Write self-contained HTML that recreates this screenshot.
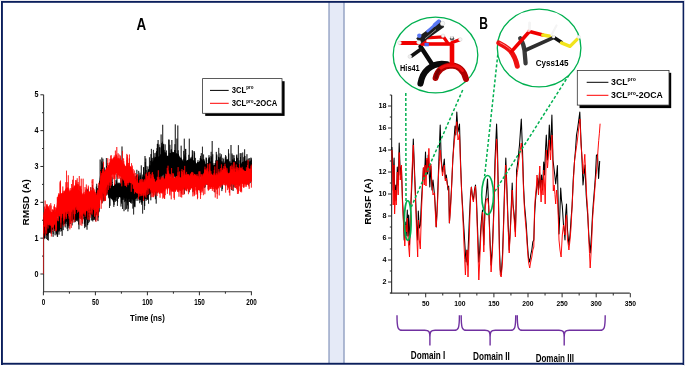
<!DOCTYPE html>
<html><head><meta charset="utf-8"><style>html,body{margin:0;padding:0;background:#fff;overflow:hidden}svg{display:block} svg{will-change:transform}</style></head>
<body><svg width="685" height="366" viewBox="0 0 685 366" font-family="'Liberation Sans', sans-serif"><rect x="0" y="0" width="685" height="366" fill="#fff"/>
<rect x="0" y="0" width="685" height="1" fill="#ebebf0"/>
<rect x="684" y="0" width="1" height="366" fill="#e6e8f0"/>
<rect x="328.2" y="2" width="16.6" height="361" fill="#e5eaf7"/>
<rect x="328.2" y="2" width="1.8" height="361" fill="#aab5d0"/>
<rect x="343" y="2" width="1.9" height="361" fill="#aab5d0"/>
<rect x="1" y="1" width="683" height="1.8" fill="#0b1f5c"/>
<rect x="1" y="1" width="1.9" height="364" fill="#0b1f5c"/>
<rect x="682.6" y="1" width="1.5" height="364" fill="#0b1f5c"/>
<rect x="1" y="362.8" width="683" height="1.9" fill="#0b1f5c"/>
<path d="M43.6,94.8 V291.9 M43.0,291.7 H251.8" stroke="#3a3a3a" stroke-width="1.1" fill="none"/>
<path d="M40.40,274.00 H43.6 M42.00,256.08 H43.6 M40.40,238.16 H43.6 M42.00,220.24 H43.6 M40.40,202.32 H43.6 M42.00,184.40 H43.6 M40.40,166.48 H43.6 M42.00,148.56 H43.6 M40.40,130.64 H43.6 M42.00,112.72 H43.6 M40.40,94.80 H43.6 M43.40,291.7 V295.30 M69.40,291.7 V293.70 M95.40,291.7 V295.30 M121.40,291.7 V293.70 M147.40,291.7 V295.30 M173.40,291.7 V293.70 M199.40,291.7 V295.30 M225.40,291.7 V293.70 M251.40,291.7 V295.30" stroke="#2a2a2a" stroke-width="1.0" fill="none"/>
<text x="38.4" y="276.50" font-size="8.2" font-weight="bold" text-anchor="end" fill="#000" textLength="4.0" lengthAdjust="spacingAndGlyphs">0</text>
<text x="38.4" y="240.66" font-size="8.2" font-weight="bold" text-anchor="end" fill="#000" textLength="4.0" lengthAdjust="spacingAndGlyphs">1</text>
<text x="38.4" y="204.82" font-size="8.2" font-weight="bold" text-anchor="end" fill="#000" textLength="4.0" lengthAdjust="spacingAndGlyphs">2</text>
<text x="38.4" y="168.98" font-size="8.2" font-weight="bold" text-anchor="end" fill="#000" textLength="4.0" lengthAdjust="spacingAndGlyphs">3</text>
<text x="38.4" y="133.14" font-size="8.2" font-weight="bold" text-anchor="end" fill="#000" textLength="4.0" lengthAdjust="spacingAndGlyphs">4</text>
<text x="38.4" y="97.30" font-size="8.2" font-weight="bold" text-anchor="end" fill="#000" textLength="4.0" lengthAdjust="spacingAndGlyphs">5</text>
<text x="43.40" y="305.0" font-size="8.2" font-weight="bold" text-anchor="middle" fill="#000" textLength="3.5" lengthAdjust="spacingAndGlyphs">0</text>
<text x="95.40" y="305.0" font-size="8.2" font-weight="bold" text-anchor="middle" fill="#000" textLength="7.0" lengthAdjust="spacingAndGlyphs">50</text>
<text x="147.40" y="305.0" font-size="8.2" font-weight="bold" text-anchor="middle" fill="#000" textLength="10.5" lengthAdjust="spacingAndGlyphs">100</text>
<text x="199.40" y="305.0" font-size="8.2" font-weight="bold" text-anchor="middle" fill="#000" textLength="10.5" lengthAdjust="spacingAndGlyphs">150</text>
<text x="251.40" y="305.0" font-size="8.2" font-weight="bold" text-anchor="middle" fill="#000" textLength="10.5" lengthAdjust="spacingAndGlyphs">200</text>
<text x="130.1" y="321.4" font-size="9.8" font-weight="bold" text-anchor="start" fill="#000" textLength="34.7" lengthAdjust="spacingAndGlyphs">Time (ns)</text>
<text transform="translate(28.8,225.4) rotate(-90)" x="0" y="0" font-size="9" font-weight="bold" fill="#000" textLength="46.2" lengthAdjust="spacingAndGlyphs">RMSD (A)</text>
<text x="136.4" y="30.1" font-size="16.7" font-weight="bold" text-anchor="start" fill="#000" textLength="9.7" lengthAdjust="spacingAndGlyphs">A</text>
<polygon points="44.0,219.4 44.5,219.7 45.0,220.4 45.5,219.2 46.0,220.1 46.5,222.3 47.0,222.3 47.5,222.2 48.0,222.3 48.5,222.0 49.0,222.2 49.5,222.0 50.0,220.3 50.5,220.9 51.0,219.6 51.5,218.8 52.0,217.4 52.5,217.0 53.0,217.8 53.5,216.0 54.0,218.2 54.5,217.8 55.0,218.0 55.5,218.2 56.0,219.3 56.5,220.0 57.0,220.8 57.5,220.1 58.0,220.1 58.5,219.6 59.0,218.4 59.5,217.8 60.0,215.6 60.5,215.9 61.0,213.0 61.5,212.7 62.0,211.4 62.5,212.2 63.0,211.0 63.5,210.7 64.0,210.6 64.5,209.3 65.0,208.5 65.5,208.8 66.0,207.6 66.5,208.4 67.0,206.8 67.5,207.3 68.0,208.5 68.5,207.3 69.0,207.6 69.5,207.3 70.0,208.0 70.5,206.7 71.0,206.0 71.5,207.6 72.0,206.4 72.5,205.8 73.0,204.7 73.5,205.9 74.0,205.8 74.5,205.8 75.0,205.8 75.5,204.1 76.0,205.6 76.5,204.5 77.0,205.2 77.5,204.4 78.0,204.1 78.5,203.5 79.0,204.0 79.5,202.9 80.0,201.5 80.5,202.0 81.0,199.9 81.5,200.6 82.0,199.3 82.5,200.4 83.0,200.5 83.5,199.5 84.0,201.3 84.5,200.2 85.0,201.4 85.5,202.5 86.0,201.3 86.5,202.9 87.0,202.8 87.5,200.8 88.0,201.7 88.5,199.8 89.0,199.1 89.5,199.3 90.0,196.2 90.5,197.5 91.0,195.9 91.5,196.7 92.0,196.1 92.5,196.0 93.0,195.4 93.5,195.6 94.0,196.8 94.5,197.5 95.0,197.8 95.5,197.7 96.0,197.3 96.5,194.6 97.0,194.2 97.5,194.5 98.0,193.1 98.5,192.8 99.0,186.1 99.5,181.0 100.0,175.3 100.5,170.5 101.0,170.1 101.5,172.5 102.0,172.9 102.5,173.1 103.0,172.2 103.5,173.0 104.0,173.4 104.5,174.0 105.0,171.9 105.5,171.4 106.0,172.8 106.5,169.9 107.0,169.8 107.5,172.8 108.0,176.5 108.5,178.9 109.0,182.3 109.5,184.1 110.0,183.0 110.5,184.3 111.0,185.9 111.5,186.4 112.0,185.9 112.5,186.2 113.0,186.0 113.5,185.9 114.0,185.7 114.5,184.1 115.0,184.5 115.5,185.2 116.0,184.7 116.5,182.8 117.0,182.3 117.5,183.6 118.0,184.0 118.5,184.1 119.0,182.9 119.5,183.1 120.0,185.3 120.5,184.0 121.0,186.1 121.5,183.1 122.0,182.4 122.5,182.6 123.0,182.1 123.5,181.8 124.0,181.7 124.5,181.5 125.0,181.6 125.5,179.9 126.0,181.1 126.5,180.3 127.0,180.4 127.5,181.6 128.0,180.7 128.5,180.6 129.0,179.9 129.5,181.9 130.0,181.4 130.5,181.2 131.0,181.1 131.5,180.7 132.0,181.7 132.5,179.7 133.0,181.6 133.5,180.3 134.0,179.6 134.5,179.4 135.0,179.5 135.5,180.1 136.0,179.0 136.5,179.1 137.0,179.5 137.5,178.6 138.0,179.3 138.5,178.8 139.0,179.4 139.5,179.3 140.0,180.4 140.5,180.5 141.0,181.2 141.5,180.2 142.0,180.7 142.5,179.8 143.0,178.4 143.5,177.0 144.0,177.1 144.5,176.6 145.0,174.1 145.5,173.4 146.0,174.5 146.5,172.9 147.0,173.1 147.5,172.6 148.0,169.8 148.5,169.1 149.0,168.7 149.5,166.1 150.0,165.8 150.5,164.9 151.0,166.1 151.5,164.3 152.0,162.6 152.5,161.0 153.0,161.7 153.5,160.8 154.0,159.5 154.5,157.6 155.0,157.9 155.5,156.6 156.0,158.0 156.5,156.9 157.0,156.8 157.5,157.3 158.0,156.8 158.5,157.0 159.0,155.8 159.5,156.6 160.0,156.7 160.5,154.6 161.0,154.4 161.5,153.8 162.0,152.3 162.5,151.2 163.0,152.6 163.5,152.5 164.0,151.7 164.5,153.7 165.0,153.5 165.5,155.0 166.0,154.8 166.5,156.0 167.0,156.1 167.5,155.9 168.0,155.9 168.5,157.3 169.0,155.3 169.5,155.2 170.0,155.3 170.5,154.0 171.0,152.7 171.5,152.4 172.0,151.1 172.5,152.3 173.0,152.3 173.5,152.8 174.0,152.2 174.5,152.8 175.0,153.4 175.5,154.3 176.0,154.1 176.5,153.0 177.0,154.8 177.5,154.6 178.0,153.9 178.5,154.0 179.0,155.9 179.5,156.2 180.0,157.5 180.5,157.9 181.0,156.8 181.5,157.9 182.0,159.3 182.5,159.5 183.0,161.0 183.5,161.9 184.0,162.6 184.5,162.5 185.0,162.9 185.5,162.8 186.0,162.3 186.5,160.4 187.0,159.9 187.5,159.7 188.0,160.6 188.5,159.6 189.0,159.1 189.5,159.9 190.0,158.4 190.5,159.6 191.0,158.8 191.5,159.5 192.0,158.3 192.5,160.5 193.0,160.1 193.5,160.0 194.0,161.0 194.5,160.6 195.0,161.4 195.5,161.6 196.0,162.9 196.5,163.7 197.0,163.1 197.5,162.0 198.0,162.2 198.5,162.4 199.0,162.3 199.5,160.6 200.0,161.5 200.5,161.1 201.0,161.1 201.5,159.3 202.0,160.6 202.5,159.7 203.0,160.9 203.5,161.2 204.0,160.4 204.5,161.3 205.0,161.6 205.5,164.0 206.0,164.4 206.5,164.1 207.0,164.4 207.5,162.7 208.0,164.0 208.5,162.2 209.0,161.6 209.5,162.0 210.0,163.5 210.5,163.3 211.0,163.9 211.5,164.5 212.0,163.8 212.5,165.2 213.0,164.3 213.5,165.6 214.0,165.5 214.5,164.7 215.0,164.7 215.5,163.3 216.0,162.9 216.5,160.9 217.0,160.9 217.5,160.7 218.0,160.1 218.5,158.5 219.0,157.9 219.5,160.3 220.0,159.9 220.5,159.4 221.0,160.6 221.5,161.2 222.0,162.9 222.5,162.5 223.0,162.7 223.5,163.1 224.0,163.3 224.5,162.6 225.0,161.2 225.5,162.1 226.0,159.6 226.5,159.5 227.0,158.9 227.5,159.2 228.0,160.3 228.5,161.0 229.0,160.5 229.5,161.3 230.0,162.8 230.5,163.2 231.0,162.9 231.5,163.6 232.0,162.7 232.5,161.9 233.0,163.2 233.5,162.7 234.0,161.3 234.5,162.9 235.0,161.4 235.5,160.8 236.0,162.6 236.5,162.8 237.0,162.5 237.5,162.8 238.0,164.2 238.5,164.7 239.0,164.6 239.5,165.4 240.0,163.8 240.5,163.4 241.0,164.5 241.5,163.6 242.0,162.1 242.5,162.1 243.0,161.8 243.5,162.3 244.0,160.4 244.5,160.8 245.0,160.0 245.5,161.2 246.0,161.8 246.5,160.4 247.0,160.3 247.5,160.9 248.0,160.6 248.5,160.6 249.0,162.1 249.5,160.8 250.0,162.0 250.5,160.4 251.0,161.4 251.0,176.0 250.5,176.9 250.0,175.7 249.5,176.2 249.0,177.5 248.5,176.6 248.0,177.4 247.5,176.5 247.0,176.3 246.5,175.5 246.0,177.2 245.5,177.5 245.0,177.1 244.5,175.7 244.0,176.5 243.5,176.9 243.0,178.4 242.5,178.2 242.0,179.4 241.5,179.6 241.0,179.2 240.5,178.9 240.0,181.0 239.5,180.9 239.0,179.5 238.5,179.3 238.0,179.9 237.5,178.3 237.0,179.1 236.5,178.8 236.0,177.9 235.5,176.5 235.0,176.4 234.5,177.2 234.0,177.5 233.5,178.4 233.0,178.3 232.5,178.9 232.0,178.9 231.5,177.9 231.0,178.7 230.5,177.7 230.0,178.1 229.5,176.4 229.0,177.0 228.5,177.2 228.0,176.3 227.5,176.6 227.0,175.8 226.5,177.2 226.0,177.8 225.5,176.4 225.0,177.0 224.5,177.8 224.0,179.8 223.5,180.0 223.0,179.6 222.5,180.3 222.0,177.6 221.5,178.5 221.0,176.3 220.5,176.9 220.0,174.9 219.5,174.4 219.0,174.8 218.5,174.7 218.0,175.9 217.5,175.8 217.0,177.6 216.5,178.5 216.0,177.7 215.5,180.2 215.0,179.2 214.5,180.1 214.0,181.0 213.5,181.6 213.0,180.3 212.5,180.7 212.0,179.7 211.5,179.5 211.0,179.5 210.5,179.5 210.0,178.0 209.5,179.2 209.0,178.6 208.5,179.9 208.0,178.3 207.5,179.8 207.0,178.6 206.5,180.8 206.0,179.6 205.5,178.7 205.0,179.4 204.5,177.4 204.0,177.0 203.5,176.2 203.0,178.0 202.5,175.5 202.0,176.6 201.5,175.8 201.0,176.1 200.5,176.8 200.0,176.9 199.5,177.0 199.0,178.3 198.5,178.4 198.0,178.7 197.5,181.1 197.0,179.9 196.5,179.1 196.0,179.8 195.5,178.6 195.0,179.4 194.5,178.0 194.0,177.7 193.5,177.3 193.0,176.9 192.5,176.5 192.0,176.4 191.5,176.2 191.0,176.9 190.5,176.6 190.0,178.0 189.5,177.0 189.0,177.4 188.5,178.2 188.0,178.3 187.5,178.7 187.0,178.4 186.5,178.5 186.0,180.0 185.5,180.2 185.0,181.7 184.5,180.3 184.0,181.1 183.5,180.7 183.0,179.3 182.5,180.7 182.0,180.5 181.5,178.0 181.0,178.3 180.5,178.6 180.0,177.1 179.5,178.8 179.0,177.4 178.5,177.3 178.0,177.2 177.5,176.9 177.0,176.9 176.5,177.3 176.0,176.9 175.5,175.9 175.0,175.0 174.5,176.2 174.0,174.8 173.5,174.0 173.0,175.0 172.5,173.0 172.0,173.8 171.5,175.0 171.0,174.7 170.5,175.4 170.0,177.7 169.5,178.5 169.0,177.8 168.5,179.6 168.0,178.4 167.5,178.8 167.0,179.8 166.5,179.1 166.0,177.4 165.5,176.5 165.0,175.4 164.5,174.3 164.0,174.7 163.5,174.5 163.0,175.1 162.5,175.9 162.0,175.3 161.5,176.8 161.0,178.0 160.5,179.3 160.0,178.7 159.5,179.4 159.0,181.7 158.5,181.4 158.0,180.4 157.5,181.9 157.0,181.4 156.5,181.1 156.0,182.8 155.5,183.5 155.0,184.3 154.5,184.8 154.0,186.0 153.5,186.2 153.0,186.7 152.5,190.2 152.0,191.1 151.5,191.1 151.0,192.8 150.5,194.1 150.0,194.4 149.5,194.4 149.0,195.4 148.5,194.8 148.0,196.1 147.5,194.6 147.0,195.8 146.5,196.6 146.0,196.6 145.5,196.4 145.0,195.8 144.5,196.3 144.0,198.8 143.5,198.9 143.0,198.3 142.5,200.6 142.0,199.6 141.5,200.5 141.0,200.1 140.5,200.6 140.0,199.7 139.5,200.3 139.0,199.4 138.5,198.1 138.0,197.9 137.5,196.9 137.0,197.4 136.5,198.9 136.0,198.6 135.5,199.4 135.0,197.8 134.5,198.9 134.0,198.3 133.5,199.5 133.0,199.0 132.5,199.6 132.0,198.2 131.5,199.4 131.0,199.0 130.5,199.6 130.0,198.1 129.5,198.7 129.0,198.9 128.5,198.8 128.0,198.8 127.5,198.6 127.0,198.9 126.5,197.7 126.0,199.1 125.5,197.8 125.0,199.1 124.5,197.0 124.0,197.9 123.5,196.6 123.0,197.7 122.5,198.8 122.0,199.1 121.5,199.4 121.0,197.9 120.5,197.5 120.0,197.0 119.5,196.9 119.0,197.6 118.5,197.2 118.0,197.2 117.5,197.6 117.0,197.5 116.5,196.8 116.0,197.9 115.5,197.3 115.0,199.0 114.5,198.5 114.0,199.6 113.5,198.9 113.0,200.2 112.5,200.2 112.0,199.2 111.5,199.5 111.0,198.4 110.5,198.4 110.0,196.8 109.5,196.7 109.0,196.8 108.5,194.9 108.0,193.9 107.5,193.8 107.0,192.3 106.5,193.5 106.0,195.1 105.5,194.0 105.0,194.8 104.5,195.0 104.0,196.5 103.5,196.6 103.0,195.8 102.5,196.8 102.0,194.3 101.5,195.6 101.0,195.1 100.5,194.7 100.0,196.9 99.5,202.2 99.0,206.6 98.5,209.7 98.0,211.8 97.5,211.6 97.0,211.8 96.5,213.6 96.0,213.7 95.5,214.8 95.0,214.4 94.5,212.7 94.0,213.0 93.5,212.1 93.0,212.4 92.5,212.5 92.0,213.1 91.5,211.7 91.0,213.7 90.5,214.3 90.0,215.0 89.5,213.9 89.0,215.4 88.5,216.3 88.0,216.8 87.5,217.4 87.0,217.9 86.5,218.7 86.0,217.7 85.5,218.7 85.0,216.6 84.5,215.9 84.0,216.1 83.5,216.1 83.0,214.7 82.5,215.2 82.0,215.1 81.5,214.8 81.0,216.1 80.5,216.2 80.0,216.8 79.5,218.7 79.0,217.6 78.5,218.9 78.0,219.8 77.5,219.4 77.0,219.6 76.5,220.0 76.0,221.2 75.5,219.0 75.0,220.6 74.5,219.7 74.0,220.0 73.5,219.1 73.0,220.5 72.5,220.6 72.0,219.4 71.5,220.8 71.0,220.3 70.5,221.4 70.0,221.0 69.5,221.4 69.0,221.5 68.5,221.4 68.0,221.2 67.5,222.7 67.0,222.6 66.5,221.0 66.0,221.9 65.5,221.2 65.0,221.6 64.5,224.1 64.0,224.5 63.5,223.4 63.0,223.2 62.5,223.7 62.0,226.1 61.5,225.5 61.0,227.9 60.5,229.3 60.0,227.9 59.5,230.0 59.0,229.8 58.5,231.3 58.0,232.7 57.5,231.0 57.0,233.1 56.5,232.6 56.0,232.0 55.5,230.6 55.0,229.5 54.5,228.8 54.0,228.7 53.5,228.0 53.0,227.7 52.5,229.9 52.0,230.0 51.5,230.9 51.0,231.6 50.5,231.4 50.0,231.2 49.5,233.1 49.0,232.2 48.5,234.1 48.0,234.4 47.5,232.5 47.0,233.0 46.5,232.6 46.0,231.6 45.5,232.7 45.0,230.5 44.5,231.7 44.0,231.7" fill="#000"/>
<polyline points="43.60,238.0 43.80,220.8 43.85,224.9 43.89,219.8 43.94,222.5 43.98,219.1 44.03,217.0 44.07,227.8 44.12,230.9 44.16,239.1 44.21,231.2 44.25,228.9 44.30,227.9 44.35,228.0 44.39,229.7 44.44,220.3 44.48,225.9 44.53,219.7 44.57,222.7 44.62,238.0 44.66,231.7 44.71,227.5 44.75,229.4 44.80,228.0 44.85,222.7 44.89,238.1 44.94,226.8 44.98,230.5 45.03,227.7 45.07,227.4 45.12,223.4 45.16,231.5 45.21,227.2 45.25,227.8 45.30,227.7 45.35,222.6 45.39,222.7 45.44,228.5 45.48,231.7 45.53,229.7 45.57,231.2 45.62,225.8 45.66,234.2 45.71,233.9 45.75,225.3 45.80,226.6 45.85,229.6 45.89,227.5 45.94,228.6 45.98,227.8 46.03,232.8 46.07,234.3 46.12,229.2 46.16,228.9 46.21,230.0 46.25,228.4 46.30,230.3 46.35,231.9 46.39,239.0 46.44,231.2 46.48,230.0 46.53,228.9 46.57,234.5 46.62,227.9 46.66,225.5 46.71,229.0 46.75,229.3 46.80,225.7 46.85,224.2 46.89,229.0 46.94,228.5 46.98,229.7 47.03,232.1 47.07,224.0 47.12,232.4 47.16,227.9 47.21,222.5 47.25,234.1 47.30,231.8 47.35,235.6 47.39,232.4 47.44,223.2 47.48,240.0 47.53,233.1 47.57,221.4 47.62,227.0 47.66,218.4 47.71,229.9 47.75,223.9 47.80,229.4 47.85,224.4 47.89,221.1 47.94,221.6 47.98,233.3 48.03,230.2 48.07,228.5 48.12,222.6 48.16,231.2 48.21,233.0 48.25,227.4 48.30,227.9 48.35,220.8 48.39,240.5 48.44,223.7 48.48,228.1 48.53,219.7 48.57,226.8 48.62,228.7 48.66,232.4 48.71,233.0 48.75,227.5 48.80,230.8 48.85,232.9 48.89,227.8 48.94,217.7 48.98,219.4 49.03,224.5 49.07,222.5 49.12,221.5 49.16,229.0 49.21,227.7 49.25,228.3 49.30,226.9 49.35,224.4 49.39,232.7 49.44,229.0 49.48,228.3 49.53,228.5 49.57,228.8 49.62,223.7 49.66,220.8 49.71,222.7 49.75,222.2 49.80,229.2 49.85,228.3 49.89,226.9 49.94,230.6 49.98,223.3 50.03,220.2 50.07,224.8 50.12,224.6 50.16,228.5 50.21,230.7 50.25,224.5 50.30,229.1 50.35,231.9 50.39,227.3 50.44,225.2 50.48,217.8 50.53,223.8 50.57,233.4 50.62,222.2 50.66,222.1 50.71,226.1 50.75,222.6 50.80,217.1 50.85,218.8 50.89,222.5 50.94,222.3 50.98,219.8 51.03,228.7 51.07,220.0 51.12,221.6 51.16,227.7 51.21,224.5 51.25,225.4 51.30,229.9 51.35,223.8 51.39,220.1 51.44,220.6 51.48,226.1 51.53,227.2 51.57,233.5 51.62,226.2 51.66,223.8 51.71,223.0 51.75,222.7 51.80,217.0 51.85,224.8 51.89,223.6 51.94,222.1 51.98,232.0 52.03,225.1 52.07,227.4 52.12,228.6 52.16,222.3 52.21,223.3 52.25,225.2 52.30,223.2 52.35,224.2 52.39,226.5 52.44,221.1 52.48,226.7 52.53,228.5 52.57,229.2 52.62,221.6 52.66,221.4 52.71,219.7 52.75,220.8 52.80,218.4 52.85,216.6 52.89,221.6 52.94,219.8 52.98,224.3 53.03,221.4 53.07,225.1 53.12,236.8 53.16,231.3 53.21,233.9 53.25,230.5 53.30,222.7 53.35,217.4 53.39,223.8 53.44,219.4 53.48,212.5 53.53,210.5 53.57,216.4 53.62,220.2 53.66,223.0 53.71,218.1 53.75,218.8 53.80,222.0 53.85,225.1 53.89,225.7 53.94,223.5 53.98,216.2 54.03,221.3 54.07,217.7 54.12,219.9 54.16,219.0 54.21,213.2 54.25,217.9 54.30,216.2 54.35,219.0 54.39,221.1 54.44,219.8 54.48,213.4 54.53,214.3 54.57,215.9 54.62,219.2 54.66,230.9 54.71,229.0 54.75,222.3 54.80,220.5 54.85,215.2 54.89,219.2 54.94,219.9 54.98,226.0 55.03,225.2 55.07,225.8 55.12,235.3 55.16,226.7 55.21,220.7 55.25,228.7 55.30,226.5 55.35,226.3 55.39,225.2 55.44,224.7 55.48,229.0 55.53,225.4 55.57,226.4 55.62,220.6 55.66,221.1 55.71,229.1 55.75,226.8 55.80,219.8 55.85,218.2 55.89,224.2 55.94,228.7 55.98,225.8 56.03,224.5 56.07,219.0 56.12,221.1 56.16,220.1 56.21,218.1 56.25,221.5 56.30,224.2 56.35,228.8 56.39,233.2 56.44,229.4 56.48,226.1 56.53,234.3 56.57,234.2 56.62,233.1 56.66,228.9 56.71,226.5 56.75,221.3 56.80,221.8 56.85,222.5 56.89,224.6 56.94,226.6 56.98,220.2 57.03,225.3 57.07,221.6 57.12,221.5 57.16,234.5 57.21,230.0 57.25,234.9 57.30,236.5 57.35,228.9 57.39,230.1 57.44,222.7 57.48,220.8 57.53,223.3 57.57,236.9 57.62,232.8 57.66,229.6 57.71,226.1 57.75,224.4 57.80,230.7 57.85,231.6 57.89,225.0 57.94,228.8 57.98,226.8 58.03,217.6 58.07,223.7 58.12,218.6 58.16,218.8 58.21,223.6 58.25,216.7 58.30,210.3 58.35,217.1 58.39,210.9 58.44,225.5 58.48,230.4 58.53,222.8 58.57,221.7 58.62,223.5 58.66,222.3 58.71,226.8 58.75,227.6 58.80,225.5 58.85,227.4 58.89,224.3 58.94,226.0 58.98,234.6 59.03,224.0 59.07,225.3 59.12,220.9 59.16,231.4 59.21,223.7 59.25,220.8 59.30,225.5 59.35,226.6 59.39,230.7 59.44,230.1 59.48,221.7 59.53,225.2 59.57,221.7 59.62,216.6 59.66,218.2 59.71,221.1 59.75,220.4 59.80,223.3 59.85,224.0 59.89,229.0 59.94,229.2 59.98,223.7 60.03,220.2 60.07,213.3 60.12,216.7 60.16,226.3 60.21,222.8 60.25,221.0 60.30,214.2 60.35,221.2 60.39,215.2 60.44,223.4 60.48,213.9 60.53,210.2 60.57,214.7 60.62,215.6 60.66,219.7 60.71,218.3 60.75,221.7 60.80,218.0 60.85,231.6 60.89,231.4 60.94,230.6 60.98,230.5 61.03,227.5 61.07,226.2 61.12,223.7 61.16,222.7 61.21,229.0 61.25,226.1 61.30,226.6 61.35,220.9 61.39,226.0 61.44,222.2 61.48,231.0 61.53,213.6 61.57,212.9 61.62,227.4 61.66,226.9 61.71,217.2 61.75,217.1 61.80,203.4 61.85,214.5 61.89,215.1 61.94,210.4 61.98,212.8 62.03,219.1 62.07,208.7 62.12,202.3 62.16,235.9 62.21,223.5 62.25,224.3 62.30,223.2 62.35,215.2 62.39,217.4 62.44,220.3 62.48,215.9 62.53,218.8 62.57,217.3 62.62,211.8 62.66,213.2 62.71,213.9 62.75,219.7 62.80,211.0 62.85,215.9 62.89,220.6 62.94,222.1 62.98,223.2 63.03,214.0 63.07,214.8 63.12,212.5 63.16,230.1 63.21,224.7 63.25,217.9 63.30,214.8 63.35,214.6 63.39,220.1 63.44,218.4 63.48,221.0 63.53,224.9 63.57,218.7 63.62,218.8 63.66,215.9 63.71,212.9 63.75,207.8 63.80,215.7 63.85,210.5 63.89,214.9 63.94,217.9 63.98,221.8 64.03,216.6 64.07,217.5 64.12,207.8 64.16,211.3 64.21,214.3 64.25,224.0 64.30,219.1 64.35,222.1 64.39,219.6 64.44,221.7 64.48,221.9 64.53,222.1 64.57,213.0 64.62,219.6 64.66,214.2 64.71,220.0 64.75,224.1 64.80,217.9 64.85,207.7 64.89,209.4 64.94,210.2 64.98,206.2 65.03,207.4 65.07,208.0 65.12,216.1 65.16,223.0 65.21,227.4 65.25,217.9 65.30,215.3 65.35,218.2 65.39,210.7 65.44,210.5 65.48,223.3 65.53,220.9 65.57,215.4 65.62,218.5 65.66,217.5 65.71,214.1 65.75,211.1 65.80,208.3 65.85,216.3 65.89,217.5 65.94,221.7 65.98,215.6 66.03,214.1 66.07,210.5 66.12,211.0 66.16,211.7 66.21,210.9 66.25,207.9 66.30,212.5 66.35,214.2 66.39,206.2 66.44,215.8 66.48,207.0 66.53,201.0 66.57,203.6 66.62,199.4 66.66,211.6 66.71,211.6 66.75,202.6 66.80,208.8 66.85,207.5 66.89,215.0 66.94,218.8 66.98,224.1 67.03,221.9 67.07,216.6 67.12,220.4 67.16,228.7 67.21,214.8 67.25,206.7 67.30,215.0 67.35,204.9 67.39,205.4 67.44,214.5 67.48,199.6 67.53,216.0 67.57,216.9 67.62,212.0 67.66,216.1 67.71,225.9 67.75,222.3 67.80,231.1 67.85,217.2 67.89,212.7 67.94,224.6 67.98,222.0 68.03,214.2 68.07,226.4 68.12,209.1 68.16,215.5 68.21,224.7 68.25,218.9 68.30,212.3 68.35,212.8 68.39,210.9 68.44,210.7 68.48,213.3 68.53,213.0 68.57,210.4 68.62,207.8 68.66,203.4 68.71,213.9 68.75,209.6 68.80,218.7 68.85,213.2 68.89,225.9 68.94,227.9 68.98,219.5 69.03,216.6 69.07,215.4 69.12,223.9 69.16,219.2 69.21,212.9 69.25,217.8 69.30,225.9 69.35,211.8 69.39,215.0 69.44,211.4 69.48,212.8 69.53,208.7 69.57,217.1 69.62,205.8 69.66,209.6 69.71,214.8 69.75,213.5 69.80,210.9 69.85,210.1 69.89,214.1 69.94,205.3 69.98,210.8 70.03,219.0 70.07,209.8 70.12,207.3 70.16,211.8 70.21,215.5 70.25,209.7 70.30,214.0 70.35,224.0 70.39,223.8 70.44,219.8 70.48,213.2 70.53,217.8 70.57,217.0 70.62,214.8 70.66,221.1 70.71,219.3 70.75,220.0 70.80,221.3 70.85,209.7 70.89,209.3 70.94,214.3 70.98,205.3 71.03,210.1 71.07,203.7 71.12,211.1 71.16,214.6 71.21,212.3 71.25,211.2 71.30,213.3 71.35,214.2 71.39,205.5 71.44,205.9 71.48,208.5 71.53,208.0 71.57,214.3 71.62,219.0 71.66,217.6 71.71,211.1 71.75,219.0 71.80,220.6 71.85,213.2 71.89,206.7 71.94,216.2 71.98,217.5 72.03,221.4 72.07,218.7 72.12,221.7 72.16,225.4 72.21,219.0 72.25,214.7 72.30,215.3 72.35,214.1 72.39,214.7 72.44,204.7 72.48,216.3 72.53,212.8 72.57,215.3 72.62,215.1 72.66,205.7 72.71,207.2 72.75,214.8 72.80,209.8 72.85,219.5 72.89,213.2 72.94,215.5 72.98,213.2 73.03,212.3 73.07,209.9 73.12,210.7 73.16,210.6 73.21,204.1 73.25,206.9 73.30,218.1 73.35,218.0 73.39,212.6 73.44,213.1 73.48,214.5 73.53,204.9 73.57,205.0 73.62,203.2 73.66,197.6 73.71,198.6 73.75,195.3 73.80,202.0 73.85,205.7 73.89,214.1 73.94,215.4 73.98,213.5 74.03,216.2 74.07,218.4 74.12,222.4 74.16,214.5 74.21,218.3 74.25,213.5 74.30,206.6 74.35,205.7 74.39,212.4 74.44,218.4 74.48,217.7 74.53,213.3 74.57,216.6 74.62,220.0 74.66,212.0 74.71,214.7 74.75,219.2 74.80,211.4 74.85,217.4 74.89,209.8 74.94,205.9 74.98,207.6 75.03,220.1 75.07,217.6 75.12,214.3 75.16,211.7 75.21,216.9 75.25,216.1 75.30,218.0 75.35,222.1 75.39,217.4 75.44,207.2 75.48,210.2 75.53,202.0 75.57,203.5 75.62,201.7 75.66,216.4 75.71,211.8 75.75,204.4 75.80,212.6 75.85,219.0 75.89,212.8 75.94,216.0 75.98,214.6 76.03,217.7 76.07,212.4 76.12,212.3 76.16,219.2 76.21,221.0 76.25,217.7 76.30,209.0 76.35,212.0 76.39,211.0 76.44,213.4 76.48,207.8 76.53,209.1 76.57,206.1 76.62,215.0 76.66,205.2 76.71,206.8 76.75,202.3 76.80,211.2 76.85,215.6 76.89,214.4 76.94,214.3 76.98,216.3 77.03,213.8 77.07,209.4 77.12,206.9 77.16,217.9 77.21,217.8 77.25,213.1 77.30,221.4 77.35,216.3 77.39,215.4 77.44,210.6 77.48,214.8 77.53,212.4 77.57,217.7 77.62,220.4 77.66,215.6 77.71,214.9 77.75,210.5 77.80,215.2 77.85,211.9 77.89,211.5 77.94,212.7 77.98,209.2 78.03,207.5 78.07,206.8 78.12,212.6 78.16,215.9 78.21,210.9 78.25,193.5 78.30,204.1 78.35,202.2 78.39,207.5 78.44,216.1 78.48,216.3 78.53,211.7 78.57,224.5 78.62,208.1 78.66,213.4 78.71,215.7 78.75,214.1 78.80,206.7 78.85,216.2 78.89,217.5 78.94,229.3 78.98,215.2 79.03,204.3 79.07,212.1 79.12,203.0 79.16,212.3 79.21,209.8 79.25,211.3 79.30,210.3 79.35,206.3 79.39,211.9 79.44,205.9 79.48,214.1 79.53,216.3 79.57,210.5 79.62,210.2 79.66,206.3 79.71,206.7 79.75,205.2 79.80,191.8 79.85,211.8 79.89,197.3 79.94,200.3 79.98,201.0 80.03,213.8 80.07,198.6 80.12,210.2 80.16,208.9 80.21,205.7 80.25,212.3 80.30,209.2 80.35,212.4 80.39,210.6 80.44,207.4 80.48,205.1 80.53,212.0 80.57,204.2 80.62,214.7 80.66,218.8 80.71,210.8 80.75,204.6 80.80,200.7 80.85,200.3 80.89,200.1 80.94,199.8 80.98,207.1 81.03,206.4 81.07,207.0 81.12,202.7 81.16,196.1 81.21,208.7 81.25,204.3 81.30,206.4 81.35,217.1 81.39,208.5 81.44,210.3 81.48,209.0 81.53,208.4 81.57,218.5 81.62,215.6 81.66,208.9 81.71,214.8 81.75,214.5 81.80,211.6 81.85,219.9 81.89,201.9 81.94,201.0 81.98,202.6 82.03,207.0 82.07,214.4 82.12,202.9 82.16,196.7 82.21,209.3 82.25,223.7 82.30,223.0 82.35,221.8 82.39,208.2 82.44,206.9 82.48,207.6 82.53,204.4 82.57,202.6 82.62,206.3 82.66,209.6 82.71,210.5 82.75,211.1 82.80,206.9 82.85,210.2 82.89,208.4 82.94,202.6 82.98,210.0 83.03,215.3 83.07,206.1 83.12,210.3 83.16,203.9 83.21,213.2 83.25,207.9 83.30,219.2 83.35,210.7 83.39,203.6 83.44,205.4 83.48,198.8 83.53,199.3 83.57,205.9 83.62,204.6 83.66,214.9 83.71,208.8 83.75,210.1 83.80,204.5 83.85,208.8 83.89,202.4 83.94,201.4 83.98,209.5 84.03,211.8 84.07,207.5 84.12,203.3 84.16,214.0 84.21,212.5 84.25,205.6 84.30,208.2 84.35,224.1 84.39,213.5 84.44,215.1 84.48,204.6 84.53,212.6 84.57,213.4 84.62,214.7 84.66,228.1 84.71,222.7 84.75,220.5 84.80,219.0 84.85,221.4 84.89,215.1 84.94,222.8 84.98,220.9 85.03,219.6 85.07,226.2 85.12,213.6 85.16,204.6 85.21,205.5 85.25,205.4 85.30,214.1 85.35,213.6 85.39,213.5 85.44,212.4 85.48,206.8 85.53,209.6 85.57,216.0 85.62,214.6 85.66,210.1 85.71,217.1 85.75,212.2 85.80,221.0 85.85,227.0 85.89,206.2 85.94,199.0 85.98,207.4 86.03,209.3 86.07,202.7 86.12,197.5 86.16,207.9 86.21,211.2 86.25,207.5 86.30,214.9 86.35,219.7 86.39,212.5 86.44,207.5 86.48,211.9 86.53,206.9 86.57,213.2 86.62,205.9 86.66,210.8 86.71,217.2 86.75,216.4 86.80,213.8 86.85,214.6 86.89,208.2 86.94,209.6 86.98,215.9 87.03,229.7 87.07,206.4 87.12,214.2 87.16,206.0 87.21,203.0 87.25,196.7 87.30,202.3 87.35,206.0 87.39,212.6 87.44,215.0 87.48,207.8 87.53,223.4 87.57,225.2 87.62,212.9 87.66,221.2 87.71,224.8 87.75,220.6 87.80,202.2 87.85,201.4 87.89,214.4 87.94,188.8 87.98,201.2 88.03,189.7 88.07,200.6 88.12,198.5 88.16,197.7 88.21,205.3 88.25,206.8 88.30,205.4 88.35,203.2 88.39,199.4 88.44,198.5 88.48,217.1 88.53,214.2 88.57,217.1 88.62,221.3 88.66,223.1 88.71,210.2 88.75,211.4 88.80,200.5 88.85,204.4 88.89,213.8 88.94,216.7 88.98,213.7 89.03,215.7 89.07,205.4 89.12,202.4 89.16,207.8 89.21,202.7 89.25,210.1 89.30,207.8 89.35,206.6 89.39,216.3 89.44,221.7 89.48,218.5 89.53,204.9 89.57,209.0 89.62,213.2 89.66,206.1 89.71,206.1 89.75,203.3 89.80,213.6 89.85,211.8 89.89,207.0 89.94,209.3 89.98,208.4 90.03,204.4 90.07,207.3 90.12,213.4 90.16,210.1 90.21,199.8 90.25,200.3 90.30,197.4 90.35,198.2 90.39,213.1 90.44,209.0 90.48,208.1 90.53,205.2 90.57,209.4 90.62,206.3 90.66,210.4 90.71,210.0 90.75,204.7 90.80,198.7 90.85,196.8 90.89,193.3 90.94,187.4 90.98,209.2 91.03,211.5 91.07,208.5 91.12,213.0 91.16,215.3 91.21,207.2 91.25,207.3 91.30,220.4 91.35,210.9 91.39,205.5 91.44,202.0 91.48,201.8 91.53,204.4 91.57,202.6 91.62,211.0 91.66,209.0 91.71,213.0 91.75,200.1 91.80,198.2 91.85,200.4 91.89,198.1 91.94,201.0 91.98,200.0 92.03,202.2 92.07,210.8 92.12,206.0 92.16,200.1 92.21,210.2 92.25,220.3 92.30,207.8 92.35,212.9 92.39,209.4 92.44,200.3 92.48,196.7 92.53,185.0 92.57,192.7 92.62,208.9 92.66,195.2 92.71,204.2 92.75,196.0 92.80,221.4 92.85,191.3 92.89,200.9 92.94,197.2 92.98,211.2 93.03,208.8 93.07,201.1 93.12,201.9 93.16,204.4 93.21,217.1 93.25,210.7 93.30,214.6 93.35,210.3 93.39,216.4 93.44,210.2 93.48,220.0 93.53,210.6 93.57,212.9 93.62,210.8 93.66,200.4 93.71,202.8 93.75,208.2 93.80,202.6 93.85,208.0 93.89,204.0 93.94,206.7 93.98,200.1 94.03,211.9 94.07,200.0 94.12,197.0 94.16,208.3 94.21,207.4 94.25,209.2 94.30,205.5 94.35,219.3 94.39,208.7 94.44,213.2 94.48,216.9 94.53,217.2 94.57,218.3 94.62,218.3 94.66,209.7 94.71,205.4 94.75,219.9 94.80,211.5 94.85,210.1 94.89,213.2 94.94,214.6 94.98,210.6 95.03,200.4 95.07,203.3 95.12,206.8 95.16,212.6 95.21,205.6 95.25,200.7 95.30,200.9 95.35,194.9 95.39,202.2 95.44,209.2 95.48,221.2 95.53,213.7 95.57,203.2 95.62,208.9 95.66,216.1 95.71,212.7 95.75,219.9 95.80,208.6 95.85,207.7 95.89,211.0 95.94,209.2 95.98,198.4 96.03,203.1 96.07,210.1 96.12,201.9 96.16,197.9 96.21,202.6 96.25,214.9 96.30,204.9 96.35,186.6 96.39,194.5 96.44,198.7 96.48,197.0 96.53,205.5 96.57,203.2 96.62,199.0 96.66,208.2 96.71,183.8 96.75,201.4 96.80,197.9 96.85,195.7 96.89,190.8 96.94,198.2 96.98,198.4 97.03,201.9 97.07,208.1 97.12,195.8 97.16,192.9 97.21,197.9 97.25,193.3 97.30,198.7 97.35,195.1 97.39,198.9 97.44,206.6 97.48,194.9 97.53,194.3 97.57,188.1 97.62,196.6 97.66,195.8 97.71,199.6 97.75,215.2 97.80,202.5 97.85,211.7 97.89,215.2 97.94,204.9 97.98,217.3 98.03,221.1 98.07,215.3 98.12,217.5 98.16,207.3 98.21,202.1 98.25,209.2 98.30,197.3 98.35,185.5 98.39,187.0 98.44,189.7 98.48,199.4 98.53,201.4 98.57,196.3 98.62,195.2 98.66,189.8 98.71,197.8 98.75,206.9 98.80,194.9 98.85,209.6 98.89,212.3 98.94,201.5 98.98,196.0 99.03,200.6 99.07,211.4 99.12,206.1 99.16,200.0 99.21,191.4 99.25,192.7 99.30,199.2 99.35,190.3 99.39,198.2 99.44,188.4 99.48,193.6 99.53,195.8 99.57,192.0 99.62,191.6 99.66,180.8 99.71,189.6 99.75,185.7 99.80,181.9 99.85,183.8 99.89,191.4 99.94,197.2 99.98,190.8 100.03,181.4 100.07,181.1 100.12,174.5 100.16,159.5 100.21,175.1 100.25,185.4 100.30,187.3 100.35,191.4 100.39,193.5 100.44,177.9 100.48,187.0 100.53,197.4 100.57,193.7 100.62,186.5 100.66,184.7 100.71,179.6 100.75,181.8 100.80,170.8 100.85,177.6 100.89,185.4 100.94,189.0 100.98,177.1 101.03,179.4 101.07,180.4 101.12,196.7 101.16,183.7 101.21,190.1 101.25,180.3 101.30,175.5 101.35,170.0 101.39,179.3 101.44,168.3 101.48,188.5 101.53,175.6 101.57,186.8 101.62,181.7 101.66,162.1 101.71,161.5 101.75,177.4 101.80,157.5 101.85,164.8 101.89,183.0 101.94,184.3 101.98,179.6 102.03,177.8 102.07,187.0 102.12,203.1 102.16,200.6 102.21,177.8 102.25,177.6 102.30,167.0 102.35,175.5 102.39,193.1 102.44,193.3 102.48,188.5 102.53,183.4 102.57,163.5 102.62,164.3 102.66,172.7 102.71,188.4 102.75,178.8 102.80,177.6 102.85,183.4 102.89,158.7 102.94,166.9 102.98,167.3 103.03,187.4 103.07,181.6 103.12,171.2 103.16,176.9 103.21,188.7 103.25,178.2 103.30,190.3 103.35,201.3 103.39,179.1 103.44,184.7 103.48,187.3 103.53,185.3 103.57,194.8 103.62,196.9 103.66,175.9 103.71,178.1 103.75,174.4 103.80,172.6 103.85,180.0 103.89,172.2 103.94,173.7 103.98,181.4 104.03,194.6 104.07,184.9 104.12,192.5 104.16,199.6 104.21,185.9 104.25,183.8 104.30,178.8 104.35,183.0 104.39,191.8 104.44,200.6 104.48,196.4 104.53,180.0 104.57,179.4 104.62,167.5 104.66,195.3 104.71,193.5 104.75,190.5 104.80,190.5 104.85,193.4 104.89,184.8 104.94,192.9 104.98,183.8 105.03,190.2 105.07,187.1 105.12,187.1 105.16,185.1 105.21,188.6 105.25,179.1 105.30,181.0 105.35,173.7 105.39,170.3 105.44,170.0 105.48,181.1 105.53,172.3 105.57,176.1 105.62,180.1 105.66,183.5 105.71,186.7 105.75,174.0 105.80,189.2 105.85,174.6 105.89,178.5 105.94,171.7 105.98,195.9 106.03,172.0 106.07,182.9 106.12,185.6 106.16,177.1 106.21,179.2 106.25,184.1 106.30,183.1 106.35,187.6 106.40,158.0 106.44,168.9 106.48,168.1 106.53,166.0 106.57,168.1 106.62,185.0 106.66,176.3 106.71,171.9 106.75,174.8 106.80,184.0 106.85,183.5 106.89,195.0 106.94,194.4 106.98,184.4 107.03,181.7 107.07,186.9 107.12,172.7 107.16,191.3 107.21,189.8 107.25,190.7 107.30,187.5 107.35,182.6 107.39,188.1 107.44,178.8 107.48,173.5 107.53,171.9 107.57,175.1 107.62,178.6 107.66,176.9 107.71,181.0 107.75,188.4 107.80,190.5 107.85,189.4 107.89,193.0 107.94,180.5 107.98,178.5 108.03,177.5 108.07,188.6 108.12,190.0 108.16,189.5 108.21,188.3 108.25,185.8 108.30,189.3 108.35,191.1 108.39,195.4 108.44,187.4 108.48,185.8 108.53,196.9 108.57,197.7 108.62,182.4 108.66,187.6 108.71,188.8 108.75,180.3 108.80,186.7 108.85,190.5 108.89,193.6 108.94,188.2 108.98,193.0 109.03,186.0 109.07,191.1 109.12,193.2 109.16,193.8 109.21,198.6 109.25,189.7 109.30,188.9 109.35,184.7 109.39,187.2 109.44,186.3 109.48,208.0 109.53,183.5 109.57,190.8 109.62,184.9 109.66,192.8 109.71,192.9 109.75,191.0 109.80,190.8 109.85,182.1 109.89,188.4 109.94,194.1 109.98,202.9 110.03,205.8 110.07,194.0 110.12,197.6 110.16,185.2 110.21,183.3 110.25,180.3 110.30,175.4 110.35,180.9 110.39,185.1 110.44,185.5 110.48,185.6 110.53,190.4 110.57,196.0 110.62,193.4 110.66,197.2 110.71,196.3 110.75,191.4 110.80,176.7 110.85,191.8 110.89,190.7 110.94,189.9 110.98,183.1 111.03,188.5 111.07,186.5 111.12,191.4 111.16,191.5 111.21,186.4 111.25,191.9 111.30,179.6 111.35,186.7 111.39,190.6 111.44,190.8 111.48,185.3 111.53,191.0 111.57,192.6 111.62,195.9 111.66,187.6 111.71,188.5 111.75,192.3 111.80,192.7 111.85,193.9 111.89,190.8 111.94,191.3 111.98,190.7 112.03,193.8 112.07,198.0 112.12,191.3 112.16,186.2 112.21,177.6 112.25,177.2 112.30,183.2 112.35,182.2 112.39,187.2 112.44,184.3 112.48,184.0 112.53,187.1 112.57,195.3 112.62,185.4 112.66,196.0 112.71,189.9 112.75,192.0 112.80,190.9 112.85,193.1 112.89,196.1 112.94,198.7 112.98,191.9 113.03,193.8 113.07,193.5 113.12,193.9 113.16,195.2 113.21,196.0 113.25,201.2 113.30,199.9 113.35,195.1 113.39,193.0 113.44,198.1 113.48,202.1 113.53,194.2 113.57,188.9 113.62,191.2 113.66,193.3 113.71,189.5 113.75,201.4 113.80,206.9 113.85,204.7 113.89,195.2 113.94,200.9 113.98,202.2 114.03,198.8 114.07,204.9 114.12,195.5 114.16,192.6 114.21,195.1 114.25,190.9 114.30,195.9 114.35,191.5 114.39,192.3 114.44,194.8 114.48,188.2 114.53,187.9 114.57,192.1 114.62,197.2 114.66,200.0 114.71,196.6 114.75,187.4 114.80,183.6 114.85,191.5 114.89,186.7 114.94,194.3 114.98,197.9 115.03,187.4 115.07,184.0 115.12,192.2 115.16,198.8 115.21,200.1 115.25,193.8 115.30,194.1 115.35,194.2 115.39,191.3 115.44,192.6 115.48,201.7 115.53,197.5 115.57,198.0 115.62,194.2 115.66,191.2 115.71,189.5 115.75,192.9 115.80,193.5 115.85,185.6 115.89,184.5 115.94,185.0 115.98,179.7 116.03,195.5 116.07,197.3 116.12,189.1 116.16,195.0 116.21,196.0 116.25,190.7 116.30,192.0 116.35,200.9 116.39,188.1 116.44,180.7 116.48,186.9 116.53,183.5 116.57,185.8 116.62,185.6 116.66,181.9 116.71,188.3 116.75,190.6 116.80,194.4 116.85,191.1 116.89,186.9 116.94,186.9 116.98,173.9 117.03,184.4 117.07,190.7 117.12,191.9 117.16,188.4 117.21,184.8 117.25,183.7 117.30,187.7 117.35,190.9 117.39,192.9 117.44,205.9 117.48,198.2 117.53,199.1 117.57,202.2 117.62,196.4 117.66,184.1 117.71,189.2 117.75,191.6 117.80,195.5 117.85,189.8 117.89,190.3 117.94,197.3 117.98,188.7 118.03,191.5 118.07,183.6 118.12,189.0 118.16,187.0 118.21,187.5 118.25,188.0 118.30,190.1 118.35,198.9 118.39,191.3 118.44,187.9 118.48,192.2 118.53,193.8 118.57,188.0 118.62,197.5 118.66,194.8 118.71,193.1 118.75,189.8 118.80,191.1 118.85,182.9 118.89,183.3 118.94,191.4 118.98,195.1 119.03,182.6 119.07,189.5 119.12,189.0 119.16,190.7 119.21,188.4 119.25,193.6 119.30,185.9 119.35,192.3 119.39,187.2 119.44,187.8 119.48,194.3 119.53,193.5 119.57,190.6 119.62,188.9 119.66,193.0 119.71,186.8 119.75,192.3 119.80,191.5 119.85,192.3 119.89,187.0 119.94,189.4 119.98,189.2 120.03,194.3 120.07,191.9 120.12,191.8 120.16,186.0 120.21,190.9 120.25,192.6 120.30,186.0 120.35,188.8 120.39,184.4 120.44,194.3 120.48,188.1 120.53,183.6 120.57,186.3 120.62,190.1 120.66,189.7 120.71,182.0 120.75,180.7 120.80,177.8 120.85,193.3 120.89,197.7 120.94,201.3 120.98,206.5 121.03,202.0 121.07,197.6 121.12,190.8 121.16,191.1 121.21,189.6 121.25,196.3 121.30,195.1 121.35,202.3 121.39,189.0 121.44,189.1 121.48,197.9 121.53,189.6 121.57,193.6 121.62,203.7 121.66,193.0 121.71,192.6 121.75,195.8 121.80,189.5 121.85,187.1 121.89,191.3 121.94,191.3 122.00,146.5 122.03,189.9 122.07,193.0 122.12,180.3 122.16,199.8 122.21,192.1 122.25,191.0 122.30,181.1 122.35,177.4 122.39,182.4 122.44,195.4 122.48,204.8 122.53,209.0 122.57,197.0 122.62,199.7 122.66,186.0 122.71,186.5 122.75,177.0 122.80,192.1 122.85,194.4 122.89,198.4 122.94,193.5 122.98,189.4 123.03,184.0 123.07,194.4 123.12,186.2 123.16,189.6 123.21,195.8 123.25,193.0 123.30,191.5 123.35,191.1 123.39,194.5 123.44,199.7 123.48,189.8 123.53,182.0 123.57,179.5 123.62,183.2 123.66,188.3 123.71,183.2 123.75,174.2 123.80,187.3 123.85,174.0 123.89,180.7 123.94,185.3 123.98,192.9 124.03,211.2 124.07,195.3 124.12,191.6 124.16,197.4 124.21,193.0 124.25,196.7 124.30,193.5 124.35,187.6 124.39,191.6 124.44,188.4 124.48,194.8 124.53,182.3 124.57,191.1 124.62,192.8 124.66,198.3 124.71,189.7 124.75,202.1 124.80,191.0 124.85,189.5 124.89,186.6 124.94,192.2 124.98,188.3 125.03,181.0 125.07,188.4 125.12,190.1 125.16,200.6 125.21,194.4 125.25,185.9 125.30,181.8 125.35,180.7 125.39,184.8 125.44,195.6 125.48,196.6 125.53,190.3 125.57,198.1 125.62,209.8 125.66,188.9 125.71,189.0 125.75,201.1 125.80,197.9 125.85,195.1 125.89,167.5 125.94,182.7 125.98,189.2 126.03,182.7 126.07,185.6 126.12,186.0 126.16,186.4 126.21,185.2 126.25,182.2 126.30,195.6 126.35,187.6 126.39,187.8 126.44,182.4 126.48,194.9 126.53,208.8 126.57,199.4 126.62,192.6 126.66,190.0 126.71,183.1 126.75,180.6 126.80,185.7 126.85,192.3 126.89,184.3 126.94,187.3 126.98,183.9 127.03,198.0 127.07,202.6 127.12,197.9 127.16,192.5 127.21,186.7 127.25,187.6 127.30,183.9 127.35,199.6 127.39,187.3 127.44,178.9 127.48,194.9 127.53,205.3 127.57,201.2 127.62,192.8 127.66,194.9 127.71,190.8 127.75,187.9 127.80,177.9 127.85,188.2 127.89,189.3 127.94,211.5 127.98,189.6 128.03,174.3 128.07,184.5 128.12,194.4 128.16,200.7 128.21,200.7 128.25,206.5 128.30,208.8 128.35,184.8 128.39,199.5 128.44,171.1 128.48,192.8 128.53,185.5 128.57,183.1 128.62,188.8 128.66,192.0 128.71,194.8 128.75,180.7 128.80,190.0 128.85,196.0 128.89,188.0 128.94,178.1 128.98,190.3 129.03,179.4 129.07,183.4 129.12,188.5 129.16,194.6 129.21,191.8 129.25,201.7 129.30,193.6 129.35,190.5 129.39,199.2 129.44,202.0 129.48,193.6 129.53,198.5 129.57,197.1 129.62,198.0 129.66,184.1 129.71,184.9 129.75,188.2 129.80,185.9 129.85,189.9 129.89,191.8 129.94,192.7 129.98,195.5 130.03,184.6 130.07,190.1 130.12,194.5 130.16,186.5 130.21,180.7 130.25,173.7 130.30,187.1 130.35,188.3 130.39,191.1 130.44,194.6 130.48,190.3 130.53,201.9 130.57,198.0 130.62,202.6 130.66,197.1 130.71,202.8 130.75,190.5 130.80,187.4 130.85,199.5 130.89,188.6 130.94,176.6 130.98,178.8 131.03,181.8 131.07,187.2 131.12,189.8 131.16,199.1 131.21,201.3 131.25,194.6 131.30,198.5 131.35,203.6 131.39,180.7 131.44,179.0 131.48,178.3 131.53,179.5 131.57,182.6 131.62,185.3 131.66,182.9 131.71,174.6 131.75,187.4 131.80,182.0 131.85,180.7 131.89,180.7 131.94,183.7 131.98,199.0 132.03,183.9 132.07,179.6 132.12,183.9 132.16,191.0 132.21,192.9 132.25,192.3 132.30,193.6 132.35,186.1 132.39,180.9 132.44,181.1 132.48,181.9 132.53,188.2 132.57,199.6 132.62,188.5 132.66,183.5 132.71,181.7 132.75,190.9 132.80,196.9 132.85,208.6 132.89,208.5 132.94,198.9 132.98,203.3 133.03,197.5 133.07,195.1 133.12,185.4 133.16,182.0 133.21,179.5 133.25,193.1 133.30,196.8 133.35,200.8 133.39,193.8 133.44,189.2 133.48,192.6 133.53,190.2 133.57,185.9 133.62,214.5 133.66,201.4 133.71,190.7 133.75,184.5 133.80,174.4 133.85,186.9 133.89,179.8 133.94,186.2 133.98,180.4 134.03,200.0 134.07,181.8 134.12,181.7 134.16,180.1 134.21,185.2 134.25,180.8 134.30,187.8 134.35,183.1 134.39,181.0 134.44,186.7 134.48,206.5 134.53,197.6 134.57,204.1 134.62,196.2 134.66,206.2 134.71,191.4 134.75,192.9 134.80,182.8 134.85,183.5 134.89,203.1 134.94,207.2 134.98,200.4 135.03,189.9 135.07,176.5 135.12,183.2 135.16,188.4 135.21,188.9 135.25,198.6 135.30,191.9 135.35,199.0 135.39,188.6 135.44,185.6 135.48,187.7 135.53,190.7 135.57,197.3 135.62,190.6 135.66,188.2 135.71,178.2 135.75,183.2 135.80,176.3 135.85,176.8 135.89,190.3 135.94,189.4 135.98,197.5 136.03,198.1 136.07,200.8 136.12,199.1 136.16,194.7 136.21,184.4 136.25,196.0 136.30,192.1 136.35,186.6 136.39,175.2 136.44,182.5 136.48,182.5 136.53,189.1 136.57,196.9 136.62,181.3 136.66,190.1 136.71,190.3 136.75,181.6 136.80,176.7 136.85,169.8 136.89,172.9 136.94,179.7 136.98,192.0 137.03,190.6 137.07,189.0 137.12,183.7 137.16,180.2 137.21,180.3 137.25,186.3 137.30,179.0 137.35,183.7 137.39,191.9 137.44,190.0 137.48,185.4 137.53,187.7 137.57,191.7 137.62,196.6 137.66,191.2 137.71,188.9 137.75,187.0 137.80,189.1 137.85,200.8 137.89,182.5 137.94,185.0 137.98,187.9 138.03,190.7 138.07,183.5 138.12,181.9 138.16,181.1 138.21,179.4 138.25,198.8 138.30,180.2 138.35,181.4 138.39,177.1 138.44,180.3 138.48,180.3 138.53,179.0 138.57,179.5 138.62,179.6 138.66,170.9 138.71,173.1 138.75,183.5 138.80,187.8 138.85,176.1 138.89,175.6 138.94,184.8 138.98,190.5 139.03,183.7 139.07,185.9 139.12,188.4 139.16,192.5 139.21,189.9 139.25,191.1 139.30,184.9 139.35,192.5 139.39,193.5 139.44,197.4 139.48,181.9 139.53,191.4 139.57,194.3 139.62,189.5 139.66,199.6 139.71,203.2 139.75,199.8 139.80,180.6 139.85,193.1 139.89,194.6 139.94,189.2 139.98,175.6 140.03,172.7 140.07,188.7 140.12,186.7 140.16,178.9 140.21,174.7 140.25,174.7 140.30,183.8 140.35,190.1 140.39,194.4 140.44,181.0 140.48,183.8 140.53,179.0 140.57,178.1 140.62,176.3 140.66,194.3 140.71,190.5 140.75,186.3 140.80,183.1 140.85,191.2 140.89,194.5 140.94,198.4 140.98,187.5 141.03,197.8 141.07,202.1 141.12,188.5 141.16,196.0 141.21,190.0 141.25,185.9 141.30,165.4 141.35,184.2 141.39,191.0 141.44,197.0 141.48,202.1 141.53,180.7 141.57,194.7 141.62,185.7 141.66,204.7 141.71,186.9 141.75,186.1 141.80,182.5 141.85,196.4 141.89,191.7 141.94,187.9 141.98,187.3 142.03,192.9 142.07,200.1 142.12,196.4 142.16,202.8 142.21,202.8 142.25,190.1 142.30,190.2 142.35,182.8 142.39,185.1 142.44,176.7 142.48,191.8 142.53,186.4 142.57,186.8 142.62,213.6 142.66,191.6 142.71,183.6 142.75,181.3 142.80,174.6 142.85,185.7 142.89,196.8 142.94,201.0 142.98,196.6 143.03,183.8 143.07,188.8 143.12,188.7 143.16,195.3 143.21,185.4 143.25,185.4 143.30,183.6 143.35,176.7 143.39,188.3 143.44,190.4 143.48,197.6 143.53,198.0 143.57,194.8 143.62,167.1 143.66,181.0 143.71,186.9 143.75,167.4 143.80,177.4 143.85,180.7 143.89,172.4 143.94,175.4 143.98,180.2 144.03,180.7 144.07,177.2 144.12,176.1 144.16,183.7 144.21,189.8 144.25,198.5 144.30,195.1 144.35,198.9 144.39,209.9 144.44,193.6 144.48,191.1 144.53,189.8 144.57,189.9 144.62,187.8 144.66,206.0 144.71,206.1 144.75,191.0 144.80,188.0 144.85,180.2 144.89,182.8 144.94,173.6 145.00,156.0 145.03,198.2 145.07,198.5 145.12,195.3 145.16,198.2 145.21,193.7 145.25,189.9 145.30,190.8 145.35,186.3 145.39,162.1 145.44,184.9 145.48,184.4 145.53,185.1 145.57,178.8 145.62,198.9 145.66,188.7 145.71,186.0 145.75,173.9 145.80,158.5 145.85,170.7 145.89,168.6 145.94,165.9 145.98,173.0 146.03,195.7 146.07,200.9 146.12,194.7 146.16,177.6 146.21,176.5 146.25,176.2 146.30,172.9 146.35,170.2 146.39,187.4 146.44,199.4 146.48,196.8 146.53,191.4 146.57,185.2 146.62,180.5 146.66,197.0 146.71,188.4 146.75,187.3 146.80,177.9 146.85,175.1 146.89,173.0 146.94,177.9 146.98,173.6 147.03,179.9 147.07,180.4 147.12,193.5 147.16,192.1 147.21,198.9 147.25,173.5 147.30,175.2 147.35,175.4 147.39,184.8 147.44,186.0 147.48,188.3 147.53,199.7 147.57,184.3 147.62,182.7 147.66,185.6 147.71,184.2 147.75,184.8 147.80,185.5 147.85,174.8 147.89,166.4 147.94,176.8 147.98,172.8 148.03,189.3 148.07,199.6 148.12,199.4 148.16,187.2 148.21,184.2 148.25,186.0 148.30,171.6 148.35,179.4 148.39,183.9 148.44,185.9 148.48,183.3 148.53,199.5 148.57,203.7 148.62,184.8 148.66,178.6 148.71,177.3 148.75,171.0 148.80,185.3 148.85,188.2 148.89,180.4 148.94,176.7 148.98,175.5 149.03,178.2 149.07,173.4 149.12,175.8 149.16,177.7 149.21,176.5 149.25,182.7 149.30,189.2 149.35,191.2 149.39,182.5 149.44,157.3 149.48,176.0 149.53,164.8 149.57,168.6 149.62,168.7 149.66,170.1 149.71,187.8 149.75,170.6 149.80,170.4 149.85,188.3 149.89,177.2 149.94,176.3 149.98,191.0 150.03,190.4 150.07,190.9 150.12,184.0 150.16,192.2 150.21,186.4 150.25,190.2 150.30,188.2 150.35,176.6 150.39,179.1 150.44,160.9 150.48,170.4 150.53,176.7 150.57,168.7 150.62,179.1 150.66,188.7 150.71,183.9 150.75,193.6 150.80,200.3 150.85,180.8 150.89,171.6 150.94,154.1 150.98,154.6 151.03,162.9 151.07,175.3 151.12,188.2 151.16,183.0 151.21,180.3 151.25,167.2 151.30,182.1 151.35,170.1 151.39,148.9 151.44,153.0 151.48,156.4 151.53,187.6 151.57,181.3 151.62,170.5 151.66,158.3 151.71,169.6 151.75,180.6 151.80,180.7 151.85,190.4 151.89,165.6 151.94,160.3 151.98,176.7 152.03,175.0 152.07,173.5 152.12,183.2 152.16,184.2 152.21,179.6 152.25,193.3 152.30,180.3 152.35,181.7 152.39,185.5 152.44,183.1 152.48,182.7 152.53,187.5 152.57,189.7 152.62,164.8 152.66,166.0 152.71,172.9 152.75,157.9 152.80,169.5 152.85,170.7 152.89,177.9 152.94,174.4 152.98,177.3 153.03,163.4 153.07,172.7 153.12,185.6 153.16,186.8 153.21,184.8 153.25,181.0 153.30,180.6 153.35,162.4 153.39,151.5 153.44,149.9 153.48,175.6 153.53,195.1 153.57,171.6 153.62,182.9 153.66,184.1 153.71,177.6 153.75,176.0 153.80,172.8 153.85,184.2 153.89,177.2 153.94,169.9 153.98,166.8 154.03,168.6 154.07,156.7 154.12,160.4 154.16,162.2 154.21,172.2 154.25,173.4 154.30,178.5 154.35,158.7 154.39,171.7 154.44,171.1 154.48,180.9 154.53,169.0 154.57,172.1 154.62,175.5 154.66,185.0 154.71,177.4 154.75,180.1 154.80,179.2 154.85,171.7 154.89,153.2 154.94,160.9 154.98,167.9 155.03,169.4 155.07,178.7 155.12,174.8 155.16,174.6 155.21,180.4 155.25,183.0 155.30,183.1 155.35,191.5 155.39,180.2 155.44,199.2 155.48,181.1 155.53,186.7 155.57,181.8 155.62,193.1 155.66,181.3 155.71,173.6 155.75,170.0 155.80,174.2 155.85,157.3 155.89,170.7 155.94,167.2 155.98,157.1 156.03,164.2 156.07,152.6 156.12,172.3 156.16,169.7 156.21,203.6 156.25,167.6 156.30,169.0 156.35,168.1 156.39,172.7 156.44,177.4 156.48,179.8 156.53,151.0 156.57,175.8 156.62,190.5 156.66,189.6 156.71,187.0 156.75,160.8 156.80,173.3 156.85,169.1 156.89,161.0 156.94,161.5 156.98,169.9 157.03,148.1 157.07,156.9 157.12,157.0 157.16,165.9 157.21,153.5 157.25,162.9 157.30,162.3 157.35,144.0 157.39,161.8 157.44,168.6 157.48,177.5 157.53,174.0 157.57,143.8 157.62,170.9 157.66,167.7 157.71,159.7 157.75,170.0 157.80,164.8 157.85,171.7 157.89,159.0 157.94,182.5 157.98,177.2 158.03,175.4 158.07,161.6 158.10,140.0 158.16,173.3 158.21,173.3 158.25,166.5 158.30,175.9 158.35,181.7 158.39,181.7 158.44,174.2 158.48,163.3 158.53,161.4 158.57,175.5 158.62,182.9 158.66,178.4 158.71,176.8 158.75,184.7 158.80,187.7 158.85,183.8 158.89,161.1 158.94,155.3 158.98,144.5 159.03,172.7 159.07,165.1 159.12,161.0 159.16,166.2 159.21,179.7 159.25,174.3 159.30,171.2 159.35,156.5 159.39,176.6 159.44,175.8 159.48,179.5 159.53,172.4 159.57,158.5 159.62,147.2 159.66,177.0 159.71,184.2 159.75,176.0 159.80,165.7 159.85,160.7 159.89,166.1 159.94,180.2 159.98,147.5 160.03,156.4 160.07,161.6 160.12,158.6 160.16,160.8 160.21,163.7 160.25,159.9 160.30,171.6 160.35,184.7 160.39,190.5 160.44,182.5 160.48,179.0 160.53,180.3 160.57,183.6 160.62,179.3 160.66,166.6 160.71,185.1 160.75,162.2 160.80,161.6 160.85,155.3 160.89,158.9 160.94,161.6 160.98,161.3 161.03,154.0 161.07,162.1 161.12,134.5 161.16,172.1 161.21,167.7 161.25,169.2 161.30,179.6 161.35,176.0 161.39,168.4 161.44,170.5 161.48,154.3 161.53,145.9 161.57,152.8 161.62,151.7 161.66,143.1 161.71,167.1 161.75,168.4 161.80,175.0 161.85,158.2 161.89,154.9 161.94,149.7 161.98,160.5 162.03,178.1 162.07,167.9 162.12,155.8 162.16,154.7 162.21,162.6 162.25,165.2 162.30,163.4 162.35,160.2 162.39,141.7 162.44,150.1 162.48,158.6 162.53,161.9 162.57,160.6 162.62,162.9 162.66,161.6 162.70,124.8 162.75,167.6 162.80,165.2 162.85,156.5 162.89,168.5 162.94,170.1 162.98,154.7 163.03,154.7 163.07,165.0 163.12,153.0 163.16,155.4 163.21,179.8 163.25,184.3 163.30,171.0 163.35,146.6 163.39,154.7 163.44,154.4 163.48,148.1 163.53,144.4 163.57,159.4 163.62,157.1 163.66,164.9 163.71,143.8 163.75,160.3 163.80,157.6 163.85,160.5 163.89,154.7 163.94,164.5 163.98,159.2 164.03,160.4 164.07,153.6 164.12,157.8 164.16,156.0 164.21,149.9 164.25,156.9 164.30,171.3 164.35,180.9 164.39,169.4 164.44,176.9 164.48,179.2 164.53,166.1 164.57,161.9 164.62,164.8 164.66,164.3 164.71,153.7 164.75,153.7 164.80,151.8 164.85,161.0 164.89,160.6 164.94,181.0 164.98,155.4 165.03,155.9 165.07,152.9 165.12,152.7 165.16,144.4 165.21,160.2 165.25,165.9 165.30,155.8 165.35,173.5 165.39,160.9 165.44,159.8 165.48,155.8 165.53,157.4 165.57,152.5 165.62,166.4 165.66,160.2 165.71,161.3 165.75,160.5 165.80,160.4 165.85,159.4 165.89,160.8 165.94,174.0 165.98,161.8 166.03,153.2 166.07,156.7 166.12,157.1 166.16,164.2 166.21,163.4 166.25,172.9 166.30,178.2 166.35,164.7 166.39,159.5 166.44,152.8 166.48,150.5 166.53,163.2 166.57,157.1 166.62,170.1 166.66,173.2 166.71,176.9 166.75,170.5 166.80,173.7 166.85,169.8 166.89,163.9 166.94,171.5 166.98,159.6 167.03,167.5 167.07,177.6 167.12,180.6 167.16,165.1 167.21,184.4 167.25,182.1 167.30,176.1 167.35,178.2 167.39,174.7 167.44,166.2 167.48,171.9 167.53,174.0 167.57,180.1 167.62,173.5 167.66,161.9 167.71,170.1 167.75,173.8 167.80,174.9 167.85,187.3 167.89,174.3 167.94,168.5 167.98,155.5 168.03,158.3 168.07,170.0 168.12,175.0 168.16,180.5 168.21,171.0 168.25,159.8 168.30,172.0 168.35,178.7 168.39,162.5 168.44,161.2 168.48,164.1 168.53,170.6 168.57,165.4 168.62,159.6 168.66,163.6 168.71,157.3 168.75,159.7 168.80,139.5 168.85,170.4 168.89,160.3 168.94,168.2 168.98,167.3 169.03,139.8 169.07,161.6 169.12,158.3 169.16,162.1 169.21,166.0 169.25,165.4 169.30,152.8 169.35,162.8 169.39,169.8 169.44,170.0 169.48,161.5 169.53,160.0 169.57,153.3 169.62,161.2 169.66,163.2 169.71,164.3 169.75,179.3 169.80,168.0 169.85,150.9 169.89,144.8 169.94,145.3 169.98,146.7 170.03,162.1 170.07,163.6 170.12,155.4 170.16,153.5 170.21,159.1 170.25,160.2 170.30,160.3 170.35,157.3 170.39,157.3 170.44,164.2 170.48,159.0 170.53,153.5 170.57,156.7 170.62,153.1 170.66,157.2 170.71,154.9 170.75,161.9 170.80,175.1 170.85,171.8 170.89,165.4 170.94,170.7 170.98,166.3 171.03,158.3 171.07,177.1 171.12,176.4 171.16,165.3 171.21,158.6 171.25,149.7 171.30,153.8 171.35,149.2 171.39,151.9 171.44,170.0 171.48,152.8 171.53,168.7 171.57,164.0 171.62,155.8 171.66,153.6 171.71,157.7 171.75,161.2 171.80,160.3 171.85,140.0 171.89,143.6 171.94,170.0 171.98,167.9 172.03,161.0 172.07,160.9 172.12,160.3 172.16,168.0 172.21,157.6 172.25,178.0 172.30,171.6 172.35,186.6 172.39,175.0 172.44,169.8 172.48,155.9 172.53,158.9 172.57,156.7 172.62,155.8 172.66,161.9 172.71,164.3 172.75,156.0 172.80,163.9 172.85,172.6 172.89,174.1 172.94,164.6 172.98,185.6 173.03,167.2 173.07,160.2 173.12,153.7 173.16,167.4 173.21,178.1 173.25,169.9 173.30,158.2 173.35,155.7 173.39,152.1 173.44,155.1 173.48,161.3 173.53,170.7 173.57,167.8 173.62,188.3 173.66,182.0 173.71,168.7 173.75,170.7 173.80,171.3 173.85,167.7 173.89,171.7 173.94,167.3 173.98,158.7 174.03,160.4 174.07,161.8 174.12,171.2 174.16,171.3 174.21,158.1 174.25,156.2 174.30,153.4 174.35,166.2 174.39,154.3 174.44,159.0 174.48,158.9 174.53,150.1 174.57,164.3 174.62,165.3 174.66,155.3 174.71,159.7 174.75,157.0 174.80,176.8 174.85,171.8 174.89,164.6 174.94,154.3 174.98,144.2 175.03,162.4 175.07,159.2 175.12,150.0 175.16,166.9 175.21,178.1 175.25,156.3 175.30,124.4 175.35,176.3 175.39,174.1 175.44,166.8 175.48,164.3 175.53,163.3 175.57,169.2 175.62,172.7 175.66,162.7 175.71,177.0 175.75,158.9 175.80,160.2 175.85,158.9 175.89,161.5 175.94,155.6 175.98,159.8 176.03,179.6 176.07,170.0 176.12,168.6 176.16,169.1 176.21,153.3 176.25,161.2 176.30,170.9 176.35,168.2 176.39,165.9 176.44,163.0 176.48,170.5 176.53,167.2 176.57,157.7 176.62,166.0 176.66,176.5 176.71,157.9 176.75,161.2 176.80,162.5 176.85,149.4 176.89,138.6 176.94,155.5 176.98,156.5 177.03,170.1 177.07,176.7 177.12,158.0 177.16,153.6 177.21,158.3 177.25,175.1 177.30,169.5 177.35,164.5 177.39,171.7 177.44,163.1 177.48,170.7 177.53,178.2 177.57,168.9 177.62,161.2 177.66,170.7 177.71,178.8 177.75,167.6 177.80,125.5 177.85,159.2 177.89,170.5 177.94,172.3 177.98,183.9 178.03,178.7 178.07,175.4 178.12,176.9 178.16,167.3 178.21,150.3 178.25,161.5 178.30,164.6 178.35,164.1 178.39,169.5 178.44,153.8 178.48,161.8 178.53,173.0 178.57,172.0 178.62,165.5 178.66,176.7 178.71,163.2 178.75,155.3 178.80,175.0 178.85,167.2 178.89,168.7 178.94,172.6 178.98,182.6 179.03,176.3 179.07,176.0 179.12,168.9 179.16,169.9 179.21,160.8 179.25,162.7 179.30,159.5 179.35,163.6 179.39,178.9 179.44,180.7 179.48,180.6 179.53,182.3 179.57,173.5 179.62,169.9 179.66,172.2 179.71,171.6 179.75,173.2 179.80,168.4 179.85,174.3 179.89,167.0 179.94,165.4 179.98,164.2 180.03,177.1 180.07,186.1 180.12,183.2 180.16,168.6 180.21,176.6 180.25,181.5 180.30,174.8 180.35,180.9 180.39,173.5 180.44,182.0 180.48,176.9 180.53,175.1 180.57,171.9 180.62,167.7 180.66,185.2 180.71,177.5 180.75,171.9 180.80,172.2 180.85,178.8 180.89,176.3 180.94,183.4 180.98,167.6 181.03,164.7 181.07,162.1 181.12,166.7 181.16,145.7 181.21,162.2 181.25,169.0 181.30,174.9 181.35,193.3 181.39,181.1 181.44,173.2 181.48,183.7 181.53,166.3 181.57,163.3 181.62,169.9 181.66,177.7 181.71,172.9 181.75,175.4 181.80,171.8 181.85,179.1 181.89,178.0 181.94,181.0 181.98,170.1 182.03,161.7 182.07,163.4 182.12,164.2 182.16,166.4 182.21,170.8 182.25,169.4 182.30,174.8 182.35,170.5 182.39,165.0 182.44,163.9 182.48,166.7 182.53,171.4 182.57,182.9 182.62,166.2 182.66,184.0 182.71,174.9 182.75,172.1 182.80,168.5 182.85,175.1 182.89,170.7 182.94,176.6 182.98,169.1 183.03,179.8 183.07,187.3 183.12,181.9 183.16,187.0 183.21,163.5 183.25,173.3 183.30,161.6 183.35,170.3 183.39,163.6 183.44,168.2 183.48,173.8 183.53,171.9 183.57,170.0 183.62,161.4 183.66,150.9 183.71,160.2 183.75,164.1 183.80,158.8 183.85,173.7 183.89,181.5 183.94,179.7 183.98,176.9 184.03,164.1 184.07,172.9 184.12,162.4 184.16,169.3 184.21,170.3 184.25,178.2 184.30,138.7 184.35,176.3 184.39,179.3 184.44,193.9 184.48,164.7 184.53,166.7 184.57,165.2 184.62,163.5 184.66,178.4 184.71,175.8 184.75,164.1 184.80,173.7 184.85,156.5 184.89,164.6 184.94,154.5 184.98,172.5 185.03,175.9 185.07,178.5 185.12,183.2 185.16,163.3 185.21,158.5 185.25,168.9 185.30,171.4 185.35,178.9 185.39,163.2 185.44,156.2 185.48,149.1 185.53,163.8 185.57,163.8 185.62,156.8 185.66,170.9 185.71,160.1 185.75,148.9 185.80,153.9 185.85,153.6 185.89,166.4 185.94,177.0 185.98,184.8 186.03,180.9 186.07,178.6 186.12,169.0 186.16,174.7 186.21,190.6 186.25,189.1 186.30,180.3 186.35,182.3 186.39,165.7 186.44,160.9 186.48,167.6 186.53,171.1 186.57,175.7 186.62,172.6 186.66,174.7 186.71,165.7 186.75,170.7 186.80,182.0 186.85,177.0 186.89,166.3 186.94,168.8 186.98,168.7 187.03,167.0 187.07,161.6 187.12,166.6 187.16,170.3 187.21,170.9 187.25,166.7 187.30,165.8 187.35,165.3 187.39,179.2 187.44,179.1 187.48,175.7 187.53,171.6 187.57,163.0 187.62,160.6 187.66,164.7 187.71,164.6 187.75,169.1 187.80,180.6 187.85,167.8 187.89,165.0 187.94,179.4 187.98,185.4 188.03,181.8 188.07,180.4 188.12,186.3 188.16,166.5 188.21,171.9 188.25,176.0 188.30,169.6 188.35,179.8 188.39,166.8 188.44,163.9 188.48,175.2 188.53,189.9 188.57,164.2 188.62,168.3 188.66,164.2 188.71,157.6 188.75,154.8 188.80,163.3 188.85,173.9 188.89,182.5 188.94,170.5 188.98,177.2 189.03,172.7 189.07,170.2 189.12,170.4 189.16,192.3 189.21,170.7 189.25,167.2 189.30,138.7 189.35,170.5 189.39,163.3 189.44,168.7 189.48,172.3 189.53,175.1 189.57,169.8 189.62,173.4 189.66,169.0 189.71,171.2 189.75,170.8 189.80,170.7 189.85,181.1 189.89,168.6 189.94,159.5 189.98,171.9 190.03,176.9 190.07,172.3 190.12,173.6 190.16,175.2 190.21,161.1 190.25,164.4 190.30,157.6 190.35,164.9 190.39,173.4 190.44,167.0 190.48,175.1 190.53,165.6 190.57,171.4 190.62,176.1 190.66,166.8 190.71,166.6 190.75,166.1 190.80,163.3 190.85,172.5 190.89,166.2 190.94,159.8 190.98,162.9 191.03,166.4 191.07,169.1 191.12,175.1 191.16,166.3 191.21,166.5 191.25,158.3 191.30,170.7 191.35,170.4 191.39,159.4 191.44,175.4 191.48,170.2 191.53,178.7 191.57,173.5 191.62,166.7 191.66,160.6 191.71,165.5 191.75,163.3 191.80,173.2 191.85,174.2 191.89,170.2 191.94,159.1 191.98,158.1 192.03,156.7 192.07,157.9 192.12,159.7 192.16,157.0 192.21,165.8 192.25,171.1 192.30,150.2 192.35,162.0 192.39,165.1 192.44,154.8 192.48,166.4 192.53,167.2 192.57,171.3 192.62,173.1 192.66,175.1 192.71,172.9 192.75,175.5 192.80,179.0 192.85,151.1 192.89,192.2 192.94,169.6 192.98,164.0 193.03,167.4 193.07,179.6 193.12,181.2 193.16,174.1 193.21,168.4 193.25,180.2 193.30,185.6 193.35,184.8 193.39,171.7 193.44,173.2 193.48,176.1 193.53,180.6 193.57,172.4 193.62,164.2 193.66,166.0 193.71,170.8 193.75,173.1 193.80,173.9 193.85,179.1 193.89,183.7 193.94,178.3 193.98,181.9 194.03,181.7 194.07,183.8 194.12,178.6 194.16,176.1 194.21,178.1 194.25,166.9 194.30,169.0 194.35,151.2 194.39,169.2 194.44,168.2 194.48,163.0 194.53,163.2 194.57,152.7 194.62,159.3 194.66,164.0 194.71,177.3 194.75,176.5 194.80,167.5 194.85,172.6 194.89,172.5 194.94,165.0 194.98,173.4 195.03,168.0 195.07,165.4 195.12,166.8 195.16,170.3 195.21,170.5 195.25,174.5 195.30,164.3 195.35,162.9 195.39,157.9 195.44,163.3 195.48,166.4 195.53,171.9 195.57,176.9 195.62,179.0 195.66,164.3 195.71,169.7 195.75,166.8 195.80,180.6 195.85,169.4 195.89,171.7 195.94,168.0 195.98,172.8 196.03,166.7 196.07,177.9 196.12,174.5 196.16,176.3 196.21,181.8 196.25,176.4 196.30,165.6 196.35,167.8 196.39,170.3 196.44,183.6 196.48,166.9 196.53,173.3 196.57,167.6 196.62,171.4 196.66,172.6 196.71,163.6 196.75,168.1 196.80,173.4 196.85,174.9 196.89,180.1 196.94,181.7 196.98,189.6 197.03,171.2 197.07,172.3 197.12,170.7 197.16,171.3 197.21,168.8 197.25,181.2 197.30,175.4 197.35,168.6 197.39,164.2 197.44,162.3 197.48,169.0 197.53,184.1 197.57,175.6 197.62,166.4 197.66,168.8 197.71,170.4 197.75,171.8 197.80,167.2 197.85,176.3 197.89,167.7 197.94,162.4 197.98,160.2 198.03,165.9 198.07,182.5 198.12,168.9 198.16,175.5 198.21,177.9 198.25,166.2 198.30,164.2 198.35,164.8 198.39,170.0 198.44,165.5 198.48,162.4 198.53,166.8 198.57,162.6 198.62,179.4 198.66,180.4 198.71,178.6 198.75,170.4 198.80,174.3 198.85,177.7 198.89,183.0 198.94,169.9 198.98,176.6 199.03,175.4 199.07,178.4 199.12,190.1 199.16,190.1 199.21,180.6 199.25,176.7 199.30,178.0 199.35,173.5 199.39,172.2 199.44,173.0 199.48,173.2 199.53,175.7 199.57,170.8 199.62,171.7 199.66,167.0 199.71,179.7 199.75,167.5 199.80,180.1 199.85,180.5 199.89,176.8 199.94,170.0 199.98,165.4 200.03,165.4 200.07,170.2 200.12,169.9 200.16,160.6 200.21,164.1 200.25,158.1 200.30,168.9 200.35,165.3 200.39,164.1 200.44,168.3 200.48,163.1 200.53,155.9 200.57,160.2 200.62,161.4 200.66,171.5 200.71,171.1 200.75,168.8 200.80,163.6 200.85,158.3 200.89,160.6 200.94,162.4 200.98,172.5 201.03,170.6 201.07,170.0 201.12,160.7 201.16,173.2 201.21,170.0 201.25,162.3 201.30,153.1 201.35,153.4 201.39,162.2 201.44,177.7 201.48,185.9 201.53,173.0 201.57,167.3 201.62,169.6 201.66,166.8 201.71,169.7 201.75,159.2 201.80,172.8 201.85,174.2 201.89,168.7 201.94,169.3 201.98,176.4 202.03,175.3 202.07,175.7 202.12,169.3 202.16,168.9 202.21,164.6 202.25,176.0 202.30,177.6 202.35,178.0 202.39,173.2 202.44,146.7 202.48,167.2 202.53,174.1 202.57,166.3 202.62,169.1 202.66,175.7 202.71,173.1 202.75,179.2 202.80,170.0 202.85,188.3 202.89,188.3 202.94,184.6 202.98,176.9 203.03,177.2 203.07,178.4 203.12,172.1 203.16,171.7 203.21,180.3 203.25,184.7 203.30,179.5 203.35,171.7 203.39,169.1 203.44,158.9 203.48,165.0 203.53,158.5 203.57,154.5 203.62,161.4 203.66,171.6 203.71,175.6 203.75,175.2 203.80,181.5 203.85,166.9 203.89,169.1 203.94,169.3 203.98,167.4 204.03,173.9 204.07,164.5 204.12,164.1 204.16,159.5 204.21,164.0 204.25,175.5 204.30,171.1 204.35,169.5 204.39,168.5 204.44,166.1 204.48,170.9 204.53,173.9 204.57,175.3 204.62,176.4 204.66,168.4 204.71,188.0 204.75,172.0 204.80,164.0 204.85,170.5 204.89,176.1 204.94,167.0 204.98,167.3 205.03,175.4 205.07,169.9 205.12,187.1 205.16,171.4 205.21,170.5 205.25,171.7 205.30,166.9 205.35,172.6 205.39,169.0 205.44,169.3 205.48,177.4 205.53,180.4 205.57,164.9 205.62,173.7 205.66,177.6 205.71,174.2 205.75,184.0 205.80,178.4 205.85,167.9 205.89,165.1 205.94,175.9 205.98,174.1 206.03,169.8 206.07,162.4 206.12,157.5 206.16,166.2 206.21,169.7 206.25,183.3 206.30,180.5 206.35,177.4 206.39,165.6 206.44,158.1 206.48,168.5 206.53,172.0 206.57,171.2 206.62,179.3 206.66,173.8 206.71,169.3 206.75,169.3 206.80,172.1 206.85,175.5 206.89,178.0 206.94,171.9 206.98,185.0 207.03,177.8 207.07,168.0 207.12,170.8 207.16,176.3 207.21,180.8 207.25,175.6 207.30,178.0 207.35,175.9 207.39,178.5 207.44,171.7 207.48,170.6 207.53,177.6 207.57,174.3 207.62,172.2 207.66,175.0 207.71,168.1 207.75,168.0 207.80,170.1 207.85,166.9 207.89,169.3 207.94,170.6 207.98,167.4 208.03,163.1 208.07,176.9 208.12,175.1 208.16,170.8 208.21,182.0 208.25,182.6 208.30,159.8 208.35,165.9 208.39,169.0 208.44,179.6 208.48,172.8 208.53,168.5 208.57,168.6 208.62,169.2 208.66,171.5 208.71,164.9 208.75,168.9 208.80,158.5 208.85,171.7 208.89,158.1 208.94,157.4 208.98,155.2 209.03,162.9 209.07,164.5 209.12,164.2 209.16,158.0 209.21,160.1 209.25,164.2 209.30,157.2 209.35,158.3 209.39,161.2 209.44,166.1 209.48,165.0 209.53,163.8 209.57,166.7 209.62,159.0 209.66,168.1 209.71,170.4 209.75,179.7 209.80,178.0 209.85,178.5 209.89,173.7 209.94,174.8 209.98,161.1 210.03,178.4 210.07,171.3 210.12,174.6 210.16,162.3 210.21,164.3 210.25,172.2 210.30,168.4 210.35,168.9 210.39,173.5 210.44,171.9 210.48,171.4 210.53,172.1 210.57,175.3 210.62,171.2 210.66,175.9 210.71,162.3 210.75,176.7 210.80,166.1 210.85,166.2 210.89,165.6 210.94,169.9 210.98,166.7 211.03,155.9 211.07,164.6 211.12,162.6 211.16,151.8 211.21,159.1 211.25,158.3 211.30,169.9 211.35,169.8 211.39,161.3 211.44,160.4 211.48,157.4 211.53,163.6 211.57,167.4 211.62,169.8 211.66,178.9 211.71,178.1 211.75,163.6 211.80,160.9 211.85,164.8 211.89,180.7 211.94,166.2 211.98,166.4 212.03,166.6 212.07,170.3 212.12,170.9 212.16,170.6 212.20,141.0 212.25,171.4 212.30,175.4 212.35,173.7 212.39,176.6 212.44,170.0 212.48,174.2 212.53,171.6 212.57,173.5 212.62,172.9 212.66,169.9 212.71,164.8 212.75,154.3 212.80,164.8 212.85,172.2 212.89,173.4 212.94,163.1 212.98,163.3 213.03,170.9 213.07,170.2 213.12,165.6 213.16,168.6 213.21,177.0 213.25,180.8 213.30,178.7 213.35,183.0 213.39,183.4 213.44,177.4 213.48,177.4 213.53,182.7 213.57,172.8 213.62,166.9 213.66,168.1 213.71,174.2 213.75,180.7 213.80,183.7 213.85,174.0 213.89,179.7 213.94,186.4 213.98,174.3 214.03,184.8 214.07,175.9 214.12,169.1 214.16,172.0 214.21,176.3 214.25,171.4 214.30,177.8 214.35,165.2 214.39,173.7 214.44,183.8 214.48,180.0 214.53,175.2 214.57,165.4 214.62,170.2 214.66,167.2 214.71,170.7 214.75,192.3 214.80,177.3 214.85,174.1 214.89,182.4 214.94,171.9 214.98,169.0 215.03,163.0 215.07,168.1 215.12,172.1 215.16,179.6 215.21,185.4 215.25,173.3 215.30,165.6 215.35,176.3 215.39,169.5 215.44,169.6 215.48,176.7 215.53,169.0 215.57,174.4 215.62,164.8 215.66,162.9 215.71,160.8 215.75,160.4 215.80,175.0 215.85,169.3 215.89,163.4 215.94,164.3 215.98,164.4 216.03,170.9 216.07,176.6 216.12,178.0 216.16,171.9 216.21,157.6 216.25,156.5 216.30,151.9 216.35,164.5 216.39,167.6 216.44,169.0 216.48,169.7 216.53,166.2 216.57,174.6 216.62,162.7 216.66,155.5 216.71,159.9 216.75,154.4 216.80,165.8 216.85,168.1 216.89,161.7 216.94,161.0 216.98,171.4 217.03,168.7 217.07,168.3 217.12,181.1 217.16,181.5 217.21,171.4 217.25,163.0 217.30,172.5 217.35,175.6 217.39,170.0 217.44,177.3 217.48,168.6 217.53,176.5 217.57,173.2 217.62,172.9 217.66,159.9 217.71,169.8 217.75,177.8 217.80,163.5 217.85,162.5 217.89,174.6 217.94,168.1 217.98,168.8 218.03,172.1 218.07,171.4 218.12,165.0 218.16,164.0 218.21,175.2 218.25,161.5 218.30,170.8 218.35,170.1 218.39,170.0 218.44,170.9 218.48,173.1 218.53,168.7 218.57,156.9 218.62,161.0 218.66,150.7 218.71,147.9 218.75,149.4 218.80,155.2 218.85,161.3 218.89,161.2 218.94,158.0 218.98,162.4 219.03,157.1 219.07,159.3 219.12,164.1 219.16,163.3 219.21,179.6 219.25,183.5 219.30,182.1 219.35,172.4 219.39,174.9 219.44,178.9 219.48,176.9 219.53,166.7 219.57,159.6 219.62,170.9 219.66,161.8 219.71,168.9 219.75,172.7 219.80,177.7 219.85,178.9 219.89,166.2 219.94,157.4 219.98,153.3 220.03,156.2 220.07,165.0 220.12,173.7 220.16,177.2 220.21,172.7 220.25,171.7 220.30,175.5 220.35,175.4 220.39,178.1 220.44,174.8 220.48,173.2 220.53,166.0 220.57,161.1 220.62,156.6 220.66,165.7 220.71,179.8 220.75,181.2 220.80,180.0 220.85,161.2 220.89,168.8 220.94,163.3 220.98,166.1 221.03,168.1 221.07,174.3 221.12,162.4 221.16,167.8 221.21,168.0 221.25,168.5 221.30,160.3 221.35,154.9 221.39,154.3 221.44,157.5 221.48,163.6 221.53,173.7 221.57,177.0 221.62,178.3 221.66,180.5 221.71,171.9 221.75,175.4 221.80,178.5 221.85,179.1 221.89,191.1 221.94,177.6 221.98,167.9 222.03,171.1 222.07,166.9 222.12,174.2 222.16,170.7 222.21,173.4 222.25,177.3 222.30,179.3 222.35,171.3 222.39,189.1 222.44,170.2 222.48,179.3 222.53,175.3 222.57,167.1 222.62,168.0 222.66,174.0 222.71,165.9 222.75,161.4 222.80,165.8 222.85,169.3 222.89,157.8 222.94,164.8 222.98,171.4 223.03,176.6 223.07,168.5 223.12,183.3 223.16,178.0 223.21,181.5 223.25,174.9 223.30,181.1 223.35,177.6 223.39,181.9 223.44,179.1 223.48,169.2 223.53,167.6 223.57,168.1 223.62,164.8 223.66,159.1 223.71,164.3 223.75,168.4 223.80,172.6 223.85,180.7 223.89,179.5 223.94,173.5 223.98,172.9 224.03,165.6 224.07,174.0 224.12,180.9 224.16,171.7 224.21,171.8 224.25,170.0 224.30,163.6 224.35,163.6 224.39,171.2 224.44,171.0 224.48,177.7 224.53,176.9 224.57,169.0 224.62,177.1 224.66,171.2 224.71,172.1 224.75,174.9 224.80,169.7 224.85,180.8 224.89,172.2 224.94,173.7 224.98,172.5 225.03,174.2 225.07,176.9 225.12,171.6 225.16,163.2 225.21,166.9 225.25,157.5 225.30,162.6 225.35,161.0 225.39,167.2 225.44,164.1 225.48,167.9 225.53,160.0 225.57,155.0 225.62,162.7 225.66,168.3 225.71,165.4 225.75,171.8 225.80,175.5 225.85,185.6 225.89,171.9 225.94,173.7 225.98,177.3 226.03,169.4 226.07,163.1 226.12,156.4 226.16,164.1 226.21,173.0 226.25,172.2 226.30,175.8 226.35,170.4 226.39,162.8 226.44,171.2 226.48,160.2 226.53,167.9 226.57,166.2 226.62,168.7 226.66,180.0 226.71,164.0 226.75,175.7 226.80,179.9 226.85,174.6 226.89,176.5 226.94,169.2 226.98,167.7 227.03,160.6 227.07,163.7 227.12,168.9 227.16,170.5 227.21,163.4 227.25,168.1 227.30,165.5 227.35,172.6 227.39,178.7 227.44,177.3 227.48,174.9 227.53,172.5 227.57,174.8 227.62,162.9 227.66,165.1 227.71,166.7 227.75,163.0 227.80,166.6 227.85,166.1 227.89,163.6 227.94,160.5 227.98,164.4 228.03,163.5 228.07,158.9 228.12,167.5 228.16,170.8 228.21,182.2 228.25,179.0 228.30,176.5 228.35,177.0 228.39,177.8 228.44,169.3 228.48,149.2 228.53,154.5 228.57,168.0 228.62,174.1 228.66,163.0 228.71,173.0 228.75,163.3 228.80,153.5 228.85,169.4 228.89,166.6 228.94,176.4 228.98,165.6 229.03,163.9 229.07,167.1 229.12,171.0 229.16,166.4 229.21,168.6 229.25,172.7 229.30,166.6 229.35,168.9 229.39,169.7 229.44,174.9 229.48,163.9 229.53,167.1 229.57,176.0 229.62,170.6 229.66,170.6 229.71,171.9 229.75,179.8 229.80,182.4 229.85,176.5 229.89,175.7 229.94,165.3 229.98,166.3 230.03,169.2 230.07,167.8 230.12,161.4 230.16,171.5 230.21,186.5 230.25,172.6 230.30,177.9 230.35,165.8 230.39,171.3 230.44,165.1 230.48,172.8 230.53,175.9 230.57,174.1 230.62,168.9 230.66,166.7 230.71,177.4 230.75,172.2 230.80,178.4 230.85,182.0 230.89,177.7 230.94,162.7 231.00,145.0 231.03,171.9 231.07,169.4 231.12,169.7 231.16,174.2 231.21,182.2 231.25,173.8 231.30,170.0 231.35,175.5 231.39,175.7 231.44,178.9 231.48,182.5 231.53,172.8 231.57,180.1 231.62,190.1 231.66,187.1 231.71,178.6 231.75,175.8 231.80,174.2 231.85,168.7 231.89,162.7 231.94,162.6 231.98,175.5 232.03,153.5 232.07,172.5 232.12,168.7 232.16,169.5 232.21,167.3 232.25,166.4 232.30,171.8 232.35,169.9 232.39,159.9 232.44,164.8 232.48,168.4 232.53,163.8 232.57,163.4 232.62,159.4 232.66,163.1 232.71,170.7 232.75,175.7 232.80,161.9 232.85,165.5 232.89,171.7 232.94,154.9 232.98,166.6 233.03,176.6 233.07,177.1 233.12,191.0 233.16,169.5 233.21,181.0 233.25,181.1 233.30,166.3 233.35,164.3 233.39,166.0 233.44,171.1 233.48,168.9 233.53,168.8 233.57,169.2 233.62,180.0 233.66,181.2 233.71,163.4 233.75,160.3 233.80,172.4 233.85,159.7 233.89,171.4 233.94,162.3 233.98,166.7 234.03,155.3 234.07,164.6 234.12,187.3 234.16,177.5 234.21,172.6 234.25,158.2 234.30,160.9 234.35,167.8 234.39,163.0 234.44,168.6 234.48,173.8 234.53,172.1 234.57,181.7 234.62,180.8 234.66,179.7 234.71,178.0 234.75,169.5 234.80,175.0 234.85,165.3 234.89,183.2 234.94,183.0 234.98,181.2 235.03,184.3 235.07,168.5 235.12,161.2 235.16,167.9 235.21,166.2 235.25,168.0 235.30,180.5 235.35,175.3 235.39,168.4 235.44,166.7 235.48,165.8 235.53,175.5 235.57,171.3 235.62,171.8 235.66,164.1 235.71,162.5 235.75,170.8 235.80,176.9 235.85,175.4 235.89,177.5 235.94,177.7 235.98,173.1 236.03,169.5 236.07,170.1 236.12,184.8 236.16,183.8 236.21,174.6 236.25,182.9 236.30,175.7 236.35,177.0 236.39,171.2 236.44,170.9 236.48,164.8 236.53,161.7 236.57,155.3 236.62,160.6 236.66,161.3 236.71,156.9 236.75,165.3 236.80,160.7 236.85,154.5 236.89,162.9 236.94,158.6 236.98,174.9 237.03,177.5 237.07,172.9 237.12,170.0 237.16,172.4 237.21,163.9 237.25,176.0 237.30,168.2 237.35,175.1 237.39,175.4 237.44,179.4 237.48,168.0 237.53,163.4 237.57,167.6 237.62,180.6 237.66,176.2 237.71,168.3 237.75,164.7 237.80,158.0 237.85,166.4 237.89,165.3 237.94,175.7 237.98,170.9 238.03,168.7 238.07,168.9 238.12,163.8 238.16,164.7 238.21,166.2 238.25,171.7 238.30,175.1 238.35,172.8 238.40,145.2 238.44,179.5 238.48,175.5 238.53,178.4 238.57,175.4 238.62,176.6 238.66,175.7 238.71,169.1 238.75,167.3 238.80,164.0 238.85,176.5 238.89,169.7 238.94,160.6 238.98,175.7 239.03,175.4 239.07,166.6 239.12,173.0 239.16,168.1 239.21,172.9 239.25,178.7 239.30,178.7 239.35,177.6 239.39,180.7 239.44,173.2 239.48,183.8 239.53,181.4 239.57,185.3 239.62,170.6 239.66,170.5 239.71,180.1 239.75,183.7 239.80,183.4 239.85,181.9 239.89,181.8 239.94,179.4 239.98,173.6 240.03,172.8 240.07,173.0 240.12,167.4 240.16,163.3 240.21,153.2 240.25,163.3 240.30,163.6 240.35,160.0 240.39,165.5 240.44,171.9 240.48,163.5 240.53,157.0 240.57,167.8 240.62,163.3 240.66,166.4 240.71,167.4 240.75,163.0 240.80,172.8 240.85,176.6 240.89,170.8 240.94,168.2 240.98,172.0 241.03,174.3 241.07,177.0 241.12,161.3 241.16,153.2 241.21,165.9 241.25,167.9 241.30,177.9 241.35,177.4 241.39,180.9 241.44,178.1 241.48,182.8 241.53,173.2 241.57,172.5 241.62,172.1 241.66,167.3 241.71,167.0 241.75,176.9 241.80,169.8 241.85,177.7 241.89,172.7 241.94,179.0 241.98,176.2 242.03,174.6 242.07,181.0 242.12,172.7 242.16,173.2 242.21,177.9 242.25,170.4 242.30,170.0 242.35,170.8 242.39,165.5 242.44,167.1 242.48,171.9 242.53,169.6 242.57,168.8 242.62,162.0 242.66,155.8 242.71,152.5 242.75,166.4 242.80,169.6 242.85,164.5 242.89,173.8 242.94,170.3 242.98,165.7 243.03,170.7 243.07,165.3 243.12,174.1 243.16,172.4 243.21,170.4 243.25,181.7 243.30,178.7 243.35,167.6 243.39,182.0 243.44,176.0 243.48,172.3 243.53,171.9 243.57,168.6 243.62,164.0 243.66,162.7 243.71,169.9 243.75,161.7 243.80,157.2 243.85,167.5 243.89,172.7 243.94,176.7 243.98,170.5 244.03,175.0 244.07,164.3 244.12,167.0 244.16,161.6 244.21,168.0 244.25,161.2 244.30,177.4 244.35,176.4 244.39,168.5 244.44,155.7 244.48,160.1 244.53,157.6 244.57,168.7 244.62,149.3 244.66,177.7 244.71,175.9 244.75,171.8 244.80,173.1 244.85,164.1 244.89,159.9 244.94,156.0 244.98,159.0 245.03,163.8 245.07,176.6 245.12,171.5 245.16,180.6 245.21,173.8 245.25,177.6 245.30,180.0 245.35,178.7 245.39,181.0 245.44,177.8 245.48,176.2 245.53,175.9 245.57,171.0 245.62,169.8 245.66,169.7 245.71,165.2 245.75,161.3 245.80,166.8 245.85,168.9 245.89,177.6 245.94,170.5 245.98,164.6 246.03,165.8 246.07,171.7 246.12,167.3 246.16,166.0 246.21,161.0 246.25,162.7 246.30,163.3 246.35,165.2 246.39,162.4 246.44,167.5 246.48,167.9 246.53,175.4 246.57,169.0 246.62,169.2 246.66,164.3 246.71,170.7 246.75,171.4 246.80,169.9 246.85,170.5 246.89,168.6 246.94,154.2 246.98,172.9 247.03,161.8 247.07,159.6 247.12,166.9 247.16,167.7 247.21,173.1 247.25,171.0 247.30,169.6 247.35,169.3 247.39,167.8 247.44,172.3 247.48,171.0 247.53,178.1 247.57,176.2 247.62,181.9 247.66,176.0 247.71,183.4 247.75,174.2 247.80,175.0 247.85,172.0 247.89,170.4 247.94,171.7 247.98,173.1 248.03,172.0 248.07,180.1 248.12,180.4 248.16,185.0 248.21,179.8 248.25,163.3 248.30,165.2 248.35,158.5 248.39,161.9 248.44,164.1 248.48,166.3 248.53,166.9 248.57,170.6 248.62,165.0 248.66,164.5 248.71,172.7 248.75,168.1 248.80,168.9 248.85,181.2 248.89,183.8 248.94,179.1 248.98,167.2 249.03,168.6 249.07,168.4 249.12,169.6 249.16,166.1 249.21,162.1 249.25,166.8 249.30,173.2 249.35,173.1 249.39,165.0 249.44,177.8 249.48,166.5 249.53,165.2 249.57,170.9 249.62,171.2 249.66,158.1 249.71,162.2 249.75,163.8 249.80,169.8 249.85,172.2 249.89,163.9 249.94,168.7 249.98,164.0 250.03,168.9 250.07,173.1 250.12,175.8 250.16,169.3 250.21,183.1 250.25,172.6 250.30,170.8 250.35,167.8 250.39,168.7 250.44,173.7 250.48,171.6 250.53,167.8 250.57,172.4 250.62,176.8 250.66,166.9 250.71,170.2 250.75,168.2 250.80,175.7 250.85,161.4 250.89,167.1 250.94,157.6 250.98,160.3 251.03,160.0 251.07,174.4 251.12,179.3 251.16,181.6 251.21,168.9 251.25,163.3 251.30,165.9 251.35,158.4 251.39,167.3 251.44,160.1 251.48,161.7" fill="none" stroke="#000" stroke-width="0.6" stroke-linejoin="round"/>
<polygon points="44.0,212.2 44.5,211.4 45.0,209.3 45.5,210.0 46.0,208.4 46.5,206.5 47.0,204.5 47.5,205.1 48.0,207.1 48.5,207.8 49.0,207.5 49.5,209.4 50.0,210.8 50.5,211.2 51.0,212.0 51.5,212.8 52.0,214.8 52.5,214.6 53.0,216.0 53.5,215.3 54.0,213.7 54.5,213.1 55.0,211.2 55.5,212.0 56.0,209.3 56.5,205.7 57.0,202.2 57.5,199.5 58.0,194.3 58.5,194.7 59.0,193.9 59.5,193.8 60.0,195.2 60.5,193.2 61.0,194.8 61.5,193.3 62.0,192.9 62.5,192.1 63.0,193.5 63.5,192.5 64.0,190.0 64.5,191.6 65.0,189.7 65.5,189.6 66.0,188.3 66.5,188.3 67.0,187.8 67.5,188.2 68.0,188.1 68.5,190.4 69.0,189.7 69.5,191.8 70.0,190.2 70.5,189.9 71.0,191.3 71.5,189.5 72.0,189.7 72.5,188.5 73.0,189.2 73.5,188.9 74.0,186.4 74.5,185.3 75.0,185.3 75.5,186.5 76.0,184.7 76.5,185.4 77.0,185.9 77.5,186.3 78.0,188.9 78.5,189.9 79.0,190.4 79.5,191.3 80.0,191.5 80.5,191.6 81.0,193.9 81.5,193.0 82.0,194.3 82.5,194.5 83.0,194.1 83.5,193.0 84.0,194.5 84.5,194.3 85.0,193.4 85.5,193.6 86.0,193.4 86.5,191.0 87.0,192.1 87.5,192.1 88.0,190.6 88.5,192.1 89.0,191.7 89.5,191.3 90.0,191.2 90.5,191.0 91.0,190.3 91.5,190.8 92.0,189.8 92.5,188.7 93.0,190.2 93.5,191.2 94.0,190.0 94.5,192.1 95.0,191.0 95.5,193.7 96.0,193.7 96.5,195.0 97.0,194.2 97.5,196.4 98.0,194.5 98.5,196.3 99.0,190.9 99.5,187.2 100.0,182.8 100.5,176.6 101.0,176.0 101.5,174.4 102.0,173.5 102.5,173.5 103.0,173.0 103.5,173.0 104.0,171.9 104.5,171.3 105.0,170.5 105.5,169.3 106.0,169.0 106.5,169.9 107.0,168.6 107.5,167.0 108.0,166.5 108.5,165.0 109.0,164.9 109.5,162.6 110.0,161.8 110.5,161.1 111.0,159.3 111.5,160.5 112.0,160.3 112.5,159.0 113.0,158.8 113.5,158.0 114.0,157.3 114.5,157.5 115.0,156.8 115.5,159.0 116.0,158.7 116.5,159.1 117.0,158.3 117.5,158.3 118.0,158.8 118.5,157.5 119.0,159.1 119.5,159.2 120.0,158.8 120.5,159.5 121.0,161.1 121.5,160.3 122.0,160.9 122.5,163.2 123.0,162.4 123.5,164.0 124.0,163.5 124.5,163.9 125.0,165.8 125.5,165.5 126.0,166.4 126.5,165.2 127.0,167.3 127.5,166.1 128.0,164.5 128.5,164.9 129.0,166.6 129.5,165.1 130.0,165.9 130.5,166.2 131.0,168.4 131.5,170.2 132.0,170.6 132.5,170.6 133.0,172.3 133.5,173.0 134.0,175.0 134.5,177.4 135.0,178.6 135.5,180.4 136.0,180.8 136.5,182.1 137.0,182.4 137.5,183.4 138.0,181.7 138.5,183.6 139.0,182.4 139.5,183.4 140.0,182.2 140.5,181.2 141.0,181.1 141.5,181.4 142.0,183.0 142.5,181.5 143.0,182.0 143.5,181.2 144.0,182.9 144.5,182.5 145.0,180.9 145.5,181.3 146.0,178.9 146.5,180.2 147.0,178.9 147.5,178.2 148.0,177.8 148.5,178.0 149.0,176.5 149.5,177.2 150.0,177.9 150.5,178.4 151.0,178.4 151.5,178.8 152.0,180.3 152.5,178.7 153.0,180.2 153.5,180.8 154.0,180.1 154.5,181.6 155.0,181.4 155.5,181.9 156.0,180.5 156.5,181.1 157.0,180.2 157.5,180.3 158.0,179.5 158.5,179.1 159.0,180.0 159.5,179.0 160.0,179.8 160.5,179.5 161.0,180.5 161.5,179.6 162.0,180.8 162.5,179.9 163.0,178.7 163.5,180.5 164.0,179.7 164.5,178.8 165.0,177.4 165.5,176.6 166.0,175.4 166.5,175.4 167.0,174.6 167.5,174.2 168.0,174.3 168.5,174.5 169.0,175.8 169.5,175.8 170.0,175.9 170.5,178.0 171.0,176.7 171.5,176.9 172.0,177.8 172.5,178.9 173.0,177.7 173.5,178.0 174.0,177.5 174.5,177.7 175.0,177.1 175.5,177.6 176.0,178.0 176.5,178.7 177.0,176.7 177.5,178.4 178.0,178.5 178.5,178.4 179.0,178.0 179.5,176.8 180.0,177.0 180.5,178.1 181.0,177.7 181.5,178.8 182.0,176.7 182.5,176.8 183.0,177.3 183.5,177.0 184.0,175.9 184.5,176.9 185.0,175.1 185.5,174.4 186.0,174.1 186.5,175.3 187.0,174.8 187.5,174.4 188.0,174.8 188.5,175.0 189.0,175.2 189.5,174.8 190.0,176.5 190.5,175.7 191.0,175.4 191.5,176.7 192.0,176.7 192.5,174.6 193.0,175.3 193.5,175.4 194.0,174.6 194.5,173.8 195.0,174.0 195.5,174.8 196.0,175.6 196.5,175.4 197.0,176.5 197.5,178.0 198.0,177.1 198.5,178.1 199.0,179.3 199.5,178.5 200.0,179.5 200.5,179.6 201.0,178.5 201.5,176.3 202.0,177.5 202.5,176.8 203.0,175.0 203.5,173.3 204.0,173.0 204.5,171.7 205.0,171.3 205.5,172.6 206.0,170.8 206.5,170.1 207.0,172.3 207.5,170.7 208.0,171.1 208.5,173.5 209.0,173.8 209.5,174.1 210.0,174.6 210.5,175.1 211.0,172.9 211.5,174.3 212.0,173.5 212.5,175.0 213.0,174.8 213.5,175.4 214.0,175.0 214.5,174.4 215.0,175.2 215.5,175.3 216.0,175.1 216.5,175.1 217.0,175.3 217.5,176.1 218.0,175.2 218.5,175.8 219.0,174.7 219.5,174.2 220.0,173.1 220.5,172.4 221.0,171.7 221.5,171.9 222.0,170.7 222.5,169.7 223.0,169.1 223.5,169.0 224.0,169.0 224.5,169.6 225.0,170.9 225.5,172.0 226.0,171.3 226.5,171.6 227.0,174.1 227.5,172.1 228.0,172.3 228.5,173.8 229.0,173.0 229.5,173.1 230.0,172.9 230.5,172.2 231.0,173.0 231.5,170.9 232.0,172.9 232.5,172.0 233.0,172.5 233.5,171.0 234.0,170.2 234.5,172.1 235.0,171.7 235.5,171.7 236.0,171.7 236.5,171.8 237.0,170.9 237.5,171.0 238.0,172.2 238.5,172.3 239.0,171.4 239.5,170.4 240.0,169.3 240.5,170.9 241.0,170.6 241.5,169.6 242.0,170.6 242.5,170.1 243.0,169.5 243.5,169.2 244.0,170.9 244.5,170.3 245.0,171.0 245.5,170.9 246.0,171.0 246.5,170.1 247.0,169.6 247.5,171.0 248.0,170.5 248.5,168.6 249.0,168.3 249.5,168.6 250.0,169.2 250.5,168.5 251.0,168.8 251.0,181.3 250.5,182.0 250.0,181.7 249.5,181.8 249.0,182.4 248.5,182.1 248.0,182.4 247.5,183.3 247.0,184.3 246.5,184.9 246.0,185.0 245.5,184.0 245.0,185.0 244.5,183.1 244.0,184.0 243.5,184.2 243.0,182.7 242.5,183.9 242.0,182.9 241.5,183.2 241.0,183.3 240.5,184.2 240.0,184.3 239.5,184.6 239.0,184.9 238.5,183.9 238.0,185.3 237.5,184.8 237.0,184.5 236.5,184.3 236.0,184.0 235.5,185.4 235.0,185.7 234.5,184.7 234.0,184.1 233.5,184.8 233.0,184.0 232.5,184.6 232.0,184.5 231.5,183.8 231.0,184.4 230.5,184.7 230.0,186.6 229.5,185.8 229.0,187.7 228.5,186.0 228.0,186.9 227.5,187.2 227.0,184.7 226.5,184.4 226.0,185.6 225.5,184.8 225.0,183.1 224.5,182.7 224.0,182.6 223.5,182.1 223.0,182.1 222.5,182.3 222.0,184.2 221.5,184.2 221.0,183.7 220.5,185.4 220.0,186.4 219.5,186.0 219.0,186.9 218.5,188.1 218.0,188.2 217.5,188.6 217.0,189.6 216.5,190.0 216.0,189.1 215.5,188.8 215.0,188.0 214.5,188.8 214.0,187.0 213.5,186.6 213.0,187.6 212.5,187.7 212.0,187.5 211.5,186.8 211.0,186.3 210.5,185.4 210.0,187.3 209.5,185.3 209.0,186.7 208.5,184.7 208.0,184.6 207.5,184.3 207.0,185.0 206.5,184.0 206.0,183.7 205.5,185.0 205.0,184.9 204.5,184.9 204.0,186.5 203.5,185.4 203.0,187.4 202.5,188.9 202.0,188.1 201.5,190.6 201.0,190.7 200.5,190.0 200.0,191.3 199.5,190.2 199.0,190.2 198.5,190.2 198.0,190.1 197.5,188.9 197.0,190.0 196.5,188.7 196.0,187.0 195.5,187.0 195.0,186.7 194.5,186.1 194.0,187.9 193.5,186.2 193.0,187.8 192.5,188.1 192.0,188.1 191.5,188.2 191.0,188.5 190.5,187.5 190.0,188.9 189.5,187.1 189.0,187.9 188.5,187.7 188.0,186.7 187.5,187.9 187.0,186.2 186.5,188.3 186.0,188.2 185.5,186.5 185.0,189.1 184.5,187.6 184.0,189.3 183.5,188.8 183.0,188.9 182.5,189.4 182.0,189.5 181.5,191.1 181.0,191.1 180.5,190.6 180.0,190.3 179.5,189.5 179.0,190.9 178.5,190.4 178.0,188.8 177.5,190.2 177.0,191.0 176.5,189.2 176.0,189.9 175.5,191.6 175.0,190.3 174.5,190.3 174.0,191.8 173.5,191.7 173.0,192.0 172.5,191.9 172.0,190.8 171.5,191.3 171.0,190.5 170.5,188.3 170.0,188.5 169.5,187.1 169.0,188.6 168.5,188.4 168.0,186.3 167.5,188.6 167.0,188.3 166.5,189.1 166.0,188.1 165.5,189.3 165.0,190.2 164.5,191.4 164.0,190.9 163.5,191.0 163.0,192.8 162.5,191.2 162.0,192.6 161.5,192.5 161.0,192.7 160.5,192.8 160.0,190.4 159.5,191.1 159.0,192.0 158.5,192.2 158.0,190.5 157.5,190.4 157.0,190.6 156.5,192.3 156.0,191.1 155.5,193.3 155.0,191.7 154.5,193.6 154.0,191.4 153.5,191.6 153.0,191.9 152.5,191.8 152.0,190.4 151.5,190.2 151.0,190.0 150.5,189.9 150.0,189.5 149.5,188.0 149.0,189.2 148.5,188.7 148.0,188.0 147.5,187.8 147.0,190.4 146.5,189.5 146.0,190.9 145.5,191.4 145.0,192.5 144.5,193.1 144.0,192.9 143.5,193.4 143.0,193.3 142.5,193.1 142.0,193.8 141.5,192.3 141.0,194.4 140.5,194.3 140.0,193.4 139.5,193.3 139.0,194.3 138.5,193.4 138.0,193.3 137.5,194.0 137.0,193.0 136.5,193.4 136.0,193.1 135.5,192.3 135.0,191.8 134.5,190.2 134.0,189.4 133.5,188.5 133.0,185.3 132.5,184.2 132.0,183.7 131.5,183.0 131.0,182.9 130.5,183.0 130.0,183.2 129.5,181.5 129.0,183.0 128.5,183.6 128.0,182.4 127.5,182.8 127.0,184.5 126.5,184.7 126.0,182.6 125.5,184.1 125.0,182.8 124.5,181.8 124.0,179.6 123.5,179.7 123.0,179.3 122.5,179.7 122.0,178.3 121.5,176.7 121.0,177.2 120.5,176.3 120.0,176.6 119.5,176.0 119.0,175.4 118.5,174.9 118.0,175.3 117.5,175.2 117.0,174.1 116.5,173.2 116.0,174.7 115.5,174.7 115.0,172.8 114.5,173.5 114.0,174.4 113.5,175.3 113.0,173.5 112.5,174.5 112.0,175.0 111.5,175.0 111.0,175.4 110.5,175.9 110.0,176.9 109.5,178.0 109.0,180.7 108.5,182.8 108.0,184.1 107.5,185.3 107.0,185.5 106.5,186.5 106.0,187.7 105.5,188.8 105.0,187.9 104.5,190.6 104.0,191.4 103.5,190.4 103.0,193.0 102.5,192.3 102.0,192.7 101.5,195.4 101.0,196.3 100.5,197.4 100.0,199.8 99.5,203.3 99.0,208.8 98.5,211.4 98.0,211.8 97.5,210.5 97.0,211.2 96.5,210.3 96.0,209.9 95.5,208.6 95.0,209.8 94.5,208.4 94.0,207.5 93.5,207.8 93.0,207.3 92.5,206.1 92.0,207.4 91.5,208.1 91.0,207.3 90.5,207.3 90.0,208.5 89.5,209.5 89.0,208.3 88.5,208.4 88.0,208.7 87.5,211.3 87.0,210.9 86.5,210.3 86.0,211.9 85.5,211.1 85.0,211.4 84.5,214.0 84.0,212.2 83.5,214.6 83.0,214.3 82.5,214.1 82.0,214.5 81.5,214.4 81.0,214.8 80.5,214.2 80.0,211.7 79.5,212.5 79.0,211.3 78.5,209.9 78.0,209.4 77.5,207.3 77.0,208.6 76.5,206.5 76.0,206.3 75.5,206.7 75.0,207.8 74.5,207.0 74.0,207.6 73.5,208.4 73.0,209.0 72.5,210.1 72.0,212.0 71.5,211.4 71.0,211.0 70.5,211.4 70.0,211.3 69.5,212.2 69.0,211.3 68.5,211.7 68.0,210.9 67.5,210.2 67.0,212.2 66.5,210.2 66.0,210.5 65.5,212.2 65.0,212.7 64.5,212.7 64.0,211.9 63.5,213.9 63.0,214.2 62.5,213.9 62.0,213.6 61.5,213.5 61.0,214.3 60.5,213.4 60.0,213.0 59.5,214.1 59.0,214.5 58.5,213.4 58.0,213.3 57.5,215.3 57.0,217.9 56.5,220.6 56.0,223.2 55.5,222.5 55.0,223.9 54.5,225.0 54.0,225.7 53.5,227.3 53.0,227.2 52.5,226.4 52.0,227.4 51.5,225.2 51.0,224.8 50.5,225.4 50.0,223.4 49.5,224.6 49.0,223.6 48.5,222.1 48.0,223.2 47.5,223.3 47.0,221.3 46.5,222.7 46.0,223.6 45.5,226.1 45.0,226.3 44.5,226.7 44.0,227.6" fill="#ff0000"/>
<polyline points="43.40,274.0 43.50,225.0 43.80,233.5 43.85,220.9 43.89,215.9 43.94,215.0 43.98,220.1 44.03,226.1 44.07,225.7 44.12,223.4 44.16,212.5 44.21,215.6 44.25,219.4 44.30,212.2 44.35,221.4 44.39,219.6 44.44,212.0 44.48,212.0 44.53,206.6 44.57,214.5 44.62,214.5 44.66,214.0 44.71,218.0 44.75,214.9 44.80,221.4 44.85,221.2 44.89,217.2 44.94,222.7 44.98,221.8 45.03,212.7 45.07,217.4 45.12,208.7 45.16,200.6 45.21,205.5 45.25,219.6 45.30,232.5 45.35,235.7 45.39,228.1 45.44,227.6 45.48,208.7 45.53,212.8 45.57,209.4 45.62,213.9 45.66,217.5 45.71,230.5 45.75,217.5 45.80,213.4 45.85,214.1 45.89,215.0 45.94,221.8 45.98,211.9 46.03,224.5 46.07,217.7 46.12,210.9 46.16,210.3 46.21,209.4 46.25,213.4 46.30,206.6 46.35,217.5 46.39,221.7 46.44,220.6 46.48,213.7 46.53,207.2 46.57,208.0 46.62,204.6 46.66,233.6 46.71,220.3 46.75,226.8 46.80,223.6 46.85,224.8 46.89,217.1 46.94,208.8 46.98,204.1 47.03,206.4 47.07,220.9 47.12,223.9 47.16,220.4 47.21,208.1 47.25,208.6 47.30,216.4 47.35,211.9 47.39,218.0 47.44,208.4 47.48,212.3 47.53,216.8 47.57,217.7 47.62,213.0 47.66,213.5 47.71,208.0 47.75,208.5 47.80,214.1 47.85,210.6 47.89,222.8 47.94,221.4 47.98,224.7 48.03,228.5 48.07,214.5 48.12,219.9 48.16,224.6 48.21,215.3 48.25,218.1 48.30,214.5 48.35,220.7 48.39,224.9 48.44,211.0 48.48,208.8 48.53,207.6 48.57,208.6 48.62,214.3 48.66,211.7 48.71,208.4 48.75,207.1 48.80,206.0 48.85,216.9 48.89,211.8 48.94,224.5 48.98,223.8 49.03,223.7 49.07,225.1 49.12,221.8 49.16,215.1 49.21,214.7 49.25,213.0 49.30,219.9 49.35,214.5 49.39,217.5 49.44,213.7 49.48,216.2 49.53,222.9 49.57,218.3 49.62,208.1 49.66,204.8 49.71,209.0 49.75,213.8 49.80,214.0 49.85,216.7 49.89,225.5 49.94,219.9 49.98,218.1 50.03,220.8 50.07,213.7 50.12,212.3 50.16,220.3 50.21,221.3 50.25,216.8 50.30,224.0 50.35,217.5 50.39,217.0 50.44,217.0 50.48,221.7 50.53,221.0 50.57,215.4 50.62,218.5 50.66,212.0 50.71,210.6 50.75,203.2 50.80,222.6 50.85,214.3 50.89,218.3 50.94,219.5 50.98,225.9 51.03,220.5 51.07,205.9 51.12,205.6 51.16,215.0 51.21,224.6 51.25,223.2 51.30,218.5 51.35,217.5 51.39,236.5 51.44,212.1 51.48,213.2 51.53,221.9 51.57,227.4 51.62,213.2 51.66,215.7 51.71,221.5 51.75,222.8 51.80,223.0 51.85,218.7 51.89,221.0 51.94,222.6 51.98,217.6 52.03,215.7 52.07,212.3 52.12,215.5 52.16,220.7 52.21,212.2 52.25,219.6 52.30,213.5 52.35,220.8 52.39,224.6 52.44,209.6 52.48,215.1 52.53,218.0 52.57,223.7 52.62,225.3 52.66,227.8 52.71,212.9 52.75,209.5 52.80,218.5 52.85,224.4 52.89,221.3 52.94,221.7 52.98,221.0 53.03,216.1 53.07,222.4 53.12,224.2 53.16,217.2 53.21,222.7 53.25,225.8 53.30,231.3 53.35,230.7 53.39,219.7 53.44,219.3 53.48,212.4 53.53,222.3 53.57,219.2 53.62,218.1 53.66,224.3 53.71,218.2 53.75,214.5 53.80,211.4 53.85,219.9 53.89,206.4 53.94,221.3 53.98,216.4 54.03,218.4 54.07,214.7 54.12,209.7 54.16,212.1 54.21,213.7 54.25,219.0 54.30,217.0 54.35,216.9 54.39,214.8 54.44,212.1 54.48,204.3 54.53,210.5 54.57,207.3 54.62,207.3 54.66,211.4 54.71,212.2 54.75,218.1 54.80,220.4 54.85,220.2 54.89,222.1 54.94,217.0 54.98,214.7 55.03,221.5 55.07,219.1 55.12,212.3 55.16,221.1 55.21,215.1 55.25,217.5 55.30,209.8 55.35,216.2 55.39,211.8 55.44,207.4 55.48,213.4 55.53,212.3 55.57,216.0 55.62,217.0 55.66,218.2 55.71,228.2 55.75,231.3 55.80,225.3 55.85,217.8 55.89,213.6 55.94,212.0 55.98,231.0 56.03,220.3 56.07,221.8 56.12,226.8 56.16,218.5 56.21,213.7 56.25,215.6 56.30,217.9 56.35,212.7 56.39,229.8 56.44,218.1 56.48,216.5 56.53,213.3 56.57,211.4 56.62,212.3 56.66,209.3 56.71,214.1 56.75,214.9 56.80,217.1 56.85,208.5 56.89,210.2 56.94,208.6 56.98,216.2 57.03,213.3 57.07,217.4 57.12,213.4 57.16,221.1 57.21,217.0 57.25,206.9 57.30,197.3 57.35,199.9 57.39,203.9 57.44,203.9 57.48,200.1 57.53,199.0 57.57,213.4 57.62,211.7 57.66,207.6 57.71,197.4 57.75,196.8 57.80,207.8 57.85,210.9 57.89,210.1 57.94,209.2 57.98,205.9 58.03,212.0 58.07,209.6 58.12,205.9 58.16,204.7 58.21,202.0 58.25,202.8 58.30,207.8 58.35,206.7 58.39,201.4 58.44,221.2 58.48,207.6 58.53,210.4 58.57,208.0 58.62,207.4 58.66,212.3 58.71,200.3 58.75,197.8 58.80,204.9 58.85,193.1 58.89,195.9 58.94,199.2 58.98,216.1 59.03,205.4 59.07,216.0 59.12,195.7 59.16,200.8 59.21,201.5 59.25,210.2 59.30,200.4 59.35,213.9 59.39,211.7 59.44,209.4 59.48,215.8 59.53,206.5 59.57,210.5 59.62,202.8 59.66,211.5 59.71,205.8 59.75,210.3 59.80,209.2 59.85,202.5 59.89,195.7 59.94,196.2 59.98,194.7 60.03,194.6 60.07,181.6 60.12,204.4 60.16,212.1 60.21,215.8 60.25,215.1 60.30,212.8 60.35,183.3 60.39,205.0 60.44,212.4 60.50,180.6 60.53,195.4 60.57,207.3 60.62,210.1 60.66,213.2 60.71,217.6 60.75,218.8 60.80,222.7 60.85,214.7 60.89,227.9 60.94,210.7 60.98,206.9 61.03,204.0 61.07,214.2 61.12,210.5 61.16,207.2 61.21,200.3 61.25,203.5 61.30,217.8 61.35,218.1 61.39,203.1 61.44,210.1 61.48,210.6 61.53,199.0 61.57,212.3 61.62,206.9 61.66,216.3 61.71,193.4 61.75,197.2 61.80,196.3 61.85,197.7 61.89,207.4 61.94,205.5 61.98,197.8 62.03,207.7 62.07,195.0 62.12,203.6 62.16,198.3 62.21,193.8 62.25,205.8 62.30,196.7 62.35,193.7 62.39,203.0 62.44,207.9 62.48,207.8 62.53,201.0 62.57,207.7 62.62,206.3 62.66,212.7 62.71,195.3 62.75,199.8 62.80,186.5 62.85,199.8 62.89,212.4 62.94,205.7 62.98,209.1 63.03,207.1 63.07,207.3 63.12,203.3 63.16,190.9 63.21,204.3 63.25,208.7 63.30,217.7 63.35,211.2 63.39,207.5 63.44,198.1 63.48,201.5 63.53,200.6 63.57,206.8 63.62,221.1 63.66,217.5 63.71,204.3 63.75,194.6 63.80,197.7 63.85,205.9 63.89,206.7 63.94,226.2 63.98,220.9 64.03,211.2 64.07,213.1 64.12,202.1 64.16,196.2 64.21,203.3 64.25,207.6 64.30,210.5 64.35,208.1 64.39,206.9 64.44,213.5 64.48,201.0 64.53,197.6 64.57,206.6 64.62,201.0 64.66,218.8 64.71,211.5 64.75,219.5 64.80,208.8 64.85,196.2 64.89,216.5 64.94,210.8 64.98,210.8 65.03,200.1 65.07,193.7 65.12,193.2 65.16,194.1 65.21,196.2 65.25,193.6 65.30,203.1 65.35,207.4 65.39,212.2 65.44,205.4 65.48,209.3 65.53,193.1 65.57,192.8 65.62,198.4 65.66,190.2 65.71,210.8 65.75,204.6 65.80,197.0 65.85,192.4 65.89,182.2 65.94,208.6 65.98,205.7 66.03,199.5 66.07,201.9 66.12,209.6 66.16,197.6 66.21,188.5 66.25,199.7 66.30,204.7 66.35,217.2 66.39,209.8 66.44,218.8 66.50,170.7 66.53,192.6 66.57,204.8 66.62,204.4 66.66,199.9 66.71,202.7 66.75,211.8 66.80,195.1 66.85,212.2 66.89,209.5 66.94,210.4 66.98,211.2 67.03,206.2 67.07,195.7 67.12,209.2 67.16,194.4 67.21,187.5 67.25,193.4 67.30,202.7 67.35,202.6 67.39,204.5 67.44,208.7 67.48,213.9 67.53,201.7 67.57,194.1 67.62,197.6 67.66,194.3 67.71,195.9 67.75,193.3 67.80,182.2 67.85,187.0 67.89,198.2 67.94,196.9 67.98,192.1 68.03,189.8 68.07,191.1 68.12,190.9 68.16,187.6 68.21,194.4 68.25,188.0 68.30,175.3 68.35,189.3 68.39,192.3 68.44,203.6 68.48,201.1 68.53,197.8 68.57,194.3 68.62,194.6 68.66,197.3 68.71,196.3 68.75,208.4 68.80,211.7 68.85,215.8 68.89,204.1 68.94,189.5 68.98,198.6 69.03,209.9 69.07,218.7 69.12,211.5 69.16,208.4 69.21,200.3 69.25,209.3 69.30,194.0 69.35,197.7 69.39,201.6 69.44,192.3 69.48,195.9 69.53,207.9 69.57,200.1 69.62,207.5 69.66,198.6 69.71,208.9 69.75,217.0 69.80,214.9 69.85,229.4 69.89,219.5 69.94,202.7 69.98,202.5 70.03,208.1 70.07,207.0 70.12,205.9 70.16,203.3 70.21,193.7 70.25,188.1 70.30,197.1 70.35,223.0 70.39,215.2 70.44,205.4 70.48,202.7 70.53,216.0 70.57,205.7 70.62,212.6 70.66,205.2 70.71,208.2 70.75,213.6 70.80,209.2 70.85,206.7 70.89,208.2 70.94,211.3 70.98,205.1 71.03,211.8 71.07,196.0 71.12,200.4 71.16,200.1 71.21,205.9 71.25,227.9 71.30,192.1 71.35,198.3 71.39,204.7 71.44,191.2 71.48,196.0 71.53,193.0 71.57,184.0 71.62,189.9 71.66,195.4 71.71,209.8 71.75,202.2 71.80,192.2 71.85,201.4 71.89,198.5 71.94,192.2 71.98,197.4 72.03,189.1 72.07,188.5 72.12,199.5 72.16,194.0 72.21,193.2 72.25,191.8 72.30,200.3 72.35,201.9 72.39,203.5 72.44,188.2 72.48,203.6 72.53,190.7 72.57,179.8 72.62,208.7 72.66,204.4 72.71,222.9 72.75,204.7 72.80,192.2 72.85,189.4 72.89,201.6 72.94,200.5 72.98,209.4 73.03,192.6 73.07,186.7 73.12,193.9 73.16,194.8 73.21,196.8 73.25,195.2 73.30,195.8 73.35,198.4 73.39,175.9 73.44,178.6 73.48,191.9 73.53,195.7 73.57,195.8 73.62,210.3 73.66,193.0 73.71,195.8 73.75,201.6 73.80,202.8 73.85,194.3 73.89,189.4 73.94,193.4 73.98,214.2 74.03,206.1 74.07,188.2 74.12,201.8 74.16,195.3 74.21,192.0 74.25,206.3 74.30,204.1 74.35,203.0 74.39,216.4 74.44,200.4 74.48,208.5 74.53,200.4 74.57,220.0 74.62,221.7 74.66,206.4 74.71,203.1 74.75,206.6 74.80,197.0 74.85,194.0 74.89,193.8 74.94,208.2 74.98,203.7 75.03,201.2 75.07,195.9 75.12,203.3 75.16,200.7 75.21,214.1 75.25,197.0 75.30,206.5 75.35,202.8 75.39,202.2 75.44,206.2 75.48,197.7 75.53,200.6 75.57,196.9 75.62,189.5 75.66,193.1 75.71,180.1 75.75,187.9 75.80,192.3 75.85,192.3 75.89,182.8 75.94,188.2 75.98,192.2 76.03,199.1 76.07,184.7 76.12,190.2 76.16,192.2 76.21,180.9 76.25,180.3 76.30,190.0 76.35,196.9 76.39,192.1 76.44,189.3 76.48,209.8 76.53,196.1 76.57,195.7 76.62,190.4 76.66,189.2 76.71,184.8 76.75,189.9 76.80,195.6 76.85,187.2 76.89,192.6 76.94,193.7 76.98,184.3 77.03,207.5 77.07,209.7 77.12,204.1 77.16,193.2 77.21,178.3 77.25,192.6 77.30,194.0 77.35,205.4 77.39,204.8 77.44,208.7 77.48,209.8 77.53,208.1 77.57,212.7 77.62,205.7 77.66,202.1 77.71,192.3 77.75,200.3 77.80,208.3 77.85,183.8 77.89,189.2 77.94,205.1 77.98,197.2 78.03,194.1 78.07,188.6 78.12,185.8 78.16,182.0 78.21,189.8 78.25,194.7 78.30,206.7 78.35,197.8 78.39,199.8 78.44,205.2 78.48,197.5 78.53,211.7 78.57,193.6 78.62,192.0 78.66,199.3 78.71,184.6 78.75,208.5 78.80,202.6 78.85,197.5 78.89,200.3 78.94,203.6 78.98,204.5 79.03,210.9 79.07,194.6 79.12,208.7 79.16,204.1 79.21,201.8 79.25,209.3 79.30,176.0 79.35,197.3 79.39,193.4 79.44,195.6 79.48,203.9 79.53,186.2 79.57,198.4 79.62,198.4 79.66,198.7 79.71,192.3 79.75,197.9 79.80,209.3 79.85,205.7 79.89,209.3 79.94,218.6 79.98,202.4 80.03,217.4 80.07,211.4 80.12,225.2 80.16,216.6 80.21,214.8 80.25,205.4 80.30,194.7 80.35,188.4 80.39,188.9 80.44,186.6 80.48,200.9 80.53,204.8 80.57,197.6 80.62,199.8 80.66,196.0 80.71,197.9 80.75,214.2 80.80,209.8 80.85,187.7 80.89,185.8 80.94,199.8 80.98,209.0 81.03,209.4 81.07,214.5 81.12,189.1 81.16,207.1 81.21,208.6 81.25,178.7 81.30,216.2 81.35,209.4 81.39,210.4 81.44,202.7 81.48,202.2 81.53,192.3 81.57,194.6 81.62,198.7 81.66,206.1 81.71,200.2 81.75,208.4 81.80,199.6 81.85,225.7 81.89,209.3 81.94,202.1 81.98,196.7 82.03,207.9 82.07,205.7 82.12,213.0 82.16,222.3 82.21,198.7 82.25,203.3 82.30,205.3 82.35,202.8 82.39,202.4 82.44,201.0 82.48,197.3 82.53,196.0 82.57,207.9 82.62,195.2 82.66,220.6 82.71,210.7 82.75,208.6 82.80,211.3 82.85,202.1 82.89,211.4 82.94,210.3 82.98,207.8 83.03,193.1 83.07,193.1 83.12,197.9 83.16,178.7 83.21,204.5 83.25,194.4 83.30,200.7 83.35,202.7 83.39,197.5 83.44,196.8 83.48,194.3 83.53,196.5 83.57,209.0 83.62,207.9 83.66,209.7 83.71,201.4 83.75,211.0 83.80,194.5 83.85,198.5 83.89,202.7 83.94,196.3 83.98,196.7 84.03,207.1 84.07,198.3 84.12,191.9 84.16,192.2 84.21,199.5 84.25,211.9 84.30,205.2 84.35,196.2 84.39,203.3 84.44,200.4 84.48,203.0 84.53,208.3 84.57,206.2 84.62,211.8 84.66,207.4 84.71,199.0 84.75,210.6 84.80,211.0 84.85,207.5 84.89,214.7 84.94,202.3 84.98,196.3 85.03,190.9 85.07,187.1 85.12,199.6 85.16,216.8 85.21,216.2 85.25,204.7 85.30,198.1 85.35,211.4 85.39,214.3 85.44,203.2 85.48,212.3 85.53,202.0 85.57,199.0 85.62,190.3 85.66,199.3 85.71,204.4 85.75,211.3 85.80,208.2 85.85,196.8 85.89,210.2 85.94,195.2 85.98,196.8 86.03,210.1 86.07,196.6 86.12,189.3 86.16,193.4 86.21,208.8 86.25,201.2 86.30,195.6 86.35,184.5 86.39,194.5 86.44,193.2 86.48,188.4 86.53,207.4 86.57,196.4 86.62,202.2 86.66,202.0 86.71,200.6 86.75,197.3 86.80,202.8 86.85,205.4 86.89,207.7 86.94,202.8 86.98,208.7 87.03,191.1 87.07,195.0 87.12,199.9 87.16,191.8 87.21,200.1 87.25,211.1 87.30,203.8 87.35,204.3 87.39,204.5 87.44,199.0 87.48,193.8 87.53,195.0 87.57,195.9 87.62,191.9 87.66,203.8 87.71,203.6 87.75,219.5 87.80,218.1 87.85,202.8 87.89,191.5 87.94,200.1 87.98,197.4 88.03,197.1 88.07,201.4 88.12,192.6 88.16,192.1 88.21,196.3 88.25,189.6 88.30,185.6 88.35,195.6 88.39,187.4 88.44,187.5 88.48,188.0 88.53,198.4 88.57,209.9 88.62,208.3 88.66,208.2 88.71,200.9 88.75,200.2 88.80,204.9 88.85,212.6 88.89,211.3 88.94,212.3 88.98,194.2 89.03,202.2 89.07,206.7 89.12,205.5 89.16,220.2 89.21,217.0 89.25,213.8 89.30,214.1 89.35,215.7 89.39,202.9 89.44,192.3 89.48,203.3 89.53,207.7 89.57,197.0 89.62,196.6 89.66,206.5 89.71,205.0 89.75,203.3 89.80,200.1 89.85,210.2 89.89,205.7 89.94,203.1 89.98,201.6 90.03,199.7 90.07,194.6 90.12,212.8 90.16,210.9 90.21,216.6 90.25,217.7 90.30,209.4 90.35,209.4 90.39,200.9 90.44,193.6 90.48,187.3 90.53,189.3 90.57,189.9 90.62,195.8 90.66,199.8 90.71,192.9 90.75,196.5 90.80,199.8 90.85,200.2 90.89,190.1 90.94,190.7 90.98,197.8 91.03,197.9 91.07,205.8 91.12,201.3 91.16,209.6 91.21,203.4 91.25,202.5 91.30,202.1 91.35,191.4 91.39,200.8 91.44,202.4 91.48,200.3 91.53,192.6 91.57,196.5 91.62,206.6 91.66,211.8 91.71,209.5 91.75,205.5 91.80,213.4 91.85,202.6 91.89,195.5 91.94,196.9 91.98,200.2 92.03,214.6 92.07,202.6 92.12,179.6 92.16,182.6 92.21,181.7 92.25,200.2 92.30,199.2 92.35,191.4 92.39,199.8 92.44,207.8 92.48,208.4 92.53,202.2 92.57,194.9 92.62,205.6 92.66,208.9 92.71,196.4 92.75,195.3 92.80,197.7 92.85,201.7 92.89,198.7 92.94,193.5 92.98,179.0 93.03,201.9 93.07,192.1 93.12,208.2 93.16,197.8 93.21,205.0 93.25,199.9 93.30,205.2 93.35,210.1 93.39,200.5 93.44,202.1 93.48,192.0 93.53,195.0 93.57,187.9 93.62,194.2 93.66,198.0 93.71,197.2 93.75,197.5 93.80,205.4 93.85,207.2 93.89,205.0 93.94,197.8 93.98,192.5 94.03,204.7 94.07,199.2 94.12,205.7 94.16,209.4 94.21,203.0 94.25,206.6 94.30,198.3 94.35,204.2 94.39,197.4 94.44,207.5 94.48,216.8 94.53,209.0 94.57,207.4 94.62,204.2 94.66,216.0 94.71,200.8 94.75,189.4 94.80,196.3 94.85,200.4 94.89,200.7 94.94,207.7 94.98,195.7 95.03,203.5 95.07,202.9 95.12,202.4 95.16,197.5 95.21,196.2 95.25,192.2 95.30,213.6 95.35,209.9 95.39,210.8 95.44,197.8 95.48,200.6 95.53,205.3 95.57,204.1 95.62,201.7 95.66,197.2 95.71,199.9 95.75,200.3 95.80,198.7 95.85,207.6 95.89,217.3 95.94,219.3 95.98,221.8 96.03,209.8 96.07,200.7 96.12,206.7 96.16,212.2 96.21,204.2 96.25,196.1 96.30,199.4 96.35,195.2 96.39,198.9 96.44,197.2 96.48,202.8 96.53,201.2 96.57,199.1 96.62,202.4 96.66,203.7 96.71,211.8 96.75,210.8 96.80,202.4 96.85,200.5 96.89,195.8 96.94,192.9 96.98,196.9 97.03,203.4 97.07,196.6 97.12,200.9 97.16,211.0 97.21,204.2 97.25,204.8 97.30,215.7 97.35,210.4 97.39,220.2 97.44,201.5 97.48,206.8 97.53,206.4 97.57,201.3 97.62,201.9 97.66,190.9 97.71,197.5 97.75,189.9 97.80,198.0 97.85,194.0 97.89,197.7 97.94,200.3 97.98,209.0 98.03,206.6 98.07,209.0 98.12,205.4 98.16,215.8 98.21,212.2 98.25,212.0 98.30,210.6 98.35,206.2 98.39,206.9 98.44,199.3 98.48,203.1 98.53,206.7 98.57,192.9 98.62,193.0 98.66,188.5 98.71,182.8 98.75,193.3 98.80,197.8 98.85,203.4 98.89,190.0 98.94,194.4 98.98,202.1 99.03,203.2 99.07,199.8 99.12,208.2 99.16,207.5 99.21,198.4 99.25,201.1 99.30,208.0 99.35,187.7 99.39,192.8 99.44,199.7 99.48,203.9 99.53,198.6 99.57,184.6 99.62,185.9 99.66,194.7 99.71,193.1 99.75,187.6 99.80,191.7 99.85,199.7 99.89,196.2 99.94,185.5 99.98,193.3 100.03,200.4 100.07,190.8 100.12,189.1 100.16,193.7 100.21,196.1 100.25,187.9 100.30,189.6 100.35,181.8 100.39,191.5 100.44,179.8 100.48,182.3 100.53,178.5 100.57,174.3 100.62,171.1 100.66,189.7 100.71,193.3 100.75,192.0 100.80,183.8 100.85,185.3 100.89,184.0 100.94,188.5 100.98,190.2 101.03,189.6 101.07,198.4 101.12,187.5 101.16,208.8 101.21,193.0 101.25,200.2 101.30,186.7 101.35,188.9 101.39,187.2 101.44,191.3 101.48,193.7 101.53,192.8 101.57,196.9 101.62,195.1 101.66,172.9 101.71,174.2 101.75,185.0 101.80,176.9 101.85,188.5 101.89,203.7 101.94,186.2 101.98,191.6 102.03,180.6 102.07,191.1 102.12,201.8 102.16,195.3 102.21,190.8 102.25,187.1 102.30,180.4 102.35,185.4 102.39,179.0 102.44,177.9 102.48,172.9 102.53,182.5 102.57,170.9 102.62,174.4 102.66,187.0 102.71,174.6 102.75,171.2 102.80,169.0 102.85,180.7 102.89,191.1 102.94,189.8 102.98,200.6 103.03,184.5 103.07,186.7 103.12,184.9 103.16,191.5 103.21,176.6 103.25,180.9 103.30,186.2 103.35,193.5 103.39,192.4 103.44,182.1 103.48,182.9 103.53,161.8 103.57,173.2 103.62,193.8 103.66,192.3 103.71,186.2 103.75,169.9 103.80,180.1 103.85,176.0 103.89,180.6 103.94,179.2 103.98,175.3 104.03,190.4 104.07,197.2 104.12,190.8 104.16,192.2 104.21,190.5 104.25,182.6 104.30,191.7 104.35,197.3 104.39,192.2 104.44,201.2 104.48,193.4 104.53,182.3 104.57,184.1 104.62,183.8 104.66,178.3 104.71,175.7 104.75,190.5 104.80,183.6 104.85,183.4 104.89,181.3 104.94,180.8 104.98,173.0 105.03,180.7 105.07,185.8 105.12,173.9 105.16,174.9 105.21,183.8 105.25,200.2 105.30,189.2 105.35,184.5 105.39,189.2 105.44,200.8 105.48,191.1 105.53,200.6 105.57,197.0 105.62,187.4 105.66,188.0 105.71,179.3 105.75,178.8 105.80,185.6 105.85,176.5 105.89,180.3 105.94,180.9 105.98,178.5 106.03,181.8 106.07,183.6 106.12,179.9 106.16,186.3 106.21,176.1 106.25,187.1 106.30,185.7 106.35,177.0 106.39,172.1 106.44,169.7 106.48,177.7 106.53,168.3 106.57,176.4 106.62,170.8 106.66,174.5 106.71,178.0 106.75,195.0 106.80,184.2 106.85,167.4 106.89,171.0 106.94,181.3 106.98,171.9 107.03,181.1 107.07,192.7 107.12,190.8 107.16,180.8 107.21,181.3 107.25,172.1 107.30,172.7 107.35,176.5 107.39,173.6 107.44,178.5 107.48,173.3 107.53,174.5 107.57,172.1 107.62,163.1 107.66,166.2 107.71,162.9 107.75,158.2 107.80,173.3 107.85,177.1 107.89,167.2 107.94,169.6 107.98,181.6 108.03,173.8 108.07,168.1 108.12,171.6 108.16,173.1 108.21,177.9 108.25,171.9 108.30,172.3 108.35,175.3 108.39,181.8 108.44,189.9 108.48,176.7 108.53,185.2 108.57,171.4 108.62,170.7 108.66,182.4 108.71,181.1 108.75,176.1 108.80,169.7 108.85,174.2 108.89,173.6 108.94,168.6 108.98,171.3 109.03,167.7 109.07,165.1 109.12,171.4 109.16,165.1 109.21,162.8 109.25,171.0 109.30,172.7 109.35,178.9 109.39,180.4 109.44,177.3 109.48,173.3 109.53,181.5 109.57,169.9 109.62,171.6 109.66,168.7 109.71,182.0 109.75,167.8 109.80,169.7 109.85,173.6 109.89,185.7 109.94,180.3 109.98,178.2 110.03,172.5 110.07,168.0 110.12,158.9 110.16,164.5 110.21,186.6 110.25,188.2 110.30,173.6 110.35,177.2 110.39,182.9 110.44,169.5 110.48,176.7 110.53,179.1 110.57,179.5 110.62,172.6 110.66,180.4 110.71,181.7 110.75,171.3 110.80,155.8 110.85,163.4 110.89,166.9 110.94,164.0 110.98,171.9 111.03,162.1 111.07,163.3 111.12,157.1 111.16,155.1 111.21,167.4 111.25,163.4 111.30,185.5 111.35,161.5 111.39,164.4 111.44,165.4 111.48,158.7 111.53,166.9 111.57,168.1 111.62,166.8 111.66,166.7 111.71,166.2 111.75,168.9 111.80,179.3 111.85,177.1 111.89,169.7 111.94,169.9 111.98,167.8 112.03,170.5 112.07,167.3 112.12,166.3 112.16,164.1 112.21,166.9 112.25,163.4 112.30,160.8 112.35,165.0 112.39,165.5 112.44,168.7 112.48,164.1 112.53,159.8 112.57,166.5 112.62,177.4 112.66,175.3 112.71,169.5 112.75,162.2 112.80,163.3 112.85,164.3 112.89,167.2 112.94,161.4 112.98,168.3 113.03,170.6 113.07,158.0 113.12,168.8 113.16,171.6 113.21,168.8 113.25,165.7 113.30,159.5 113.35,170.6 113.39,169.5 113.44,171.9 113.48,179.2 113.53,167.9 113.57,159.3 113.62,159.1 113.66,159.4 113.71,167.2 113.75,163.6 113.80,165.3 113.85,165.6 113.89,161.0 113.94,172.6 113.98,170.3 114.03,167.9 114.07,166.2 114.12,157.1 114.16,159.7 114.21,156.6 114.25,155.5 114.30,168.6 114.35,169.0 114.39,179.4 114.44,185.2 114.48,174.5 114.53,177.3 114.57,175.7 114.62,178.4 114.66,167.0 114.71,174.8 114.75,165.7 114.80,165.6 114.85,174.4 114.89,173.2 114.94,164.5 114.98,168.1 115.03,172.1 115.07,179.0 115.12,176.6 115.16,170.4 115.21,159.6 115.25,163.9 115.30,166.8 115.35,162.0 115.40,150.6 115.44,161.5 115.48,159.2 115.53,159.9 115.57,160.2 115.62,163.8 115.66,165.5 115.71,168.4 115.75,157.4 115.80,160.8 115.85,156.7 115.89,157.9 115.94,154.5 115.98,167.9 116.03,162.9 116.07,167.4 116.12,165.3 116.16,164.4 116.21,162.7 116.25,168.6 116.30,163.6 116.35,161.6 116.39,171.2 116.44,170.8 116.48,166.2 116.53,161.8 116.57,163.2 116.62,154.8 116.66,158.5 116.71,158.5 116.75,147.1 116.80,147.0 116.85,153.1 116.89,163.2 116.94,158.6 116.98,167.2 117.03,164.2 117.07,156.4 117.12,172.6 117.16,176.7 117.21,168.7 117.25,165.3 117.30,162.8 117.35,163.5 117.39,176.8 117.44,160.7 117.48,159.1 117.53,164.9 117.57,171.3 117.62,178.8 117.66,174.0 117.71,177.3 117.75,177.0 117.80,173.5 117.85,170.6 117.89,167.7 117.94,171.9 117.98,162.3 118.03,162.2 118.07,161.3 118.12,153.3 118.16,164.2 118.21,165.9 118.25,175.3 118.30,174.5 118.35,172.3 118.39,161.0 118.44,159.1 118.48,170.6 118.53,169.8 118.57,163.7 118.62,162.5 118.66,165.3 118.71,168.5 118.75,171.3 118.80,169.5 118.85,164.8 118.89,178.9 118.94,178.1 118.98,171.0 119.03,169.1 119.07,161.7 119.12,158.0 119.16,158.8 119.21,155.4 119.25,154.6 119.30,162.7 119.35,168.3 119.39,164.3 119.44,174.8 119.48,172.7 119.53,174.6 119.57,172.6 119.62,171.2 119.66,171.0 119.71,178.4 119.75,177.6 119.80,164.7 119.85,170.3 119.89,165.5 119.94,172.7 119.98,173.0 120.03,163.3 120.07,163.0 120.12,166.0 120.16,164.5 120.21,162.3 120.25,175.8 120.30,170.6 120.35,166.8 120.39,167.6 120.44,157.7 120.48,170.1 120.53,155.6 120.57,167.6 120.62,164.7 120.66,168.5 120.71,165.4 120.75,182.8 120.80,173.5 120.85,168.5 120.89,166.3 120.94,166.0 120.98,164.6 121.03,172.1 121.07,162.6 121.12,168.7 121.16,175.9 121.21,170.5 121.25,166.2 121.30,173.1 121.35,164.0 121.39,159.8 121.44,171.2 121.48,171.5 121.53,163.9 121.57,166.9 121.62,166.7 121.66,169.2 121.71,178.5 121.75,186.3 121.80,180.3 121.85,168.7 121.89,166.6 121.94,172.0 121.98,173.7 122.03,163.5 122.07,165.1 122.12,174.9 122.16,173.3 122.21,169.7 122.25,176.2 122.30,171.9 122.35,176.6 122.39,168.7 122.44,155.0 122.48,150.9 122.53,161.4 122.57,166.8 122.62,175.8 122.66,168.9 122.71,170.3 122.75,167.7 122.80,172.1 122.85,176.2 122.89,172.1 122.94,169.2 122.98,168.9 123.03,166.0 123.07,172.1 123.12,167.6 123.16,178.2 123.21,171.7 123.25,169.4 123.30,167.2 123.35,180.5 123.39,171.2 123.44,165.6 123.48,167.1 123.53,170.2 123.57,158.4 123.62,160.4 123.66,167.6 123.71,171.2 123.75,161.2 123.80,171.4 123.85,165.1 123.89,170.7 123.94,179.2 123.98,171.7 124.03,167.9 124.07,179.2 124.12,175.6 124.16,174.2 124.21,169.8 124.25,178.0 124.30,167.5 124.35,180.4 124.39,172.1 124.44,172.0 124.48,169.4 124.53,178.4 124.57,174.6 124.62,176.2 124.66,178.3 124.71,182.8 124.75,174.4 124.80,174.5 124.85,180.2 124.89,169.1 124.94,167.3 124.98,185.9 125.03,185.1 125.07,180.6 125.12,183.0 125.16,180.4 125.21,174.2 125.25,176.9 125.30,184.2 125.35,183.2 125.39,185.0 125.44,178.6 125.48,180.6 125.53,171.6 125.57,169.5 125.62,172.8 125.66,169.4 125.71,182.7 125.75,173.3 125.80,178.9 125.85,183.1 125.89,181.2 125.94,186.0 125.98,177.4 126.03,185.4 126.07,174.4 126.12,177.1 126.16,175.1 126.21,178.3 126.25,185.0 126.30,183.8 126.35,173.9 126.39,179.5 126.44,182.0 126.48,179.9 126.53,178.5 126.57,187.1 126.62,180.1 126.66,181.9 126.71,180.7 126.75,181.9 126.80,182.7 126.85,153.9 126.89,178.4 126.94,175.6 126.98,169.9 127.03,163.5 127.07,172.2 127.12,160.1 127.16,173.2 127.21,172.0 127.25,157.3 127.30,164.5 127.35,163.7 127.39,167.3 127.44,155.1 127.48,174.1 127.53,176.6 127.57,176.2 127.62,167.3 127.66,183.0 127.71,177.1 127.75,172.1 127.80,177.0 127.85,172.8 127.89,168.3 127.94,176.0 127.98,181.8 128.03,182.3 128.07,185.2 128.12,176.9 128.16,182.7 128.21,169.5 128.25,169.6 128.30,170.4 128.35,166.5 128.39,164.4 128.44,163.0 128.48,170.9 128.53,180.2 128.57,172.5 128.62,166.5 128.66,172.8 128.71,169.0 128.75,167.3 128.80,167.4 128.85,168.7 128.89,170.0 128.94,177.8 128.98,177.8 129.03,168.3 129.07,168.3 129.12,162.8 129.16,176.9 129.21,174.0 129.25,163.8 129.30,158.4 129.35,166.6 129.39,161.1 129.44,154.5 129.48,170.8 129.53,180.3 129.57,178.9 129.62,178.9 129.66,176.9 129.71,167.4 129.75,177.8 129.80,174.1 129.85,176.8 129.89,178.0 129.94,176.3 129.98,171.8 130.03,183.1 130.07,170.3 130.12,176.8 130.16,170.2 130.21,173.2 130.25,176.5 130.30,173.4 130.35,171.1 130.39,167.4 130.44,166.6 130.48,174.2 130.53,181.4 130.57,182.7 130.62,171.6 130.66,167.0 130.71,170.8 130.75,180.7 130.80,178.0 130.85,172.0 130.89,173.7 130.94,171.6 130.98,181.0 131.03,181.7 131.07,180.6 131.12,177.3 131.16,171.1 131.21,171.4 131.25,191.8 131.30,189.1 131.35,186.9 131.39,174.3 131.44,170.4 131.48,166.8 131.53,163.2 131.57,166.0 131.62,166.1 131.66,174.1 131.71,179.3 131.75,176.3 131.80,180.3 131.85,179.6 131.89,173.0 131.94,167.5 131.98,175.8 132.03,176.1 132.07,177.1 132.12,178.5 132.16,181.4 132.21,178.2 132.25,171.2 132.30,165.6 132.35,177.7 132.39,170.6 132.44,175.7 132.48,172.8 132.53,173.8 132.57,175.4 132.62,175.1 132.66,181.4 132.71,180.2 132.75,179.6 132.80,177.0 132.85,176.9 132.89,179.1 132.94,184.3 132.98,174.6 133.03,175.9 133.07,169.2 133.12,169.1 133.16,174.1 133.21,182.5 133.25,188.7 133.30,180.8 133.35,177.1 133.39,181.5 133.44,182.5 133.48,175.7 133.53,182.8 133.57,182.3 133.62,180.2 133.66,180.6 133.71,181.8 133.75,188.3 133.80,183.8 133.85,182.3 133.89,179.5 133.94,181.2 133.98,181.3 134.03,183.6 134.07,183.7 134.12,186.6 134.16,183.7 134.21,180.2 134.25,182.4 134.30,175.4 134.35,170.5 134.39,175.4 134.44,175.6 134.48,193.6 134.53,184.3 134.57,188.7 134.62,188.2 134.66,182.6 134.71,182.1 134.75,180.8 134.80,179.8 134.85,184.2 134.89,186.0 134.94,184.9 134.98,187.4 135.03,191.9 135.07,179.8 135.12,181.3 135.16,179.0 135.21,179.5 135.25,175.4 135.30,173.0 135.35,179.9 135.39,180.0 135.44,189.4 135.48,187.2 135.53,179.0 135.57,185.6 135.62,185.4 135.66,183.7 135.71,188.8 135.75,187.9 135.80,186.5 135.85,189.8 135.89,182.9 135.94,183.7 135.98,183.2 136.03,177.2 136.07,189.8 136.12,181.9 136.16,180.3 136.21,180.8 136.25,185.3 136.30,183.8 136.35,188.8 136.39,183.5 136.44,188.9 136.48,189.6 136.53,187.4 136.57,188.3 136.62,185.9 136.66,184.3 136.71,183.1 136.75,185.4 136.80,186.2 136.85,185.9 136.89,189.2 136.94,189.8 136.98,188.1 137.03,189.3 137.07,179.7 137.12,174.7 137.16,184.8 137.21,191.2 137.25,184.0 137.30,189.5 137.35,188.8 137.39,192.2 137.44,192.7 137.48,174.2 137.53,191.7 137.57,185.0 137.62,180.5 137.66,184.5 137.71,187.7 137.75,191.3 137.80,186.3 137.85,185.0 137.89,184.1 137.94,189.4 137.98,188.1 138.03,192.7 138.07,189.9 138.12,188.8 138.16,187.0 138.21,193.2 138.25,193.3 138.30,192.0 138.35,185.1 138.39,186.2 138.44,186.5 138.48,199.3 138.53,187.2 138.57,184.7 138.62,183.1 138.66,191.0 138.71,190.6 138.75,187.5 138.80,188.5 138.85,193.8 138.89,196.8 138.94,186.6 138.98,191.8 139.03,188.2 139.07,185.8 139.12,188.6 139.16,191.1 139.21,187.1 139.25,189.3 139.30,193.3 139.35,190.6 139.39,189.3 139.44,184.7 139.48,189.2 139.53,186.2 139.57,186.2 139.62,189.9 139.66,180.1 139.71,192.3 139.75,192.1 139.80,186.3 139.85,189.2 139.89,191.3 139.94,191.9 139.98,191.5 140.03,189.1 140.07,196.2 140.12,188.8 140.16,181.9 140.21,181.5 140.25,179.2 140.30,187.8 140.35,186.9 140.39,185.7 140.44,185.3 140.48,187.5 140.53,192.8 140.57,188.7 140.62,191.7 140.66,181.8 140.71,185.9 140.75,191.0 140.80,191.1 140.85,193.8 140.89,188.2 140.94,193.8 140.98,193.6 141.03,179.4 141.07,182.2 141.12,188.4 141.16,196.1 141.21,192.7 141.25,190.6 141.30,184.7 141.35,179.8 141.39,185.9 141.44,184.9 141.48,187.3 141.53,188.2 141.57,193.3 141.62,191.7 141.66,190.4 141.71,194.6 141.75,190.4 141.80,192.8 141.85,194.8 141.89,191.8 141.94,190.7 141.98,187.9 142.03,189.3 142.07,190.7 142.12,195.9 142.16,192.4 142.21,184.7 142.25,184.6 142.30,185.2 142.35,183.2 142.39,184.6 142.44,187.9 142.48,182.2 142.53,184.8 142.57,179.1 142.62,187.0 142.66,190.5 142.71,186.8 142.75,192.5 142.80,189.3 142.85,189.4 142.89,188.5 142.94,186.9 142.98,185.3 143.03,183.1 143.07,185.2 143.12,192.7 143.16,186.1 143.21,182.7 143.25,189.8 143.30,195.5 143.35,187.6 143.39,188.1 143.44,184.2 143.48,184.6 143.53,200.9 143.57,184.2 143.62,190.9 143.66,190.3 143.71,190.5 143.75,184.2 143.80,184.1 143.85,186.6 143.89,186.6 143.94,184.4 143.98,186.0 144.03,182.5 144.07,180.4 144.12,181.5 144.16,185.1 144.21,179.8 144.25,191.8 144.30,185.8 144.35,187.9 144.39,190.3 144.44,183.4 144.48,184.8 144.53,189.4 144.57,195.4 144.62,190.0 144.66,192.7 144.71,187.3 144.75,184.6 144.80,184.4 144.85,187.9 144.89,178.9 144.94,180.6 144.98,183.2 145.03,182.2 145.07,192.2 145.12,194.3 145.16,193.6 145.21,196.6 145.25,186.6 145.30,189.6 145.35,186.0 145.39,180.4 145.44,182.4 145.48,185.1 145.53,186.9 145.57,182.8 145.62,188.7 145.66,193.9 145.71,194.4 145.75,193.5 145.80,188.9 145.85,191.8 145.89,185.0 145.94,173.8 145.98,197.7 146.03,183.7 146.07,183.2 146.12,189.2 146.16,180.5 146.21,176.6 146.25,175.3 146.30,175.0 146.35,177.2 146.39,177.8 146.44,178.6 146.48,176.3 146.53,174.1 146.57,175.3 146.62,180.5 146.66,175.7 146.71,173.3 146.75,172.6 146.80,179.5 146.85,185.0 146.89,180.3 146.94,185.6 146.98,186.8 147.03,187.1 147.07,183.9 147.12,187.7 147.16,187.9 147.21,189.5 147.25,188.5 147.30,195.1 147.35,191.7 147.39,191.3 147.44,189.5 147.48,181.6 147.53,175.9 147.57,182.9 147.62,184.5 147.66,180.9 147.71,178.9 147.75,181.8 147.80,187.3 147.85,186.1 147.89,187.1 147.94,182.6 147.98,186.7 148.03,185.5 148.07,179.9 148.12,183.4 148.16,180.1 148.21,183.6 148.25,183.1 148.30,186.8 148.35,179.2 148.39,180.7 148.44,175.4 148.48,172.3 148.53,178.7 148.57,177.6 148.62,180.3 148.66,178.3 148.71,184.6 148.75,185.1 148.80,194.1 148.85,184.3 148.89,175.9 148.94,178.8 148.98,177.9 149.03,175.0 149.07,186.7 149.12,179.9 149.16,175.8 149.21,185.0 149.25,182.4 149.30,180.2 149.35,180.6 149.39,183.4 149.44,178.4 149.48,176.3 149.53,173.6 149.57,171.8 149.62,185.7 149.66,187.8 149.71,184.9 149.75,183.4 149.80,181.7 149.85,184.8 149.89,186.1 149.94,181.7 149.98,183.3 150.03,181.2 150.07,184.9 150.12,185.6 150.16,179.4 150.21,181.1 150.25,175.4 150.30,174.2 150.35,187.1 150.39,188.5 150.44,187.6 150.48,189.5 150.53,188.5 150.57,188.4 150.62,184.1 150.66,181.6 150.71,180.4 150.75,182.5 150.80,179.1 150.85,186.6 150.89,190.4 150.94,188.2 150.98,180.7 151.03,189.0 151.07,186.9 151.12,192.5 151.16,179.9 151.21,189.5 151.25,184.1 151.30,197.2 151.35,180.9 151.39,187.2 151.44,180.3 151.48,178.3 151.53,182.6 151.57,184.1 151.62,181.6 151.66,175.9 151.71,175.7 151.75,175.3 151.80,188.4 151.85,188.4 151.89,187.6 151.94,189.9 151.98,189.2 152.03,188.1 152.07,189.0 152.12,173.3 152.16,190.5 152.21,185.3 152.25,192.5 152.30,185.4 152.35,191.3 152.39,172.0 152.44,188.4 152.48,186.6 152.53,187.7 152.57,179.6 152.62,184.3 152.66,183.1 152.71,185.7 152.75,196.7 152.80,188.6 152.85,185.7 152.89,188.6 152.94,186.7 152.98,181.8 153.03,178.3 153.07,174.4 153.12,184.6 153.16,197.3 153.21,189.3 153.25,182.6 153.30,183.0 153.35,191.5 153.39,187.7 153.44,177.7 153.48,182.2 153.53,176.8 153.57,193.3 153.62,186.0 153.66,182.7 153.71,186.8 153.75,196.9 153.80,186.0 153.85,181.8 153.89,179.3 153.94,184.9 153.98,185.2 154.03,188.5 154.07,187.5 154.12,188.6 154.16,182.0 154.21,188.6 154.25,191.0 154.30,189.4 154.35,191.1 154.39,190.4 154.44,187.3 154.48,181.1 154.53,181.5 154.57,182.0 154.62,178.8 154.66,185.6 154.71,183.9 154.75,186.8 154.80,189.0 154.85,194.2 154.89,195.7 154.94,191.1 154.98,184.7 155.03,186.2 155.07,186.7 155.12,194.6 155.16,194.5 155.21,191.5 155.25,188.2 155.30,187.0 155.35,182.8 155.39,182.8 155.44,186.7 155.48,189.1 155.53,183.8 155.57,184.8 155.62,183.5 155.66,185.4 155.71,186.0 155.75,184.4 155.80,182.5 155.85,191.1 155.89,185.3 155.94,188.0 155.98,182.6 156.03,184.1 156.07,182.4 156.12,185.5 156.16,181.8 156.21,184.4 156.25,187.0 156.30,188.4 156.35,191.2 156.39,187.5 156.44,183.3 156.48,189.7 156.53,189.2 156.57,187.7 156.62,184.9 156.66,186.8 156.71,188.8 156.75,180.3 156.80,186.2 156.85,188.3 156.89,189.7 156.94,190.3 156.98,188.8 157.03,196.1 157.07,188.5 157.12,190.1 157.16,185.6 157.21,187.5 157.25,193.0 157.30,189.5 157.35,182.5 157.39,176.8 157.44,183.1 157.48,181.3 157.53,184.2 157.57,182.4 157.62,182.1 157.66,193.4 157.71,192.5 157.75,184.1 157.80,180.9 157.85,188.6 157.89,192.6 157.94,186.8 157.98,185.6 158.03,186.2 158.07,177.6 158.12,191.5 158.16,186.3 158.21,186.9 158.25,180.1 158.30,170.3 158.35,183.4 158.39,186.1 158.44,187.3 158.48,187.4 158.53,190.8 158.57,184.8 158.62,188.1 158.66,187.6 158.71,187.8 158.75,185.9 158.80,184.8 158.85,179.6 158.89,189.3 158.94,185.1 158.98,191.7 159.03,177.1 159.07,183.6 159.12,190.7 159.16,185.4 159.21,192.8 159.25,190.4 159.30,188.3 159.35,193.8 159.39,188.5 159.44,186.9 159.48,181.0 159.53,188.4 159.57,181.9 159.62,181.9 159.66,193.3 159.71,193.5 159.75,193.3 159.80,193.2 159.85,189.1 159.89,184.9 159.94,185.5 159.98,185.7 160.03,180.8 160.07,196.9 160.12,197.7 160.16,190.5 160.21,188.1 160.25,184.2 160.30,192.1 160.35,185.5 160.39,192.9 160.44,189.2 160.48,182.5 160.53,184.5 160.57,190.8 160.62,186.2 160.66,180.8 160.71,182.5 160.75,181.1 160.80,182.8 160.85,180.7 160.89,189.4 160.94,182.8 160.98,180.4 161.03,184.1 161.07,178.8 161.12,180.9 161.16,185.5 161.21,176.5 161.25,179.7 161.30,187.3 161.35,183.2 161.39,178.3 161.44,177.8 161.48,189.0 161.53,184.6 161.57,183.6 161.62,193.3 161.66,181.4 161.71,180.7 161.75,181.9 161.80,188.3 161.85,187.9 161.89,185.1 161.94,182.7 161.98,188.2 162.03,184.7 162.07,179.1 162.12,185.6 162.16,183.6 162.21,193.3 162.25,183.1 162.30,186.4 162.35,177.8 162.39,183.8 162.44,189.2 162.48,186.9 162.53,186.8 162.57,184.2 162.62,190.2 162.66,193.4 162.71,186.3 162.75,198.6 162.80,179.1 162.85,177.5 162.89,179.6 162.94,181.4 162.98,189.5 163.03,183.8 163.07,189.2 163.12,180.8 163.16,176.3 163.21,178.4 163.25,183.3 163.30,186.3 163.35,189.4 163.39,187.1 163.44,182.5 163.48,189.4 163.53,190.1 163.57,197.7 163.62,184.1 163.66,184.8 163.71,178.3 163.75,182.0 163.80,182.8 163.85,183.4 163.89,180.1 163.94,185.6 163.98,179.0 164.03,179.5 164.07,179.7 164.12,185.6 164.16,187.2 164.21,196.8 164.25,186.2 164.30,180.3 164.35,184.3 164.39,187.9 164.44,188.1 164.48,190.5 164.53,198.7 164.57,195.3 164.62,198.9 164.66,198.4 164.71,195.4 164.75,189.6 164.80,191.1 164.85,184.9 164.89,188.2 164.94,189.3 164.98,188.6 165.03,184.6 165.07,184.0 165.12,194.5 165.16,194.2 165.21,194.3 165.25,195.2 165.30,186.1 165.35,184.5 165.39,188.6 165.44,186.7 165.48,183.7 165.53,187.8 165.57,182.9 165.62,179.9 165.66,178.9 165.71,173.7 165.75,175.2 165.80,185.7 165.85,179.6 165.89,184.5 165.94,185.3 165.98,187.3 166.03,184.8 166.07,181.3 166.12,180.5 166.16,182.1 166.21,178.7 166.25,184.6 166.30,176.2 166.35,179.7 166.39,180.1 166.44,178.8 166.48,178.2 166.53,182.1 166.57,174.3 166.62,176.3 166.66,182.4 166.71,178.4 166.75,176.4 166.80,184.1 166.85,187.7 166.89,181.6 166.94,176.8 166.98,182.8 167.03,189.5 167.07,182.5 167.12,181.4 167.16,174.0 167.21,184.7 167.25,167.9 167.30,176.8 167.35,180.1 167.39,193.8 167.44,189.8 167.48,181.3 167.53,185.0 167.57,180.3 167.62,190.3 167.66,186.2 167.71,181.6 167.75,171.7 167.80,180.6 167.85,179.1 167.89,180.7 167.94,180.8 167.98,181.2 168.03,165.7 168.07,188.2 168.12,175.5 168.16,174.8 168.21,176.9 168.25,175.9 168.30,170.6 168.35,177.2 168.39,182.0 168.44,185.8 168.48,175.9 168.53,172.8 168.57,178.2 168.62,187.1 168.66,176.6 168.71,187.6 168.75,186.7 168.80,182.9 168.85,173.4 168.89,175.3 168.94,174.3 168.98,175.7 169.03,177.8 169.07,184.2 169.12,181.7 169.16,188.3 169.21,180.8 169.25,182.1 169.30,176.9 169.35,178.0 169.39,182.2 169.44,187.4 169.48,179.6 169.53,184.1 169.57,174.6 169.62,177.4 169.66,186.5 169.71,194.4 169.75,187.5 169.80,186.9 169.85,188.2 169.89,181.5 169.94,195.5 169.98,185.3 170.03,182.5 170.07,185.2 170.12,182.8 170.16,188.2 170.21,173.9 170.25,180.4 170.30,182.3 170.35,190.3 170.39,188.5 170.44,184.2 170.48,182.9 170.53,184.8 170.57,184.5 170.62,182.9 170.66,186.9 170.71,179.5 170.75,182.4 170.80,182.5 170.85,181.2 170.89,182.3 170.94,181.5 170.98,184.3 171.03,187.7 171.07,188.8 171.12,191.8 171.16,178.8 171.21,178.8 171.25,199.3 171.30,182.7 171.35,186.9 171.39,182.5 171.44,178.8 171.48,176.3 171.53,177.7 171.57,168.0 171.62,174.2 171.66,176.7 171.71,187.3 171.75,187.1 171.80,186.5 171.85,180.1 171.89,181.4 171.94,176.5 171.98,184.7 172.03,183.5 172.07,178.7 172.12,179.8 172.16,181.3 172.21,185.4 172.25,187.5 172.30,180.0 172.35,186.2 172.39,185.4 172.44,179.9 172.48,177.9 172.53,183.9 172.57,183.8 172.62,181.3 172.66,178.8 172.71,175.0 172.75,173.3 172.80,174.3 172.85,175.0 172.89,182.9 172.94,185.9 172.98,183.0 173.03,181.7 173.07,179.9 173.12,185.0 173.16,176.1 173.21,173.4 173.25,182.5 173.30,174.2 173.35,186.4 173.39,184.8 173.44,182.4 173.48,187.9 173.53,185.6 173.57,188.1 173.62,183.4 173.66,181.8 173.71,178.6 173.75,188.3 173.80,181.1 173.85,187.4 173.89,190.7 173.94,187.1 173.98,183.6 174.03,197.9 174.07,186.0 174.12,183.2 174.16,189.1 174.21,184.1 174.25,183.1 174.30,181.0 174.35,194.3 174.39,199.7 174.44,189.2 174.48,188.7 174.53,187.9 174.57,189.1 174.62,185.1 174.66,183.1 174.71,185.3 174.75,182.0 174.80,182.0 174.85,183.8 174.89,181.8 174.94,180.5 174.98,181.1 175.03,184.2 175.07,180.3 175.12,181.7 175.16,188.0 175.21,186.0 175.25,183.8 175.30,191.9 175.35,188.9 175.39,188.6 175.44,184.3 175.48,190.5 175.53,190.3 175.57,188.4 175.62,191.1 175.66,180.4 175.71,185.7 175.75,179.5 175.80,185.3 175.85,187.0 175.89,190.3 175.94,187.1 175.98,183.2 176.03,186.2 176.07,176.5 176.12,184.3 176.16,186.3 176.21,188.2 176.25,179.8 176.30,186.7 176.35,177.7 176.39,186.8 176.44,184.7 176.48,177.6 176.53,176.0 176.57,179.3 176.62,178.1 176.66,182.3 176.71,181.3 176.75,186.0 176.80,181.4 176.85,184.9 176.89,188.8 176.94,186.5 176.98,182.0 177.03,180.0 177.07,176.3 177.12,184.6 177.16,184.8 177.21,179.1 177.25,183.6 177.30,177.5 177.35,180.4 177.39,180.4 177.44,176.5 177.48,180.8 177.53,181.0 177.57,180.8 177.62,182.0 177.66,181.1 177.71,188.7 177.75,191.6 177.80,184.4 177.85,191.9 177.89,186.7 177.94,182.1 177.98,174.4 178.03,172.3 178.07,179.7 178.12,167.1 178.16,191.3 178.21,181.8 178.25,187.3 178.30,178.9 178.35,182.6 178.39,177.4 178.44,177.3 178.48,175.4 178.53,183.1 178.57,183.6 178.62,188.7 178.66,185.2 178.71,179.5 178.75,182.2 178.80,184.5 178.85,185.9 178.89,192.3 178.94,191.1 178.98,196.7 179.03,189.8 179.07,183.1 179.12,184.7 179.16,190.7 179.21,190.5 179.25,181.5 179.30,186.2 179.35,179.7 179.39,178.0 179.44,178.8 179.48,183.5 179.53,171.5 179.57,174.9 179.62,181.3 179.66,178.5 179.71,177.6 179.75,183.6 179.80,190.3 179.85,182.6 179.89,187.7 179.94,183.3 179.98,181.6 180.03,180.1 180.07,182.7 180.12,190.0 180.16,181.5 180.21,183.9 180.25,190.2 180.30,185.0 180.35,177.4 180.39,181.0 180.44,180.0 180.48,182.8 180.53,178.1 180.57,178.8 180.62,180.6 180.66,183.1 180.71,189.2 180.75,197.1 180.80,190.5 180.85,189.9 180.89,185.4 180.94,191.0 180.98,183.4 181.03,180.1 181.07,186.3 181.12,181.4 181.16,181.5 181.21,182.5 181.25,179.1 181.30,184.1 181.35,173.9 181.39,171.1 181.44,175.1 181.48,190.5 181.53,191.0 181.57,190.1 181.62,186.4 181.66,194.4 181.71,197.5 181.75,185.2 181.80,190.7 181.85,186.0 181.89,192.0 181.94,194.4 181.98,169.1 182.03,179.1 182.07,173.9 182.12,181.1 182.16,188.3 182.21,187.5 182.25,176.5 182.30,185.3 182.35,178.5 182.39,184.6 182.44,178.3 182.48,171.8 182.53,175.7 182.57,184.2 182.62,180.4 182.66,177.1 182.71,183.9 182.75,183.6 182.80,183.0 182.85,190.1 182.89,186.6 182.94,194.9 182.98,188.8 183.03,183.8 183.07,178.1 183.12,175.9 183.16,179.2 183.21,175.5 183.25,180.7 183.30,177.1 183.35,170.2 183.39,185.3 183.44,178.0 183.48,184.0 183.53,176.6 183.57,180.0 183.62,178.1 183.66,184.9 183.71,181.7 183.75,178.7 183.80,178.8 183.85,176.4 183.89,178.7 183.94,180.3 183.98,182.4 184.03,194.6 184.07,184.2 184.12,182.0 184.16,174.3 184.21,180.3 184.25,182.8 184.30,181.2 184.35,182.1 184.39,179.9 184.44,170.4 184.48,177.8 184.53,181.9 184.57,175.0 184.62,175.1 184.66,178.6 184.71,165.9 184.75,175.3 184.80,172.9 184.85,179.3 184.89,177.2 184.94,175.3 184.98,180.9 185.03,180.2 185.07,180.9 185.12,175.1 185.16,184.9 185.21,178.4 185.25,181.0 185.30,179.3 185.35,189.7 185.39,181.8 185.44,189.6 185.48,182.7 185.53,180.7 185.57,180.8 185.62,179.8 185.66,179.8 185.71,181.0 185.75,185.3 185.80,183.3 185.85,188.1 185.89,183.9 185.94,180.0 185.98,178.3 186.03,182.2 186.07,186.3 186.12,189.7 186.16,190.5 186.21,181.2 186.25,179.2 186.30,174.8 186.35,177.1 186.39,184.2 186.44,190.2 186.48,178.9 186.53,178.2 186.57,171.9 186.62,179.7 186.66,177.5 186.71,180.0 186.75,180.2 186.80,191.3 186.85,187.1 186.89,177.5 186.94,177.9 186.98,176.6 187.03,182.7 187.07,189.4 187.12,185.9 187.16,185.9 187.21,181.7 187.25,183.9 187.30,186.2 187.35,184.8 187.39,185.5 187.44,186.4 187.48,178.4 187.53,180.2 187.57,188.8 187.62,187.0 187.66,188.0 187.71,185.2 187.75,174.1 187.80,179.1 187.85,182.5 187.89,178.7 187.94,183.8 187.98,174.4 188.03,186.1 188.07,182.1 188.12,182.8 188.16,181.7 188.21,181.7 188.25,179.5 188.30,182.0 188.35,185.2 188.39,187.1 188.44,194.2 188.48,184.4 188.53,191.5 188.57,182.3 188.62,185.2 188.66,188.9 188.71,181.8 188.75,174.3 188.80,175.7 188.85,184.7 188.89,179.2 188.94,180.9 188.98,179.0 189.03,182.2 189.07,188.6 189.12,182.2 189.16,176.0 189.21,178.7 189.25,179.9 189.30,183.6 189.35,185.5 189.39,185.1 189.44,181.4 189.48,178.3 189.53,189.2 189.57,190.5 189.62,186.3 189.66,187.6 189.71,188.5 189.75,179.9 189.80,188.4 189.85,182.3 189.89,186.7 189.94,178.8 189.98,176.4 190.03,177.1 190.07,179.5 190.12,178.3 190.16,187.8 190.21,180.6 190.25,184.4 190.30,188.5 190.35,189.1 190.39,180.5 190.44,175.3 190.48,173.5 190.53,179.1 190.57,189.9 190.62,181.2 190.66,174.1 190.71,183.7 190.75,183.5 190.80,177.7 190.85,184.3 190.89,179.5 190.94,181.6 190.98,186.1 191.03,181.2 191.07,183.4 191.12,177.6 191.16,181.0 191.21,184.7 191.25,186.2 191.30,181.3 191.35,180.5 191.39,187.3 191.44,187.2 191.48,184.8 191.53,176.2 191.57,172.4 191.62,178.3 191.66,174.3 191.71,172.7 191.75,177.5 191.80,181.9 191.85,174.8 191.89,181.1 191.94,175.5 191.98,177.3 192.03,184.2 192.07,178.6 192.12,171.9 192.16,177.3 192.21,188.3 192.25,189.1 192.30,179.2 192.35,184.0 192.39,174.5 192.44,172.5 192.48,173.8 192.53,180.0 192.57,175.6 192.62,178.1 192.66,177.1 192.71,182.2 192.75,186.4 192.80,186.6 192.85,196.4 192.89,184.7 192.94,179.2 192.98,176.6 193.03,182.9 193.07,172.6 193.12,175.9 193.16,180.8 193.21,183.0 193.25,177.0 193.30,177.2 193.35,181.0 193.39,184.4 193.44,183.3 193.48,189.4 193.53,191.2 193.57,189.6 193.62,190.1 193.66,188.3 193.71,188.2 193.75,187.0 193.80,184.8 193.85,189.9 193.89,187.7 193.94,185.4 193.98,182.9 194.03,181.6 194.07,189.6 194.12,191.3 194.16,194.3 194.21,178.4 194.25,196.1 194.30,185.7 194.35,183.7 194.39,181.1 194.44,179.5 194.48,186.8 194.53,193.0 194.57,190.7 194.62,187.5 194.66,183.4 194.71,184.5 194.75,191.0 194.80,181.8 194.85,181.8 194.89,189.4 194.94,194.8 194.98,191.7 195.03,182.3 195.07,176.9 195.12,179.5 195.16,179.0 195.21,182.4 195.25,178.8 195.30,179.6 195.35,186.2 195.39,177.0 195.44,180.0 195.48,179.8 195.53,175.1 195.57,178.4 195.62,177.6 195.66,180.2 195.71,174.7 195.75,176.3 195.80,178.0 195.85,180.6 195.89,181.9 195.94,182.0 195.98,186.9 196.03,186.6 196.07,182.9 196.12,186.4 196.16,190.0 196.21,186.6 196.25,189.8 196.30,190.1 196.35,185.7 196.39,183.4 196.44,184.7 196.48,185.6 196.53,188.0 196.57,185.7 196.62,189.2 196.66,184.1 196.71,191.8 196.75,194.4 196.80,187.2 196.85,183.4 196.89,191.7 196.94,183.6 196.98,178.3 197.03,174.0 197.07,179.9 197.12,180.7 197.16,178.6 197.21,183.0 197.25,188.2 197.30,182.9 197.35,175.7 197.39,178.9 197.44,181.2 197.48,199.2 197.53,189.0 197.57,197.4 197.62,196.8 197.66,197.8 197.71,191.4 197.75,184.3 197.80,177.1 197.85,181.9 197.89,182.2 197.94,176.5 197.98,189.4 198.03,184.0 198.07,182.5 198.12,176.1 198.16,175.8 198.21,181.4 198.25,188.3 198.30,188.3 198.35,182.5 198.39,183.4 198.44,178.0 198.48,181.8 198.53,183.7 198.57,186.3 198.62,187.5 198.66,185.6 198.71,182.3 198.75,183.5 198.80,183.3 198.85,183.4 198.89,182.0 198.94,183.4 198.98,186.3 199.03,171.5 199.07,176.0 199.12,179.9 199.16,180.9 199.21,184.4 199.25,171.5 199.30,185.8 199.35,185.1 199.39,185.5 199.44,182.2 199.48,185.0 199.53,184.8 199.57,185.2 199.62,182.4 199.66,183.0 199.71,187.1 199.75,184.0 199.80,187.4 199.85,186.0 199.89,188.1 199.94,189.0 199.98,180.0 200.03,171.4 200.07,185.8 200.12,188.1 200.16,192.5 200.21,192.8 200.25,185.2 200.30,189.6 200.35,188.1 200.39,187.3 200.44,185.7 200.48,193.1 200.53,198.9 200.57,195.0 200.62,194.5 200.66,181.9 200.71,193.3 200.75,195.1 200.80,188.9 200.85,177.0 200.89,174.2 200.94,177.5 200.98,185.0 201.03,187.4 201.07,181.6 201.12,190.7 201.16,191.7 201.21,192.2 201.25,189.0 201.30,184.7 201.35,179.2 201.39,176.2 201.44,179.5 201.48,175.7 201.53,182.2 201.57,183.8 201.62,185.5 201.66,174.4 201.71,177.9 201.75,179.0 201.80,182.6 201.85,180.4 201.89,174.7 201.94,179.9 201.98,182.1 202.03,181.4 202.07,177.8 202.12,184.4 202.16,188.3 202.21,192.5 202.25,189.7 202.30,186.9 202.35,185.7 202.39,183.6 202.44,176.3 202.48,190.8 202.53,182.8 202.57,178.2 202.62,179.2 202.66,180.3 202.71,178.0 202.75,179.9 202.80,180.6 202.85,178.3 202.89,185.8 202.94,174.3 202.98,186.6 203.03,180.9 203.07,180.5 203.12,178.3 203.16,177.7 203.21,179.1 203.25,184.4 203.30,186.1 203.35,191.4 203.39,195.2 203.44,192.1 203.48,185.1 203.53,179.2 203.57,177.5 203.62,179.0 203.66,181.9 203.71,174.7 203.75,185.8 203.80,181.7 203.85,179.8 203.89,179.5 203.94,177.7 203.98,181.4 204.03,182.6 204.07,181.6 204.12,183.4 204.16,186.7 204.21,182.5 204.25,180.6 204.30,182.8 204.35,182.9 204.39,172.5 204.44,179.1 204.48,176.4 204.53,172.5 204.57,169.5 204.62,171.9 204.66,174.6 204.71,173.2 204.75,176.2 204.80,176.7 204.85,194.2 204.89,180.1 204.94,166.7 204.98,167.6 205.03,174.3 205.07,170.5 205.12,171.2 205.16,183.7 205.21,175.5 205.25,170.6 205.30,169.9 205.35,174.3 205.39,175.3 205.44,183.7 205.48,176.7 205.53,177.6 205.57,177.4 205.62,169.5 205.66,175.0 205.71,177.4 205.75,176.2 205.80,177.0 205.85,180.5 205.89,185.1 205.94,179.4 205.98,176.3 206.03,175.7 206.07,172.7 206.12,183.2 206.16,175.9 206.21,173.7 206.25,176.6 206.30,182.7 206.35,180.7 206.39,178.6 206.44,173.9 206.48,177.0 206.53,181.3 206.57,176.8 206.62,175.1 206.66,177.3 206.71,183.6 206.75,178.2 206.80,171.2 206.85,178.5 206.89,168.5 206.94,175.9 206.98,181.0 207.03,179.6 207.07,182.3 207.12,180.4 207.16,176.7 207.21,167.7 207.25,169.0 207.30,182.6 207.35,170.5 207.39,180.1 207.44,176.2 207.48,175.9 207.53,185.0 207.57,178.8 207.62,163.9 207.66,172.3 207.71,168.7 207.75,183.8 207.80,184.3 207.85,171.9 207.89,171.1 207.94,178.5 207.98,184.9 208.03,189.3 208.07,185.7 208.12,178.3 208.16,183.0 208.21,180.0 208.25,182.7 208.30,180.5 208.35,190.7 208.39,181.0 208.44,180.6 208.48,189.6 208.53,190.0 208.57,182.4 208.62,182.0 208.66,180.9 208.71,184.6 208.75,181.6 208.80,178.1 208.85,177.2 208.89,178.4 208.94,178.1 208.98,171.8 209.03,174.7 209.07,177.0 209.12,179.1 209.16,183.0 209.21,164.4 209.25,178.8 209.30,185.5 209.35,189.6 209.39,186.6 209.44,186.7 209.48,178.9 209.53,183.0 209.57,178.4 209.62,177.0 209.66,171.9 209.71,177.7 209.75,169.8 209.80,186.8 209.85,184.5 209.89,163.3 209.94,186.8 209.98,187.2 210.03,185.1 210.07,182.2 210.12,186.9 210.16,188.8 210.21,187.9 210.25,183.9 210.30,181.7 210.35,181.1 210.39,181.0 210.44,180.9 210.48,178.9 210.53,184.0 210.57,188.8 210.62,183.9 210.66,187.4 210.71,184.3 210.75,183.5 210.80,180.9 210.85,182.8 210.89,171.1 210.94,178.0 210.98,178.1 211.03,175.8 211.07,178.7 211.12,181.1 211.16,180.2 211.21,180.3 211.25,177.9 211.30,178.6 211.35,188.8 211.39,187.5 211.44,182.0 211.48,176.7 211.53,174.1 211.57,181.3 211.62,182.1 211.66,182.8 211.71,176.4 211.75,180.5 211.80,182.5 211.85,180.4 211.89,183.7 211.94,180.4 211.98,187.0 212.03,186.4 212.07,186.5 212.12,185.9 212.16,183.2 212.21,181.5 212.25,186.5 212.30,181.5 212.35,186.0 212.39,190.8 212.44,189.1 212.48,187.1 212.53,177.8 212.57,182.8 212.62,176.9 212.66,181.3 212.71,178.1 212.75,177.9 212.80,181.9 212.85,176.3 212.89,178.5 212.94,182.5 212.98,189.0 213.03,186.4 213.07,187.6 213.12,189.0 213.16,185.8 213.21,184.3 213.25,178.4 213.30,182.7 213.35,184.3 213.39,181.9 213.44,186.2 213.48,187.1 213.53,183.1 213.57,184.6 213.62,181.2 213.66,182.2 213.71,173.4 213.75,182.7 213.80,177.9 213.85,182.2 213.89,184.0 213.94,179.9 213.98,182.3 214.03,190.7 214.07,191.8 214.12,181.0 214.16,177.9 214.21,180.7 214.25,178.7 214.30,170.0 214.35,172.9 214.39,174.5 214.44,176.5 214.48,182.7 214.53,185.0 214.57,177.5 214.62,190.4 214.66,182.8 214.71,179.8 214.75,174.7 214.80,166.5 214.85,174.3 214.89,180.0 214.94,173.8 214.98,181.1 215.03,184.4 215.07,179.8 215.12,182.1 215.16,190.4 215.21,196.1 215.25,197.5 215.30,192.6 215.35,192.6 215.39,185.8 215.44,184.2 215.48,187.2 215.53,179.1 215.57,184.5 215.62,187.9 215.66,184.1 215.71,187.0 215.75,177.8 215.80,181.3 215.85,183.4 215.89,176.6 215.94,180.6 215.98,181.5 216.03,178.6 216.07,181.7 216.12,186.4 216.16,185.4 216.21,182.5 216.25,187.3 216.30,175.2 216.35,174.7 216.39,173.1 216.44,182.2 216.48,181.2 216.53,182.8 216.57,187.9 216.62,185.7 216.66,185.8 216.71,188.6 216.75,187.1 216.80,177.5 216.85,173.9 216.89,181.6 216.94,181.2 217.00,160.8 217.03,184.9 217.07,182.7 217.12,182.7 217.16,194.1 217.21,187.6 217.25,198.8 217.30,183.8 217.35,181.3 217.39,175.1 217.44,178.7 217.48,179.5 217.53,187.4 217.57,183.8 217.62,185.9 217.66,182.2 217.71,182.5 217.75,189.0 217.80,178.3 217.85,177.0 217.89,174.6 217.94,182.7 217.98,182.6 218.03,183.6 218.07,183.8 218.12,181.9 218.16,173.4 218.21,184.5 218.25,181.4 218.30,174.0 218.35,171.7 218.39,180.1 218.44,178.0 218.48,181.7 218.53,181.9 218.57,182.1 218.62,178.6 218.66,183.4 218.71,187.4 218.75,185.9 218.80,176.5 218.85,169.1 218.89,172.9 218.94,176.5 218.98,176.9 219.03,177.4 219.07,185.7 219.12,180.3 219.16,186.8 219.21,190.9 219.25,195.4 219.30,186.7 219.35,184.1 219.39,179.4 219.44,179.3 219.48,174.3 219.53,172.7 219.57,185.0 219.62,180.9 219.66,181.6 219.71,179.8 219.75,177.3 219.80,176.0 219.85,176.8 219.89,178.6 219.94,183.1 219.98,182.3 220.03,177.2 220.07,171.3 220.12,176.6 220.16,185.2 220.21,180.7 220.25,181.1 220.30,173.6 220.35,177.5 220.39,183.3 220.44,184.0 220.48,182.8 220.53,187.6 220.57,180.7 220.62,180.6 220.66,185.1 220.71,168.1 220.75,170.4 220.80,180.0 220.85,184.0 220.89,181.5 220.94,181.0 220.98,184.0 221.03,185.3 221.07,186.2 221.12,186.9 221.16,184.0 221.21,183.1 221.25,182.9 221.30,183.8 221.35,178.5 221.39,180.7 221.44,164.4 221.48,182.8 221.53,182.1 221.57,181.6 221.62,184.4 221.66,185.0 221.71,182.9 221.75,182.2 221.80,182.2 221.85,181.4 221.89,178.3 221.94,176.8 221.98,172.2 222.03,174.0 222.07,175.7 222.12,183.2 222.16,179.8 222.21,185.6 222.25,179.3 222.30,174.0 222.35,177.6 222.39,170.3 222.44,171.1 222.48,172.9 222.53,174.9 222.57,177.5 222.62,173.7 222.66,184.8 222.71,184.4 222.75,180.2 222.80,181.7 222.85,178.5 222.89,178.3 222.94,184.1 222.98,177.2 223.03,170.1 223.07,175.4 223.12,170.7 223.16,167.9 223.21,175.3 223.25,175.4 223.30,173.0 223.35,170.5 223.39,171.8 223.44,172.8 223.48,173.7 223.53,184.5 223.57,183.9 223.62,183.3 223.66,180.0 223.71,174.9 223.75,178.8 223.80,180.5 223.85,171.3 223.89,169.2 223.94,166.0 223.98,177.6 224.03,173.7 224.07,173.0 224.12,169.9 224.16,175.4 224.21,185.3 224.25,176.2 224.30,169.0 224.35,175.9 224.39,182.1 224.44,184.9 224.48,178.6 224.53,175.5 224.57,174.9 224.62,178.0 224.66,174.0 224.71,171.1 224.75,178.1 224.80,178.9 224.85,169.1 224.89,172.8 224.94,163.7 224.98,176.5 225.03,172.7 225.07,172.3 225.12,173.1 225.16,173.6 225.21,179.4 225.25,172.1 225.30,176.2 225.35,176.0 225.39,183.0 225.44,176.7 225.48,166.3 225.53,176.3 225.57,183.4 225.62,192.6 225.66,179.8 225.71,175.8 225.75,174.5 225.80,178.1 225.85,176.0 225.89,172.1 225.94,181.5 225.98,174.5 226.03,171.2 226.07,167.8 226.12,167.7 226.16,176.3 226.21,176.5 226.25,180.9 226.30,180.2 226.35,182.2 226.39,177.6 226.44,174.6 226.48,182.4 226.53,175.0 226.57,178.1 226.62,176.0 226.66,179.0 226.71,176.2 226.75,170.4 226.80,177.7 226.85,183.8 226.89,173.9 226.94,176.2 226.98,181.3 227.03,181.1 227.07,168.4 227.12,171.0 227.16,179.5 227.21,181.0 227.25,182.1 227.30,180.4 227.35,173.4 227.39,184.0 227.44,190.1 227.48,183.0 227.53,175.8 227.57,177.8 227.62,173.8 227.66,174.5 227.71,174.5 227.75,184.9 227.80,178.1 227.85,182.0 227.89,186.2 227.94,186.5 227.98,175.2 228.03,174.9 228.07,178.9 228.12,180.7 228.16,181.5 228.21,173.5 228.25,180.3 228.30,180.6 228.35,186.7 228.39,183.2 228.44,188.3 228.48,182.2 228.53,183.8 228.57,181.5 228.62,182.6 228.66,179.4 228.71,176.6 228.75,185.5 228.80,184.5 228.85,176.1 228.89,175.6 228.94,176.3 228.98,179.5 229.03,179.2 229.07,182.4 229.12,181.8 229.16,189.6 229.21,184.5 229.25,188.1 229.30,192.4 229.35,191.0 229.39,192.7 229.44,188.6 229.48,190.8 229.53,181.4 229.57,185.7 229.62,178.2 229.66,181.0 229.71,184.2 229.75,190.4 229.80,195.6 229.85,180.7 229.89,183.2 229.94,184.2 229.98,186.7 230.03,185.3 230.07,179.4 230.12,171.7 230.16,176.2 230.21,177.3 230.25,174.2 230.30,166.6 230.35,167.2 230.39,170.1 230.44,178.5 230.48,174.9 230.53,176.4 230.57,174.8 230.62,171.5 230.66,177.4 230.71,168.8 230.75,165.9 230.80,172.1 230.85,175.4 230.89,178.9 230.94,173.1 230.98,179.3 231.03,180.0 231.07,180.1 231.12,189.2 231.16,183.6 231.21,181.0 231.25,174.9 231.30,173.6 231.35,170.8 231.39,172.4 231.44,176.1 231.48,175.5 231.53,176.2 231.57,175.7 231.62,169.1 231.66,169.0 231.71,170.9 231.75,169.3 231.80,173.7 231.85,170.4 231.89,164.7 231.94,165.6 231.98,175.6 232.03,177.8 232.07,170.2 232.12,177.1 232.16,172.1 232.21,166.5 232.25,177.6 232.30,174.6 232.35,179.5 232.39,170.8 232.44,172.0 232.48,170.9 232.53,169.4 232.57,182.4 232.62,183.3 232.66,181.1 232.71,190.0 232.75,190.1 232.80,186.6 232.85,184.6 232.89,173.8 232.94,182.6 232.98,178.0 233.03,178.5 233.07,183.5 233.12,178.8 233.16,177.5 233.21,179.2 233.25,175.8 233.30,182.2 233.35,185.1 233.39,176.0 233.44,180.9 233.48,174.1 233.53,175.0 233.57,174.2 233.62,172.9 233.66,174.5 233.71,168.5 233.75,180.8 233.80,170.6 233.85,162.3 233.89,168.5 233.94,174.1 233.98,173.7 234.03,163.1 234.07,162.3 234.12,173.8 234.16,181.2 234.21,178.3 234.25,179.8 234.30,180.0 234.35,180.1 234.39,180.4 234.44,176.5 234.48,179.9 234.53,177.9 234.57,174.8 234.62,168.7 234.66,179.1 234.71,182.9 234.75,180.3 234.80,171.6 234.85,186.5 234.89,175.7 234.94,174.9 234.98,182.1 235.03,178.5 235.07,187.9 235.12,181.9 235.16,185.2 235.21,184.1 235.25,174.0 235.30,173.6 235.35,183.9 235.39,183.2 235.44,183.7 235.48,183.7 235.53,188.0 235.57,183.4 235.62,182.6 235.66,172.9 235.71,174.7 235.75,182.0 235.80,179.7 235.85,181.3 235.89,177.9 235.94,181.9 235.98,168.6 236.03,174.2 236.07,168.4 236.12,167.2 236.16,170.2 236.21,166.4 236.25,164.5 236.30,173.9 236.35,176.9 236.39,178.5 236.44,182.7 236.48,186.9 236.53,185.9 236.57,188.7 236.62,186.6 236.66,182.2 236.71,177.4 236.75,172.6 236.80,169.9 236.85,179.6 236.89,169.6 236.94,179.1 236.98,171.6 237.03,182.1 237.07,189.7 237.12,178.4 237.16,175.1 237.21,176.2 237.25,178.9 237.30,181.9 237.35,180.4 237.39,189.5 237.44,194.0 237.48,177.0 237.53,181.3 237.57,173.3 237.62,174.1 237.66,167.1 237.71,176.6 237.75,172.7 237.80,178.9 237.85,180.9 237.89,179.5 237.94,168.3 237.98,173.7 238.03,176.9 238.07,177.1 238.12,191.6 238.16,184.5 238.21,184.3 238.25,177.1 238.30,181.6 238.35,179.5 238.39,180.2 238.44,171.7 238.48,193.7 238.53,176.0 238.57,175.0 238.62,177.7 238.66,170.2 238.71,177.6 238.75,173.0 238.80,179.2 238.85,177.7 238.89,171.2 238.94,168.0 238.98,181.9 239.03,183.8 239.07,185.8 239.12,179.3 239.16,186.5 239.21,175.3 239.25,172.4 239.30,175.8 239.35,170.7 239.39,178.6 239.44,180.4 239.48,172.8 239.53,164.3 239.57,175.7 239.62,174.8 239.66,177.5 239.71,182.1 239.75,181.5 239.80,179.6 239.85,178.3 239.89,173.6 239.94,176.5 239.98,177.4 240.03,179.9 240.07,190.9 240.12,180.8 240.16,177.8 240.21,182.7 240.25,179.5 240.30,172.5 240.35,167.5 240.39,173.3 240.44,181.2 240.48,192.1 240.53,183.1 240.57,177.9 240.62,175.2 240.66,169.3 240.71,177.5 240.75,177.6 240.80,170.5 240.85,168.1 240.89,170.6 240.94,177.0 240.98,181.2 241.03,171.9 241.07,177.2 241.12,168.2 241.16,173.8 241.21,174.2 241.25,170.8 241.30,172.3 241.35,177.9 241.39,182.0 241.44,183.1 241.48,190.9 241.53,180.9 241.57,175.7 241.62,192.3 241.66,172.5 241.71,169.6 241.75,172.1 241.80,168.4 241.85,170.1 241.89,174.9 241.94,181.8 241.98,175.5 242.03,171.7 242.07,173.3 242.12,166.8 242.16,178.2 242.21,170.1 242.25,173.4 242.30,171.0 242.35,169.6 242.39,169.5 242.44,183.5 242.48,184.0 242.53,181.3 242.57,179.5 242.62,180.0 242.66,177.2 242.71,180.0 242.75,179.9 242.80,178.7 242.85,181.9 242.89,175.8 242.94,179.4 242.98,176.7 243.03,186.8 243.07,179.8 243.12,177.5 243.16,174.8 243.21,170.9 243.25,170.3 243.30,175.0 243.35,176.3 243.39,171.2 243.44,176.1 243.48,178.0 243.53,179.3 243.57,179.8 243.62,183.3 243.66,187.8 243.71,178.3 243.75,184.8 243.80,182.7 243.85,180.3 243.89,186.5 243.94,185.1 243.98,179.8 244.03,187.4 244.07,184.3 244.12,177.1 244.16,181.7 244.21,176.3 244.25,175.4 244.30,174.5 244.35,173.8 244.39,184.1 244.44,178.7 244.48,175.8 244.53,177.4 244.57,177.1 244.62,176.1 244.66,177.3 244.71,175.5 244.75,172.2 244.80,177.8 244.85,175.2 244.89,177.2 244.94,174.8 244.98,175.2 245.03,176.9 245.07,176.2 245.12,175.2 245.16,172.4 245.21,174.8 245.25,174.5 245.30,172.1 245.35,177.8 245.39,175.5 245.44,178.7 245.48,171.6 245.53,176.5 245.57,174.7 245.62,180.9 245.66,177.3 245.71,177.8 245.75,177.1 245.80,175.4 245.85,175.3 245.89,176.8 245.94,175.8 245.98,186.9 246.03,182.8 246.07,186.4 246.12,181.8 246.16,176.2 246.21,176.2 246.25,182.3 246.30,176.8 246.35,173.7 246.39,167.3 246.44,173.6 246.48,180.0 246.53,179.8 246.57,177.7 246.62,180.1 246.66,179.1 246.71,174.4 246.75,172.7 246.80,170.5 246.85,174.7 246.89,179.3 246.94,184.0 246.98,182.4 247.03,174.1 247.07,175.3 247.12,170.0 247.16,169.4 247.21,183.4 247.25,183.4 247.30,181.4 247.35,175.1 247.39,175.3 247.44,173.9 247.48,165.0 247.53,182.7 247.57,176.5 247.62,171.1 247.66,176.3 247.71,177.0 247.75,172.0 247.80,167.8 247.85,172.8 247.89,179.2 247.94,180.5 247.98,184.9 248.03,176.5 248.07,159.9 248.12,178.1 248.16,171.4 248.21,178.3 248.25,168.2 248.30,168.3 248.35,170.6 248.39,169.5 248.44,170.3 248.48,180.9 248.53,185.3 248.57,186.3 248.62,184.1 248.66,174.3 248.71,176.2 248.75,181.1 248.80,183.1 248.85,183.9 248.89,183.2 248.94,175.7 248.98,181.4 249.03,176.4 249.07,178.3 249.12,173.5 249.16,188.7 249.21,188.2 249.25,188.4 249.30,186.2 249.35,179.7 249.39,177.2 249.44,177.1 249.48,180.4 249.53,177.2 249.57,175.9 249.62,179.2 249.66,173.8 249.71,172.1 249.75,175.0 249.80,175.0 249.85,177.6 249.89,173.5 249.94,178.5 249.98,177.3 250.03,178.7 250.07,179.5 250.12,178.7 250.16,177.4 250.21,174.7 250.25,169.8 250.30,174.6 250.35,176.0 250.39,173.0 250.44,180.6 250.48,172.8 250.53,174.2 250.57,174.1 250.62,181.9 250.66,176.8 250.71,178.7 250.75,173.8 250.80,173.4 250.85,180.6 250.89,175.9 250.94,168.8 250.98,170.2 251.03,167.9 251.07,166.1 251.12,175.1 251.16,174.9 251.21,166.9 251.25,164.6 251.30,166.1 251.35,181.2 251.39,187.6 251.44,172.7 251.48,179.7" fill="none" stroke="#ff0000" stroke-width="0.6" stroke-linejoin="round"/>
<rect x="205.2" y="81.2" width="79.4" height="34.7" fill="#000"/>
<rect x="202.6" y="78.6" width="79.4" height="34.7" fill="#fff" stroke="#333" stroke-width="0.8"/>
<path d="M210,90.4 H228.7" stroke="#000" stroke-width="1"/>
<path d="M210,103.3 H228.7" stroke="#ff0000" stroke-width="1"/>
<g transform="translate(231.8,0) scale(0.87,1)"><text x="0" y="92.9" font-size="8.8" font-weight="bold" fill="#000">3CL<tspan font-size="5.2" dy="-3.7">pro</tspan></text><text x="0" y="106.3" font-size="8.8" font-weight="bold" fill="#000">3CL<tspan font-size="5.2" dy="-3.7">pro</tspan><tspan dy="3.7">-2OCA</tspan></text></g>
<path d="M391.6,95.0 V293.6 M390.4,293.1 H629.8" stroke="#3a3a3a" stroke-width="1.2" fill="none"/>
<path d="M389.80,293.00 H391.6 M388.00,282.00 H391.6 M389.80,271.00 H391.6 M388.00,260.00 H391.6 M389.80,249.00 H391.6 M388.00,238.00 H391.6 M389.80,227.00 H391.6 M388.00,216.00 H391.6 M389.80,205.00 H391.6 M388.00,194.00 H391.6 M389.80,183.00 H391.6 M388.00,172.00 H391.6 M389.80,161.00 H391.6 M388.00,150.00 H391.6 M389.80,139.00 H391.6 M388.00,128.00 H391.6 M389.80,117.00 H391.6 M388.00,106.00 H391.6 M389.80,95.00 H391.6 M408.65,293.1 V295.50 M425.70,293.1 V297.30 M442.75,293.1 V295.50 M459.80,293.1 V297.30 M476.85,293.1 V295.50 M493.90,293.1 V297.30 M510.95,293.1 V295.50 M528.00,293.1 V297.30 M545.05,293.1 V295.50 M562.10,293.1 V297.30 M579.15,293.1 V295.50 M596.20,293.1 V297.30 M613.25,293.1 V295.50 M630.30,293.1 V297.30" stroke="#2a2a2a" stroke-width="1.0" fill="none"/>
<text x="386.4" y="284.10" font-size="8.0" font-weight="bold" text-anchor="end" fill="#000" textLength="4.0" lengthAdjust="spacingAndGlyphs">2</text>
<text x="386.4" y="262.10" font-size="8.0" font-weight="bold" text-anchor="end" fill="#000" textLength="4.0" lengthAdjust="spacingAndGlyphs">4</text>
<text x="386.4" y="240.10" font-size="8.0" font-weight="bold" text-anchor="end" fill="#000" textLength="4.0" lengthAdjust="spacingAndGlyphs">6</text>
<text x="386.4" y="218.10" font-size="8.0" font-weight="bold" text-anchor="end" fill="#000" textLength="4.0" lengthAdjust="spacingAndGlyphs">8</text>
<text x="386.4" y="196.10" font-size="8.0" font-weight="bold" text-anchor="end" fill="#000" textLength="8.0" lengthAdjust="spacingAndGlyphs">10</text>
<text x="386.4" y="174.10" font-size="8.0" font-weight="bold" text-anchor="end" fill="#000" textLength="8.0" lengthAdjust="spacingAndGlyphs">12</text>
<text x="386.4" y="152.10" font-size="8.0" font-weight="bold" text-anchor="end" fill="#000" textLength="8.0" lengthAdjust="spacingAndGlyphs">14</text>
<text x="386.4" y="130.10" font-size="8.0" font-weight="bold" text-anchor="end" fill="#000" textLength="8.0" lengthAdjust="spacingAndGlyphs">16</text>
<text x="386.4" y="108.10" font-size="8.0" font-weight="bold" text-anchor="end" fill="#000" textLength="8.0" lengthAdjust="spacingAndGlyphs">18</text>
<text x="425.70" y="306.0" font-size="7.8" font-weight="bold" text-anchor="middle" fill="#000" textLength="7.5" lengthAdjust="spacingAndGlyphs">50</text>
<text x="459.80" y="306.0" font-size="7.8" font-weight="bold" text-anchor="middle" fill="#000" textLength="11.3" lengthAdjust="spacingAndGlyphs">100</text>
<text x="493.90" y="306.0" font-size="7.8" font-weight="bold" text-anchor="middle" fill="#000" textLength="11.3" lengthAdjust="spacingAndGlyphs">150</text>
<text x="528.00" y="306.0" font-size="7.8" font-weight="bold" text-anchor="middle" fill="#000" textLength="11.3" lengthAdjust="spacingAndGlyphs">200</text>
<text x="562.10" y="306.0" font-size="7.8" font-weight="bold" text-anchor="middle" fill="#000" textLength="11.3" lengthAdjust="spacingAndGlyphs">250</text>
<text x="596.20" y="306.0" font-size="7.8" font-weight="bold" text-anchor="middle" fill="#000" textLength="11.3" lengthAdjust="spacingAndGlyphs">300</text>
<text x="630.30" y="306.0" font-size="7.8" font-weight="bold" text-anchor="middle" fill="#000" textLength="11.3" lengthAdjust="spacingAndGlyphs">350</text>
<text transform="translate(371.1,224.8) rotate(-90)" x="0" y="0" font-size="9.4" font-weight="bold" fill="#000" textLength="46.1" lengthAdjust="spacingAndGlyphs">RMSF (A)</text>
<text x="479.2" y="29.2" font-size="16.7" font-weight="bold" text-anchor="start" fill="#000" textLength="8.7" lengthAdjust="spacingAndGlyphs">B</text>
<polyline points="391.90,147.0 392.60,160.0 393.20,190.0 394.10,158.0 394.80,201.0 395.80,185.0 396.40,200.0 397.30,167.0 398.20,185.0 399.20,143.0 400.30,175.0 401.40,166.0 402.50,200.0 403.20,212.0 404.20,240.0 405.20,222.0 406.20,236.0 407.30,210.0 407.90,236.0 408.60,215.0 409.50,245.0 410.60,210.0 411.60,190.0 412.30,174.0 413.30,139.0 414.30,165.0 415.30,190.0 416.00,207.7 416.70,225.0 417.70,240.0 418.30,211.0 419.30,228.0 420.30,225.0 421.50,200.0 422.40,185.0 423.40,168.0 424.30,180.0 425.50,152.0 426.30,175.0 427.00,160.0 427.50,174.0 428.20,155.0 429.00,168.0 429.80,187.0 430.90,166.0 432.00,190.0 433.00,180.0 434.30,193.0 435.20,205.0 436.30,227.0 437.50,200.0 438.50,170.0 439.35,148.0 440.20,125.0 441.20,159.0 442.50,172.0 443.40,166.1 444.30,159.0 445.30,179.0 446.30,175.0 447.30,183.0 448.00,190.0 448.70,186.0 449.40,223.0 450.50,205.0 451.40,190.0 452.10,175.9 452.80,160.0 454.00,140.0 455.00,126.0 455.80,135.0 456.80,112.0 458.00,132.0 458.75,128.5 459.50,124.0 460.50,160.0 461.60,190.0 462.50,205.0 463.25,218.3 464.00,230.0 465.20,250.0 466.00,262.0 466.80,250.0 467.50,265.0 468.50,240.0 469.50,215.0 470.50,195.0 471.40,187.0 472.30,195.0 473.40,200.0 474.50,190.0 475.50,185.0 476.50,200.0 477.80,235.0 478.80,262.0 479.70,250.0 481.00,225.0 481.75,216.6 482.50,210.0 483.80,245.0 485.00,205.0 486.20,195.0 487.50,179.0 488.70,206.0 490.00,240.0 491.10,265.0 491.80,254.9 492.50,245.0 493.60,215.0 494.30,188.4 495.00,160.0 495.80,142.3 496.60,124.0 497.50,150.0 498.50,200.0 499.50,250.0 500.30,270.0 501.20,275.0 502.50,255.0 503.50,225.0 504.50,190.0 505.80,158.0 506.80,185.0 508.00,220.0 509.20,250.0 510.50,225.0 511.50,200.0 512.20,183.0 513.00,204.0 514.20,215.0 515.40,232.0 516.20,200.0 516.60,170.0 517.30,165.8 518.00,160.0 518.75,151.7 519.50,145.0 520.40,131.9 521.30,119.0 522.50,150.0 523.50,185.0 524.50,205.0 525.35,214.0 526.20,224.0 527.50,245.0 528.50,258.0 529.70,262.0 530.70,255.0 531.80,250.0 532.80,242.0 533.80,240.0 534.60,215.0 535.50,200.0 536.50,190.0 537.60,178.0 538.50,190.0 539.50,172.0 540.30,188.0 541.50,175.0 542.50,190.0 543.70,162.0 544.50,175.0 545.50,150.0 546.30,135.0 547.50,160.0 548.50,145.0 549.30,125.0 550.50,150.0 551.20,132.6 551.90,115.0 553.00,160.0 553.95,168.1 554.90,176.0 555.70,184.0 556.60,175.0 557.40,165.6 558.20,204.0 559.00,234.0 559.80,215.0 560.70,188.0 561.50,200.0 562.30,206.0 563.50,225.0 564.25,231.5 565.00,240.0 565.60,215.0 566.50,204.0 567.50,230.0 568.20,236.9 568.90,245.0 570.00,235.0 571.00,220.0 572.10,206.0 573.20,180.0 573.90,169.6 574.60,160.0 575.50,150.0 576.50,135.0 577.40,130.0 578.50,122.0 579.80,112.0 581.00,140.0 582.00,160.0 583.00,185.0 584.00,175.0 585.00,165.0 586.20,195.0 586.95,205.8 587.70,215.0 588.80,235.0 589.50,244.5 590.20,253.0 591.50,235.0 592.50,215.0 593.25,204.3 594.00,195.0 594.75,185.6 595.50,175.0 596.40,155.4 597.50,154.3 598.60,178.4 599.70,161.0" fill="none" stroke="#000" stroke-width="1.05" stroke-linejoin="round"/>
<polyline points="391.90,150.0 392.60,170.0 393.20,205.0 394.10,165.0 394.60,214.0 395.60,190.0 396.20,205.0 397.30,172.0 398.20,195.0 399.20,152.5 400.30,180.0 401.40,165.0 402.50,205.0 403.20,218.0 404.00,231.9 404.80,246.0 405.80,225.0 406.60,232.0 407.30,218.0 408.20,240.0 409.50,257.0 410.60,215.0 411.60,180.0 412.60,158.0 413.30,145.0 414.30,170.0 415.30,195.0 416.00,214.7 416.70,235.0 417.70,257.0 418.30,220.0 419.30,240.0 420.30,249.0 421.50,210.0 422.40,190.0 423.40,167.5 424.30,185.0 425.00,165.0 426.00,186.0 427.00,158.0 427.80,172.0 428.90,148.4 429.60,170.0 430.90,164.0 432.00,185.0 433.00,195.0 433.80,193.3 434.60,193.0 435.20,210.0 436.10,227.0 436.80,216.7 437.50,205.0 438.50,175.0 439.35,161.5 440.20,150.0 441.20,162.0 442.50,176.0 443.40,170.5 444.30,165.0 445.30,181.0 446.30,178.0 447.30,185.0 448.00,187.3 448.70,188.0 449.40,223.0 450.50,210.0 451.40,192.0 452.10,174.7 452.80,159.0 454.00,145.0 455.00,135.0 455.90,128.5 456.80,121.7 458.00,140.0 458.75,137.2 459.50,134.0 460.50,165.0 461.60,192.0 462.50,210.0 463.25,226.6 464.00,245.0 464.70,259.8 465.40,275.0 466.30,258.0 467.20,250.0 468.00,277.0 469.00,245.0 469.80,220.0 470.50,198.0 471.40,187.0 472.30,197.0 473.40,202.0 474.50,192.0 475.50,186.0 476.50,205.0 477.80,245.0 478.80,280.0 479.70,262.0 481.00,232.0 481.75,222.4 482.50,212.0 483.80,252.0 485.00,210.0 486.20,200.0 487.50,198.0 488.70,206.0 490.00,245.0 491.10,272.0 491.80,260.9 492.50,250.0 493.60,220.0 494.30,195.5 495.00,170.0 495.80,153.8 496.60,139.0 497.50,160.0 498.50,205.0 499.50,258.0 500.30,275.0 501.20,277.0 502.50,262.0 503.50,230.0 504.50,195.0 505.80,165.0 506.80,190.0 508.00,225.0 509.20,253.0 510.50,228.0 511.50,205.0 512.20,190.0 513.00,206.0 514.20,220.0 515.40,237.0 516.20,205.0 516.60,178.0 517.30,172.5 518.00,168.0 518.75,160.7 519.50,155.0 520.40,149.0 521.30,143.0 522.50,160.0 523.50,190.0 524.50,210.0 525.35,220.8 526.20,230.0 527.50,250.0 528.50,262.0 529.70,268.0 530.70,262.0 531.80,257.0 532.80,250.0 533.80,247.0 534.60,207.0 535.50,195.0 536.50,185.0 537.00,175.0 537.75,185.2 538.50,195.0 539.80,166.0 540.50,190.0 541.10,202.0 542.00,180.0 543.00,195.0 543.70,170.0 544.50,185.0 545.20,204.0 546.30,150.0 547.50,168.0 548.50,155.0 549.30,140.0 550.50,160.0 551.20,148.0 551.90,135.0 552.60,150.0 553.30,191.0 554.20,185.0 554.95,194.3 555.70,204.0 556.60,190.0 557.50,200.0 558.20,215.0 559.00,240.0 560.00,250.0 561.10,257.0 562.30,235.0 563.50,225.0 564.25,230.5 565.00,235.0 565.60,220.0 566.50,215.0 567.50,240.0 568.20,244.2 568.90,250.0 570.00,240.0 571.00,228.0 572.10,206.0 573.20,185.0 573.90,172.1 574.60,160.0 575.30,155.3 576.00,150.0 576.70,145.5 577.40,140.0 578.50,130.0 579.25,124.3 580.00,119.0 581.00,145.0 582.10,158.0 583.30,174.0 584.05,163.3 584.80,154.3 585.70,174.2 586.60,195.0 587.70,210.0 588.80,240.0 589.50,253.4 590.20,268.0 591.50,245.0 592.50,220.0 593.25,209.6 594.00,200.0 595.30,182.8 596.15,174.5 597.00,165.0 598.00,150.0 598.70,140.6 599.40,133.2 600.10,123.7" fill="none" stroke="#ff0000" stroke-width="0.95" stroke-linejoin="round"/>
<path d="M405.8,93 L406,201 M462.7,90 L411.3,207 M497.8,54.5 L484.6,176 M569,75 L494.8,191.5" stroke="#00b050" stroke-width="1.5" stroke-dasharray="3,2" fill="none"/>
<ellipse cx="407.8" cy="220.5" rx="3.4" ry="19.8" fill="none" stroke="#00b050" stroke-width="1.6"/>
<ellipse cx="487.6" cy="195" rx="5.9" ry="19.5" fill="none" stroke="#00b050" stroke-width="1.6"/>
<ellipse cx="435.5" cy="55" rx="42.3" ry="37.9" fill="#fff" stroke="#00b050" stroke-width="1.3"/>
<ellipse cx="539.1" cy="48" rx="41.8" ry="38.9" fill="#fff" stroke="#00b050" stroke-width="1.3"/>
<path d="M447,64.3 C440,63 433,64.5 428,69 C424,72.5 421.5,77.5 420.5,83.5" stroke="#0a0a0a" stroke-width="6.2" fill="none" stroke-linecap="round"/><path d="M435.6,78 C437,71 443,65.5 451.5,65.4 C459,65.6 464,71 466,79" stroke="#b00000" stroke-width="6" fill="none" stroke-linecap="round"/><path d="M439.5,69 C443,66.2 447,65.2 451.5,65.2 C456,65.4 460,67 462.5,70.5" stroke="#f01010" stroke-width="3" fill="none" stroke-linecap="round"/><path d="M436,77.5 C436.5,74.5 437.5,72 439,70" stroke="#7a0000" stroke-width="3.2" fill="none" stroke-linecap="round"/><path d="M452,43.5 V65.5" stroke="#f00000" stroke-width="4.6" stroke-linecap="butt"/><path d="M420.5,46.5 L432.3,64.5" stroke="#0a0a0a" stroke-width="4.4" stroke-linecap="round"/><path d="M420.5,49.4 L411.5,56" stroke="#111" stroke-width="3.7" stroke-linecap="round"/><circle cx="409.9" cy="56.6" r="1.9" fill="#efefef" stroke="#bbb" stroke-width="0.3"/><path d="M400.5,43 L421,43" stroke="#f00000" stroke-width="3.8" stroke-linecap="round"/><path d="M421,44 L452,44" stroke="#f00000" stroke-width="3.6" stroke-linecap="butt"/><path d="M452,42.5 L459.5,39.8" stroke="#f00000" stroke-width="3.4" stroke-linecap="round"/><path d="M424.8,44 L424.8,38 L443.5,36.8 L448,43.5" stroke="#f00000" stroke-width="3.2" stroke-linecap="round" stroke-linejoin="round" fill="none"/><path d="M424.5,44.6 L428.8,44.6" stroke="#4a66f0" stroke-width="3.4"/><polygon points="416.2,38.3 420.4,44 444.2,27 440.4,20.2" fill="#1c1c1c"/><path d="M427.5,31.2 L438.6,21.6" stroke="#5a78f5" stroke-width="2.6" stroke-linecap="round"/><path d="M434.5,24.8 L438.8,21.2" stroke="#5a78f5" stroke-width="3.6" stroke-linecap="round"/><circle cx="419.3" cy="35.8" r="2.2" fill="#5a78f5"/><path d="M425,38.8 L436,29.6" stroke="#d8d8d8" stroke-width="0.6"/><circle cx="442.5" cy="23.5" r="2.3" fill="#f6f6f6" stroke="#c8c8c8" stroke-width="0.4"/><circle cx="418.8" cy="42.3" r="2.1" fill="#f6f6f6" stroke="#c8c8c8" stroke-width="0.4"/><circle cx="443" cy="35.8" r="1.8" fill="#f6f6f6" stroke="#c8c8c8" stroke-width="0.4"/><circle cx="399.6" cy="42.8" r="1.9" fill="#f6f6f6" stroke="#c8c8c8" stroke-width="0.4"/><circle cx="460.3" cy="39.4" r="1.8" fill="#f6f6f6" stroke="#c8c8c8" stroke-width="0.4"/><circle cx="452" cy="38.4" r="2.2" fill="#555"/><circle cx="451.8" cy="37.3" r="1.4" fill="#eeeeee"/>
<text x="400.0" y="70.8" font-size="8.5" font-weight="bold" text-anchor="start" fill="#000" textLength="19.7" lengthAdjust="spacingAndGlyphs">His41</text>
<path d="M498.8,42.9 C503,45 507.5,47.5 510.2,50.7 C513.5,54.5 516,60 517.3,66.3" stroke="#ee1010" stroke-width="5" fill="none" stroke-linecap="round"/><path d="M500,42.6 C504,44.5 508,47 510.8,50" stroke="#ff8080" stroke-width="1" fill="none" stroke-linecap="round"/><path d="M520.2,38.3 C522.5,42 524.2,46 524.5,50.7 L525.6,63.3" stroke="#3a3a3a" stroke-width="4.3" fill="none" stroke-linecap="round"/><path d="M511.6,51.4 L529.4,31.5" stroke="#f00000" stroke-width="3.6" stroke-linecap="round"/><path d="M529.4,31.5 L542.9,35" stroke="#f00000" stroke-width="3.6" stroke-linecap="round"/><path d="M542.9,35 L551.4,36.5" stroke="#f2e41c" stroke-width="3.6" stroke-linecap="round"/><path d="M525.9,50 L552.9,37.9" stroke="#2e2e2e" stroke-width="3.6" stroke-linecap="round"/><path d="M553.6,37.2 L561.4,42.2" stroke="#111" stroke-width="3.4" stroke-linecap="round"/><path d="M561.4,42.9 L570,46.4 L577,39.3" stroke="#f2e41c" stroke-width="3.3" stroke-linecap="round" stroke-linejoin="round" fill="none"/><path d="M529.4,30 L529.6,23" stroke="#f4f4f4" stroke-width="2.8" stroke-linecap="round"/><path d="M551.5,35 L556.5,25.5" stroke="#f4f4f4" stroke-width="2.2" stroke-linecap="round"/><circle cx="553.6" cy="36.7" r="1.6" fill="#f4f4f4"/><circle cx="578.8" cy="37" r="1.7" fill="#f4f4f4" stroke="#ccc" stroke-width="0.3"/><circle cx="528.4" cy="30.8" r="1.3" fill="#f6c0c0"/>
<text x="535.8" y="66.3" font-size="9.6" font-weight="bold" text-anchor="start" fill="#000" textLength="32.7" lengthAdjust="spacingAndGlyphs">Cyss145</text>
<rect x="579.5" y="72.8" width="91.7" height="35.3" fill="#000"/>
<rect x="577.3" y="70.5" width="91.7" height="34.6" fill="#fff" stroke="#333" stroke-width="0.8"/>
<path d="M586.7,82.3 H608.4" stroke="#000" stroke-width="1"/>
<path d="M586.7,95.3 H608.4" stroke="#ff0000" stroke-width="1"/>
<g transform="translate(611.1,0) scale(0.99,1)"><text x="0" y="84.8" font-size="8.8" font-weight="bold" fill="#000">3CL<tspan font-size="5.2" dy="-3.7">pro</tspan></text><text x="0" y="98.3" font-size="8.8" font-weight="bold" fill="#000">3CL<tspan font-size="5.2" dy="-3.7">pro</tspan><tspan dy="3.7">-2OCA</tspan></text></g>
<path d="M397,315.2 C397,328.3 398,330.3 402.2,330.3 H424.7 C428.9,330.3 429.9,331.3 429.9,337.3 V345.5 M429.9,337.3 C429.9,331.3 430.9,330.3 435.09999999999997,330.3 H454.2 C458.4,330.3 459.4,328.3 459.4,315.2 M461.2,315.2 C461.2,328.3 462.2,330.3 466.4,330.3 H484.90000000000003 C489.1,330.3 490.1,331.3 490.1,337.3 V345.5 M490.1,337.3 C490.1,331.3 491.1,330.3 495.3,330.3 H510.50000000000006 C514.7,330.3 515.7,328.3 515.7,315.2 M517.3,315.2 C517.3,328.3 518.3,330.3 522.5,330.3 H559.0 C563.2,330.3 564.2,331.3 564.2,337.3 V345.5 M564.2,337.3 C564.2,331.3 565.2,330.3 569.4000000000001,330.3 H600.0 C604.2,330.3 605.2,328.3 605.2,315.2" stroke="#7030a0" stroke-width="1.4" fill="none"/>
<text x="410.8" y="359.0" font-size="10" font-weight="bold" text-anchor="start" fill="#000" textLength="34.4" lengthAdjust="spacingAndGlyphs">Domain I</text>
<text x="473" y="360.4" font-size="10" font-weight="bold" text-anchor="start" fill="#000" textLength="36.8" lengthAdjust="spacingAndGlyphs">Domain II</text>
<text x="535.7" y="361.5" font-size="10" font-weight="bold" text-anchor="start" fill="#000" textLength="38.2" lengthAdjust="spacingAndGlyphs">Domain III</text></svg></body></html>
